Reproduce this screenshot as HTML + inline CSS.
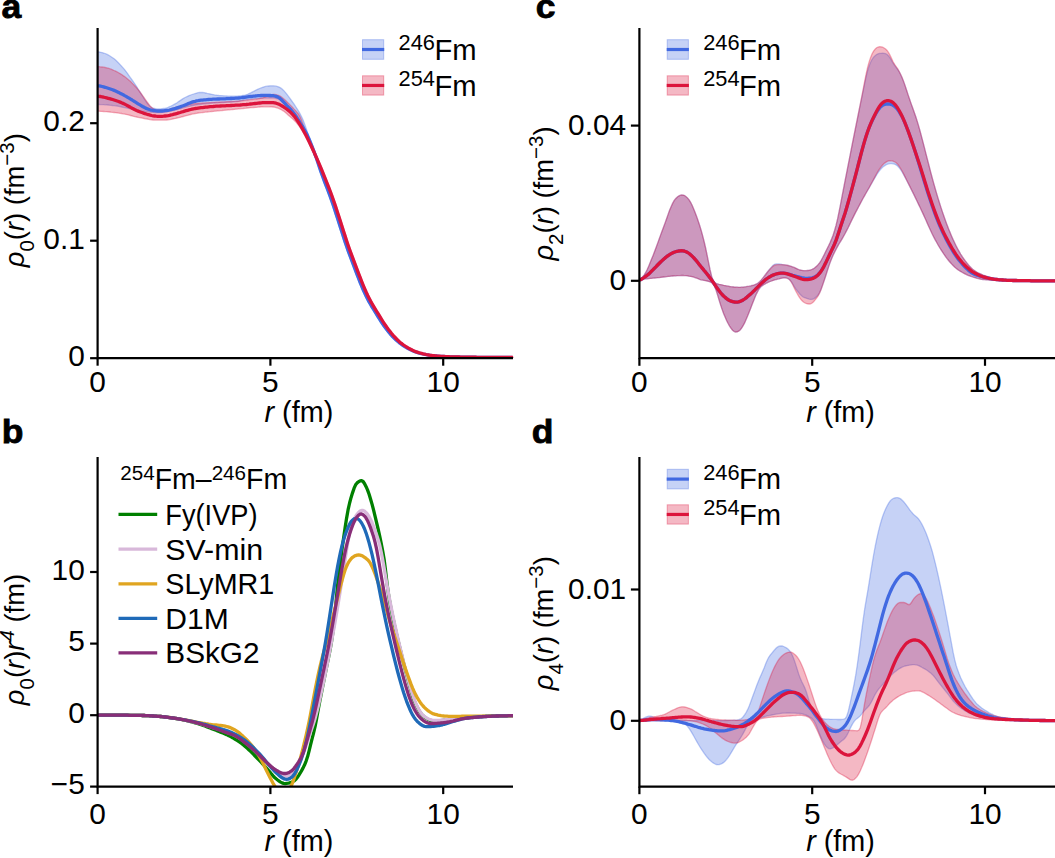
<!DOCTYPE html>
<html><head><meta charset="utf-8"><style>
html,body{margin:0;padding:0;background:#fff;}
svg{display:block;}
text{font-family:"Liberation Sans",sans-serif;fill:#000;}
</style></head><body>
<svg width="1055" height="858" viewBox="0 0 1055 858">
<rect width="1055" height="858" fill="#fff"/>
<path d="M97.6,51.7L99.1 52.0L100.6 52.3L102.1 52.6L103.6 53.0L105.1 53.5L106.6 54.2L108.1 54.9L109.6 55.8L111.1 56.7L112.6 57.7L114.1 58.8L115.6 60.1L117.1 61.5L118.6 63.0L120.1 64.6L121.6 66.2L123.1 67.9L124.6 69.6L126.1 71.6L127.6 73.6L129.1 75.8L130.6 77.9L132.1 80.0L133.6 82.1L135.1 84.3L136.6 86.6L138.1 89.0L139.6 91.4L141.1 93.8L142.6 96.2L144.1 98.6L145.6 100.9L147.1 103.0L148.6 104.9L150.1 106.4L151.6 107.5L153.1 108.2L154.6 108.5L156.1 108.8L157.6 108.9L159.1 108.9L160.6 108.9L162.1 108.7L163.6 108.5L165.1 108.3L166.6 107.9L168.1 107.4L169.6 106.7L171.1 106.0L172.6 105.2L174.1 104.4L175.6 103.6L177.1 102.7L178.6 101.6L180.1 100.6L181.6 99.6L183.1 98.6L184.6 97.7L186.1 97.0L187.6 96.3L189.1 95.6L190.6 95.0L192.1 94.5L193.6 94.0L195.1 93.5L196.6 93.1L198.1 92.7L199.6 92.5L201.1 92.4L202.6 92.5L204.1 92.7L205.6 93.0L207.1 93.4L208.6 93.7L210.1 94.0L211.6 94.3L213.1 94.6L214.6 94.9L216.1 95.1L217.6 95.3L219.1 95.5L220.6 95.6L222.1 95.7L223.6 95.8L225.1 95.9L226.6 96.0L228.1 96.1L229.6 96.1L231.1 96.1L232.6 96.2L234.1 96.2L235.6 96.2L237.1 96.1L238.6 96.0L240.1 95.9L241.6 95.7L243.1 95.5L244.6 95.3L246.1 94.8L247.6 94.3L249.1 93.6L250.6 92.9L252.1 92.1L253.6 91.4L255.1 90.6L256.6 89.8L258.1 89.1L259.6 88.5L261.1 87.9L262.6 87.3L264.1 86.8L265.6 86.4L267.1 86.2L268.6 86.0L270.1 85.8L271.6 85.8L273.1 85.8L274.6 85.9L276.1 86.2L277.6 86.6L279.1 87.1L280.6 87.9L282.1 89.0L283.6 90.4L285.1 92.1L286.6 93.9L288.1 95.9L289.6 97.9L291.1 100.0L292.6 102.1L294.1 104.2L295.6 106.5L297.1 108.8L298.6 111.2L300.1 113.8L301.6 116.7L303.1 120.0L304.6 123.9L306.1 128.3L307.6 132.8L309.1 136.9L310.6 140.6L312.1 144.3L313.6 148.1L315.1 152.0L316.6 156.2L318.1 160.5L319.6 165.0L321.1 169.5L322.6 173.9L324.1 178.0L325.6 182.0L327.1 185.9L328.6 189.7L330.1 193.7L331.6 197.7L333.1 202.0L334.6 206.5L336.1 211.1L337.6 215.7L339.1 220.4L340.6 225.1L342.1 229.8L343.6 234.5L345.1 239.2L346.6 243.8L348.1 248.1L349.6 252.3L351.1 256.3L352.6 260.3L354.1 264.3L355.6 268.3L357.1 272.3L358.6 276.2L360.1 280.0L361.6 283.8L363.1 287.5L364.6 290.9L366.1 294.2L367.6 297.3L369.1 300.2L370.6 303.0L372.1 305.6L373.6 308.1L375.1 310.5L376.6 312.9L378.1 315.4L379.6 317.8L381.1 320.2L382.6 322.6L384.1 324.8L385.6 326.9L387.1 329.0L388.6 330.9L390.1 332.8L391.6 334.5L393.1 336.1L394.6 337.7L396.1 339.2L397.6 340.6L399.1 341.9L400.6 343.1L402.1 344.2L403.6 345.2L405.1 346.2L406.6 347.1L408.1 348.0L409.6 348.9L411.1 349.6L412.6 350.4L414.1 351.0L415.6 351.6L417.1 352.1L418.6 352.6L420.1 353.0L421.6 353.4L423.1 353.8L424.6 354.1L426.1 354.5L427.6 354.8L429.1 355.0L430.6 355.3L432.1 355.5L433.6 355.6L435.1 355.8L436.6 355.9L438.1 356.1L439.6 356.2L441.1 356.3L442.6 356.4L444.1 356.5L445.6 356.6L447.1 356.6L448.6 356.7L450.1 356.8L451.6 356.8L453.1 356.9L454.6 356.9L456.1 356.9L457.6 357.0L459.1 357.0L460.6 357.1L462.1 357.1L463.6 357.1L465.1 357.1L466.6 357.2L468.1 357.2L469.6 357.2L471.1 357.2L472.6 357.2L474.1 357.2L475.6 357.2L477.1 357.3L478.6 357.3L480.1 357.3L481.6 357.3L483.1 357.3L484.6 357.3L486.1 357.3L487.6 357.3L489.1 357.3L490.6 357.3L492.1 357.3L493.6 357.4L495.1 357.4L496.6 357.4L498.1 357.4L499.6 357.4L501.1 357.4L502.6 357.4L504.1 357.4L505.6 357.4L507.1 357.4L508.6 357.4L510.1 357.4L511.6 357.4L513.1 357.4L513.2 357.4L511.4,357.4L510.1 357.4L508.6 357.4L507.1 357.4L505.6 357.4L504.1 357.4L502.6 357.4L501.1 357.4L499.6 357.4L498.1 357.4L496.6 357.4L495.1 357.4L493.6 357.4L492.1 357.4L490.6 357.3L489.1 357.3L487.6 357.3L486.1 357.3L484.6 357.3L483.1 357.3L481.6 357.3L480.1 357.3L478.6 357.3L477.1 357.3L475.6 357.3L474.1 357.2L472.6 357.2L471.1 357.2L469.6 357.2L468.1 357.2L466.6 357.2L465.1 357.2L463.6 357.1L462.1 357.1L460.6 357.1L459.1 357.1L457.6 357.0L456.1 357.0L454.6 356.9L453.1 356.9L451.6 356.9L450.1 356.8L448.6 356.8L447.1 356.7L445.6 356.7L444.1 356.6L442.6 356.5L441.1 356.4L439.6 356.3L438.1 356.2L436.6 356.1L435.1 356.0L433.6 355.8L432.1 355.7L430.6 355.5L429.1 355.3L427.6 355.1L426.1 354.8L424.6 354.5L423.1 354.2L421.6 353.9L420.1 353.5L418.6 353.1L417.1 352.7L415.6 352.2L414.1 351.7L412.6 351.2L411.1 350.5L409.6 349.8L408.1 349.0L406.6 348.2L405.1 347.3L403.6 346.4L402.1 345.4L400.6 344.4L399.1 343.3L397.6 342.1L396.1 340.8L394.6 339.5L393.1 338.0L391.6 336.5L390.1 334.8L388.6 333.1L387.1 331.3L385.6 329.4L384.1 327.3L382.6 325.2L381.1 323.0L379.6 320.7L378.1 318.3L376.6 315.9L375.1 313.4L373.6 311.0L372.1 308.6L370.6 306.1L369.1 303.5L367.6 300.8L366.1 297.9L364.6 294.9L363.1 291.6L361.6 288.2L360.1 284.5L358.6 280.8L357.1 276.9L355.6 273.1L354.1 269.1L352.6 265.1L351.1 261.1L349.6 257.1L348.1 253.1L346.6 249.0L345.1 244.7L343.6 240.2L342.1 235.5L340.6 230.7L339.1 226.0L337.6 221.3L336.1 216.7L334.6 212.0L333.1 207.4L331.6 202.9L330.1 198.6L328.6 194.5L327.1 190.5L325.6 186.7L324.1 182.8L322.6 178.8L321.1 174.7L319.6 170.4L318.1 165.9L316.6 161.4L315.1 157.0L313.6 152.9L312.1 148.9L310.6 145.0L309.1 141.3L307.6 137.7L306.1 134.3L304.6 131.2L303.1 128.1L301.6 125.2L300.1 122.2L298.6 119.4L297.1 116.9L295.6 114.9L294.1 113.2L292.6 111.6L291.1 109.9L289.6 108.1L288.1 106.3L286.6 104.7L285.1 103.2L283.6 101.9L282.1 100.8L280.6 99.9L279.1 99.3L277.6 98.8L276.1 98.5L274.6 98.2L273.1 98.1L271.6 98.0L270.1 98.0L268.6 98.0L267.1 98.1L265.6 98.1L264.1 98.1L262.6 98.2L261.1 98.2L259.6 98.3L258.1 98.4L256.6 98.6L255.1 98.7L253.6 98.9L252.1 99.0L250.6 99.2L249.1 99.4L247.6 99.6L246.1 99.9L244.6 100.1L243.1 100.4L241.6 100.7L240.1 101.0L238.6 101.3L237.1 101.5L235.6 101.7L234.1 101.8L232.6 102.0L231.1 102.1L229.6 102.2L228.1 102.2L226.6 102.3L225.1 102.4L223.6 102.5L222.1 102.5L220.6 102.6L219.1 102.7L217.6 102.8L216.1 102.9L214.6 103.0L213.1 103.1L211.6 103.2L210.1 103.3L208.6 103.5L207.1 103.6L205.6 103.8L204.1 103.9L202.6 104.1L201.1 104.3L199.6 104.5L198.1 104.7L196.6 104.9L195.1 105.1L193.6 105.4L192.1 105.7L190.6 106.0L189.1 106.3L187.6 106.7L186.1 107.1L184.6 107.5L183.1 108.0L181.6 108.4L180.1 108.8L178.6 109.2L177.1 109.5L175.6 109.9L174.1 110.2L172.6 110.5L171.1 110.8L169.6 111.1L168.1 111.4L166.6 111.7L165.1 112.0L163.6 112.2L162.1 112.4L160.6 112.5L159.1 112.6L157.6 112.6L156.1 112.5L154.6 112.5L153.1 112.4L151.6 112.3L150.1 112.1L148.6 112.0L147.1 111.8L145.6 111.7L144.1 111.5L142.6 111.3L141.1 111.0L139.6 110.7L138.1 110.4L136.6 110.1L135.1 109.8L133.6 109.5L132.1 109.2L130.6 108.9L129.1 108.6L127.6 108.2L126.1 107.9L124.6 107.6L123.1 107.3L121.6 107.0L120.1 106.6L118.6 106.3L117.1 106.0L115.6 105.8L114.1 105.6L112.6 105.5L111.1 105.3L109.6 105.2L108.1 105.0L106.6 104.9L105.1 104.8L103.6 104.7L102.1 104.6L100.6 104.6L99.1 104.5L97.6 104.5Z" fill="#4169e1" fill-opacity="0.3" stroke="none"/><path d="M97.6,51.7L99.1 52.0L100.6 52.3L102.1 52.6L103.6 53.0L105.1 53.5L106.6 54.2L108.1 54.9L109.6 55.8L111.1 56.7L112.6 57.7L114.1 58.8L115.6 60.1L117.1 61.5L118.6 63.0L120.1 64.6L121.6 66.2L123.1 67.9L124.6 69.6L126.1 71.6L127.6 73.6L129.1 75.8L130.6 77.9L132.1 80.0L133.6 82.1L135.1 84.3L136.6 86.6L138.1 89.0L139.6 91.4L141.1 93.8L142.6 96.2L144.1 98.6L145.6 100.9L147.1 103.0L148.6 104.9L150.1 106.4L151.6 107.5L153.1 108.2L154.6 108.5L156.1 108.8L157.6 108.9L159.1 108.9L160.6 108.9L162.1 108.7L163.6 108.5L165.1 108.3L166.6 107.9L168.1 107.4L169.6 106.7L171.1 106.0L172.6 105.2L174.1 104.4L175.6 103.6L177.1 102.7L178.6 101.6L180.1 100.6L181.6 99.6L183.1 98.6L184.6 97.7L186.1 97.0L187.6 96.3L189.1 95.6L190.6 95.0L192.1 94.5L193.6 94.0L195.1 93.5L196.6 93.1L198.1 92.7L199.6 92.5L201.1 92.4L202.6 92.5L204.1 92.7L205.6 93.0L207.1 93.4L208.6 93.7L210.1 94.0L211.6 94.3L213.1 94.6L214.6 94.9L216.1 95.1L217.6 95.3L219.1 95.5L220.6 95.6L222.1 95.7L223.6 95.8L225.1 95.9L226.6 96.0L228.1 96.1L229.6 96.1L231.1 96.1L232.6 96.2L234.1 96.2L235.6 96.2L237.1 96.1L238.6 96.0L240.1 95.9L241.6 95.7L243.1 95.5L244.6 95.3L246.1 94.8L247.6 94.3L249.1 93.6L250.6 92.9L252.1 92.1L253.6 91.4L255.1 90.6L256.6 89.8L258.1 89.1L259.6 88.5L261.1 87.9L262.6 87.3L264.1 86.8L265.6 86.4L267.1 86.2L268.6 86.0L270.1 85.8L271.6 85.8L273.1 85.8L274.6 85.9L276.1 86.2L277.6 86.6L279.1 87.1L280.6 87.9L282.1 89.0L283.6 90.4L285.1 92.1L286.6 93.9L288.1 95.9L289.6 97.9L291.1 100.0L292.6 102.1L294.1 104.2L295.6 106.5L297.1 108.8L298.6 111.2L300.1 113.8L301.6 116.7L303.1 120.0L304.6 123.9L306.1 128.3L307.6 132.8L309.1 136.9L310.6 140.6L312.1 144.3L313.6 148.1L315.1 152.0L316.6 156.2L318.1 160.5L319.6 165.0L321.1 169.5L322.6 173.9L324.1 178.0L325.6 182.0L327.1 185.9L328.6 189.7L330.1 193.7L331.6 197.7L333.1 202.0L334.6 206.5L336.1 211.1L337.6 215.7L339.1 220.4L340.6 225.1L342.1 229.8L343.6 234.5L345.1 239.2L346.6 243.8L348.1 248.1L349.6 252.3L351.1 256.3L352.6 260.3L354.1 264.3L355.6 268.3L357.1 272.3L358.6 276.2L360.1 280.0L361.6 283.8L363.1 287.5L364.6 290.9L366.1 294.2L367.6 297.3L369.1 300.2L370.6 303.0L372.1 305.6L373.6 308.1L375.1 310.5L376.6 312.9L378.1 315.4L379.6 317.8L381.1 320.2L382.6 322.6L384.1 324.8L385.6 326.9L387.1 329.0L388.6 330.9L390.1 332.8L391.6 334.5L393.1 336.1L394.6 337.7L396.1 339.2L397.6 340.6L399.1 341.9L400.6 343.1L402.1 344.2L403.6 345.2L405.1 346.2L406.6 347.1L408.1 348.0L409.6 348.9L411.1 349.6L412.6 350.4L414.1 351.0L415.6 351.6L417.1 352.1L418.6 352.6L420.1 353.0L421.6 353.4L423.1 353.8L424.6 354.1L426.1 354.5L427.6 354.8L429.1 355.0L430.6 355.3L432.1 355.5L433.6 355.6L435.1 355.8L436.6 355.9L438.1 356.1L439.6 356.2L441.1 356.3L442.6 356.4L444.1 356.5L445.6 356.6L447.1 356.6L448.6 356.7L450.1 356.8L451.6 356.8L453.1 356.9L454.6 356.9L456.1 356.9L457.6 357.0L459.1 357.0L460.6 357.1L462.1 357.1L463.6 357.1L465.1 357.1L466.6 357.2L468.1 357.2L469.6 357.2L471.1 357.2L472.6 357.2L474.1 357.2L475.6 357.2L477.1 357.3L478.6 357.3L480.1 357.3L481.6 357.3L483.1 357.3L484.6 357.3L486.1 357.3L487.6 357.3L489.1 357.3L490.6 357.3L492.1 357.3L493.6 357.4L495.1 357.4L496.6 357.4L498.1 357.4L499.6 357.4L501.1 357.4L502.6 357.4L504.1 357.4L505.6 357.4L507.1 357.4L508.6 357.4L510.1 357.4L511.6 357.4L513.1 357.4L513.2 357.4" fill="none" stroke="#4169e1" stroke-opacity="0.35" stroke-width="1.3"/><path d="M97.6,104.5L99.1 104.5L100.6 104.6L102.1 104.6L103.6 104.7L105.1 104.8L106.6 104.9L108.1 105.0L109.6 105.2L111.1 105.3L112.6 105.5L114.1 105.6L115.6 105.8L117.1 106.0L118.6 106.3L120.1 106.6L121.6 107.0L123.1 107.3L124.6 107.6L126.1 107.9L127.6 108.2L129.1 108.6L130.6 108.9L132.1 109.2L133.6 109.5L135.1 109.8L136.6 110.1L138.1 110.4L139.6 110.7L141.1 111.0L142.6 111.3L144.1 111.5L145.6 111.7L147.1 111.8L148.6 112.0L150.1 112.1L151.6 112.3L153.1 112.4L154.6 112.5L156.1 112.5L157.6 112.6L159.1 112.6L160.6 112.5L162.1 112.4L163.6 112.2L165.1 112.0L166.6 111.7L168.1 111.4L169.6 111.1L171.1 110.8L172.6 110.5L174.1 110.2L175.6 109.9L177.1 109.5L178.6 109.2L180.1 108.8L181.6 108.4L183.1 108.0L184.6 107.5L186.1 107.1L187.6 106.7L189.1 106.3L190.6 106.0L192.1 105.7L193.6 105.4L195.1 105.1L196.6 104.9L198.1 104.7L199.6 104.5L201.1 104.3L202.6 104.1L204.1 103.9L205.6 103.8L207.1 103.6L208.6 103.5L210.1 103.3L211.6 103.2L213.1 103.1L214.6 103.0L216.1 102.9L217.6 102.8L219.1 102.7L220.6 102.6L222.1 102.5L223.6 102.5L225.1 102.4L226.6 102.3L228.1 102.2L229.6 102.2L231.1 102.1L232.6 102.0L234.1 101.8L235.6 101.7L237.1 101.5L238.6 101.3L240.1 101.0L241.6 100.7L243.1 100.4L244.6 100.1L246.1 99.9L247.6 99.6L249.1 99.4L250.6 99.2L252.1 99.0L253.6 98.9L255.1 98.7L256.6 98.6L258.1 98.4L259.6 98.3L261.1 98.2L262.6 98.2L264.1 98.1L265.6 98.1L267.1 98.1L268.6 98.0L270.1 98.0L271.6 98.0L273.1 98.1L274.6 98.2L276.1 98.5L277.6 98.8L279.1 99.3L280.6 99.9L282.1 100.8L283.6 101.9L285.1 103.2L286.6 104.7L288.1 106.3L289.6 108.1L291.1 109.9L292.6 111.6L294.1 113.2L295.6 114.9L297.1 116.9L298.6 119.4L300.1 122.2L301.6 125.2L303.1 128.1L304.6 131.2L306.1 134.3L307.6 137.7L309.1 141.3L310.6 145.0L312.1 148.9L313.6 152.9L315.1 157.0L316.6 161.4L318.1 165.9L319.6 170.4L321.1 174.7L322.6 178.8L324.1 182.8L325.6 186.7L327.1 190.5L328.6 194.5L330.1 198.6L331.6 202.9L333.1 207.4L334.6 212.0L336.1 216.7L337.6 221.3L339.1 226.0L340.6 230.7L342.1 235.5L343.6 240.2L345.1 244.7L346.6 249.0L348.1 253.1L349.6 257.1L351.1 261.1L352.6 265.1L354.1 269.1L355.6 273.1L357.1 276.9L358.6 280.8L360.1 284.5L361.6 288.2L363.1 291.6L364.6 294.9L366.1 297.9L367.6 300.8L369.1 303.5L370.6 306.1L372.1 308.6L373.6 311.0L375.1 313.4L376.6 315.9L378.1 318.3L379.6 320.7L381.1 323.0L382.6 325.2L384.1 327.3L385.6 329.4L387.1 331.3L388.6 333.1L390.1 334.8L391.6 336.5L393.1 338.0L394.6 339.5L396.1 340.8L397.6 342.1L399.1 343.3L400.6 344.4L402.1 345.4L403.6 346.4L405.1 347.3L406.6 348.2L408.1 349.0L409.6 349.8L411.1 350.5L412.6 351.2L414.1 351.7L415.6 352.2L417.1 352.7L418.6 353.1L420.1 353.5L421.6 353.9L423.1 354.2L424.6 354.5L426.1 354.8L427.6 355.1L429.1 355.3L430.6 355.5L432.1 355.7L433.6 355.8L435.1 356.0L436.6 356.1L438.1 356.2L439.6 356.3L441.1 356.4L442.6 356.5L444.1 356.6L445.6 356.7L447.1 356.7L448.6 356.8L450.1 356.8L451.6 356.9L453.1 356.9L454.6 356.9L456.1 357.0L457.6 357.0L459.1 357.1L460.6 357.1L462.1 357.1L463.6 357.1L465.1 357.2L466.6 357.2L468.1 357.2L469.6 357.2L471.1 357.2L472.6 357.2L474.1 357.2L475.6 357.3L477.1 357.3L478.6 357.3L480.1 357.3L481.6 357.3L483.1 357.3L484.6 357.3L486.1 357.3L487.6 357.3L489.1 357.3L490.6 357.3L492.1 357.4L493.6 357.4L495.1 357.4L496.6 357.4L498.1 357.4L499.6 357.4L501.1 357.4L502.6 357.4L504.1 357.4L505.6 357.4L507.1 357.4L508.6 357.4L510.1 357.4L511.4 357.4" fill="none" stroke="#4169e1" stroke-opacity="0.35" stroke-width="1.3"/>
<path d="M97.6,66.6L99.1 66.7L100.6 66.9L102.1 67.0L103.6 67.2L105.1 67.5L106.6 67.8L108.1 68.2L109.6 68.7L111.1 69.2L112.6 69.8L114.1 70.5L115.6 71.1L117.1 71.9L118.6 72.7L120.1 73.6L121.6 74.5L123.1 75.6L124.6 76.6L126.1 77.7L127.6 79.0L129.1 80.3L130.6 81.6L132.1 83.1L133.6 84.6L135.1 86.2L136.6 87.8L138.1 89.6L139.6 91.5L141.1 93.5L142.6 95.6L144.1 97.7L145.6 99.9L147.1 102.0L148.6 104.0L150.1 105.9L151.6 107.5L153.1 108.6L154.6 109.5L156.1 110.0L157.6 110.4L159.1 110.5L160.6 110.5L162.1 110.5L163.6 110.4L165.1 110.3L166.6 110.1L168.1 109.8L169.6 109.3L171.1 108.9L172.6 108.4L174.1 107.9L175.6 107.4L177.1 107.0L178.6 106.5L180.1 106.1L181.6 105.7L183.1 105.3L184.6 105.0L186.1 104.8L187.6 104.5L189.1 104.3L190.6 104.1L192.1 103.9L193.6 103.7L195.1 103.6L196.6 103.5L198.1 103.3L199.6 103.2L201.1 103.1L202.6 103.0L204.1 102.9L205.6 102.8L207.1 102.7L208.6 102.7L210.1 102.6L211.6 102.5L213.1 102.4L214.6 102.3L216.1 102.2L217.6 102.2L219.1 102.1L220.6 102.0L222.1 101.9L223.6 101.9L225.1 101.8L226.6 101.7L228.1 101.7L229.6 101.6L231.1 101.5L232.6 101.4L234.1 101.3L235.6 101.2L237.1 101.1L238.6 101.0L240.1 100.8L241.6 100.7L243.1 100.5L244.6 100.4L246.1 100.2L247.6 100.0L249.1 99.9L250.6 99.7L252.1 99.5L253.6 99.4L255.1 99.2L256.6 99.0L258.1 98.8L259.6 98.5L261.1 98.1L262.6 97.8L264.1 97.3L265.6 96.8L267.1 96.2L268.6 95.5L270.1 94.9L271.6 94.6L273.1 94.4L274.6 94.5L276.1 94.7L277.6 95.1L279.1 95.6L280.6 96.3L282.1 97.4L283.6 98.7L285.1 100.1L286.6 101.5L288.1 102.9L289.6 104.4L291.1 105.9L292.6 107.5L294.1 109.1L295.6 110.6L297.1 112.3L298.6 114.2L300.1 116.8L301.6 120.2L303.1 124.4L304.6 128.8L306.1 132.9L307.6 136.6L309.1 139.8L310.6 142.9L312.1 146.1L313.6 149.3L315.1 152.5L316.6 155.9L318.1 159.3L319.6 162.7L321.1 166.3L322.6 169.8L324.1 173.5L325.6 177.2L327.1 181.0L328.6 184.8L330.1 188.6L331.6 192.6L333.1 196.6L334.6 200.9L336.1 205.3L337.6 209.9L339.1 214.5L340.6 219.2L342.1 223.8L343.6 228.5L345.1 233.3L346.6 238.0L348.1 242.6L349.6 247.0L351.1 251.2L352.6 255.2L354.1 259.2L355.6 263.2L357.1 267.2L358.6 271.2L360.1 275.1L361.6 279.0L363.1 282.8L364.6 286.5L366.1 290.0L367.6 293.4L369.1 296.5L370.6 299.5L372.1 302.3L373.6 304.9L375.1 307.4L376.6 309.9L378.1 312.3L379.6 314.7L381.1 317.2L382.6 319.6L384.1 321.9L385.6 324.2L387.1 326.4L388.6 328.5L390.1 330.5L391.6 332.4L393.1 334.3L394.6 336.0L396.1 337.6L397.6 339.2L399.1 340.6L400.6 341.9L402.1 343.2L403.6 344.3L405.1 345.4L406.6 346.4L408.1 347.4L409.6 348.2L411.1 349.1L412.6 349.9L414.1 350.6L415.6 351.2L417.1 351.8L418.6 352.3L420.1 352.8L421.6 353.2L423.1 353.6L424.6 353.9L426.1 354.3L427.6 354.6L429.1 354.9L430.6 355.1L432.1 355.4L433.6 355.5L435.1 355.7L436.6 355.9L438.1 356.0L439.6 356.1L441.1 356.3L442.6 356.4L444.1 356.5L445.6 356.5L447.1 356.6L448.6 356.7L450.1 356.7L451.6 356.8L453.1 356.8L454.6 356.9L456.1 356.9L457.6 357.0L459.1 357.0L460.6 357.0L462.1 357.1L463.6 357.1L465.1 357.1L466.6 357.1L468.1 357.2L469.6 357.2L471.1 357.2L472.6 357.2L474.1 357.2L475.6 357.2L477.1 357.2L478.6 357.3L480.1 357.3L481.6 357.3L483.1 357.3L484.6 357.3L486.1 357.3L487.6 357.3L489.1 357.3L490.6 357.3L492.1 357.3L493.6 357.4L495.1 357.4L496.6 357.4L498.1 357.4L499.6 357.4L501.1 357.4L502.6 357.4L504.1 357.4L505.6 357.4L507.1 357.4L508.6 357.4L510.1 357.4L511.6 357.4L513.1 357.4L513.9 357.4L512.1,357.4L511.6 357.4L510.1 357.4L508.6 357.4L507.1 357.4L505.6 357.4L504.1 357.4L502.6 357.4L501.1 357.4L499.6 357.4L498.1 357.4L496.6 357.4L495.1 357.4L493.6 357.4L492.1 357.4L490.6 357.3L489.1 357.3L487.6 357.3L486.1 357.3L484.6 357.3L483.1 357.3L481.6 357.3L480.1 357.3L478.6 357.3L477.1 357.3L475.6 357.3L474.1 357.2L472.6 357.2L471.1 357.2L469.6 357.2L468.1 357.2L466.6 357.2L465.1 357.2L463.6 357.1L462.1 357.1L460.6 357.1L459.1 357.0L457.6 357.0L456.1 357.0L454.6 356.9L453.1 356.9L451.6 356.8L450.1 356.8L448.6 356.7L447.1 356.7L445.6 356.6L444.1 356.6L442.6 356.5L441.1 356.4L439.6 356.3L438.1 356.2L436.6 356.0L435.1 355.9L433.6 355.8L432.1 355.6L430.6 355.4L429.1 355.2L427.6 354.9L426.1 354.6L424.6 354.3L423.1 354.0L421.6 353.6L420.1 353.3L418.6 352.9L417.1 352.4L415.6 351.9L414.1 351.4L412.6 350.7L411.1 350.0L409.6 349.2L408.1 348.4L406.6 347.5L405.1 346.6L403.6 345.6L402.1 344.6L400.6 343.4L399.1 342.2L397.6 340.9L396.1 339.5L394.6 337.9L393.1 336.3L391.6 334.6L390.1 332.8L388.6 330.9L387.1 328.9L385.6 326.8L384.1 324.7L382.6 322.4L381.1 320.1L379.6 317.6L378.1 315.2L376.6 312.8L375.1 310.3L373.6 307.9L372.1 305.4L370.6 302.8L369.1 300.1L367.6 297.1L366.1 294.0L364.6 290.7L363.1 287.2L361.6 283.6L360.1 279.8L358.6 275.9L357.1 272.0L355.6 268.0L354.1 264.0L352.6 260.0L351.1 256.0L349.6 252.0L348.1 247.8L346.6 243.5L345.1 238.9L343.6 234.2L342.1 229.5L340.6 224.8L339.1 220.1L337.6 215.4L336.1 210.8L334.6 206.2L333.1 201.8L331.6 197.5L330.1 193.4L328.6 189.4L327.1 185.6L325.6 181.8L324.1 178.0L322.6 174.2L321.1 170.6L319.6 167.0L318.1 163.4L316.6 160.0L315.1 156.5L313.6 153.2L312.1 149.9L310.6 146.7L309.1 143.6L307.6 140.6L306.1 137.7L304.6 134.9L303.1 132.3L301.6 129.8L300.1 127.5L298.6 125.4L297.1 123.5L295.6 121.7L294.1 120.2L292.6 118.8L291.1 117.5L289.6 116.2L288.1 114.9L286.6 113.5L285.1 112.3L283.6 111.1L282.1 110.2L280.6 109.3L279.1 108.6L277.6 108.0L276.1 107.6L274.6 107.2L273.1 107.0L271.6 106.9L270.1 106.9L268.6 106.8L267.1 106.8L265.6 106.8L264.1 106.8L262.6 106.9L261.1 106.9L259.6 107.0L258.1 107.1L256.6 107.3L255.1 107.4L253.6 107.5L252.1 107.6L250.6 107.7L249.1 107.9L247.6 108.0L246.1 108.2L244.6 108.3L243.1 108.5L241.6 108.6L240.1 108.8L238.6 108.9L237.1 109.1L235.6 109.2L234.1 109.4L232.6 109.5L231.1 109.6L229.6 109.8L228.1 109.9L226.6 110.1L225.1 110.2L223.6 110.3L222.1 110.5L220.6 110.6L219.1 110.8L217.6 110.9L216.1 111.1L214.6 111.2L213.1 111.4L211.6 111.5L210.1 111.7L208.6 111.8L207.1 112.0L205.6 112.1L204.1 112.3L202.6 112.5L201.1 112.6L199.6 112.8L198.1 113.0L196.6 113.3L195.1 113.5L193.6 113.8L192.1 114.1L190.6 114.5L189.1 114.9L187.6 115.3L186.1 115.7L184.6 116.1L183.1 116.5L181.6 116.9L180.1 117.3L178.6 117.7L177.1 118.0L175.6 118.4L174.1 118.7L172.6 119.0L171.1 119.3L169.6 119.6L168.1 119.8L166.6 120.0L165.1 120.1L163.6 120.1L162.1 120.1L160.6 120.1L159.1 120.1L157.6 120.1L156.1 120.1L154.6 120.1L153.1 120.0L151.6 119.8L150.1 119.6L148.6 119.3L147.1 119.0L145.6 118.8L144.1 118.5L142.6 118.2L141.1 117.9L139.6 117.6L138.1 117.3L136.6 117.0L135.1 116.7L133.6 116.3L132.1 115.9L130.6 115.5L129.1 115.1L127.6 114.7L126.1 114.4L124.6 114.1L123.1 113.8L121.6 113.5L120.1 113.3L118.6 113.1L117.1 112.9L115.6 112.7L114.1 112.5L112.6 112.3L111.1 112.2L109.6 112.0L108.1 111.9L106.6 111.7L105.1 111.6L103.6 111.5L102.1 111.4L100.6 111.3L99.1 111.2L97.6 111.1Z" fill="#dc143c" fill-opacity="0.3" stroke="none"/><path d="M97.6,66.6L99.1 66.7L100.6 66.9L102.1 67.0L103.6 67.2L105.1 67.5L106.6 67.8L108.1 68.2L109.6 68.7L111.1 69.2L112.6 69.8L114.1 70.5L115.6 71.1L117.1 71.9L118.6 72.7L120.1 73.6L121.6 74.5L123.1 75.6L124.6 76.6L126.1 77.7L127.6 79.0L129.1 80.3L130.6 81.6L132.1 83.1L133.6 84.6L135.1 86.2L136.6 87.8L138.1 89.6L139.6 91.5L141.1 93.5L142.6 95.6L144.1 97.7L145.6 99.9L147.1 102.0L148.6 104.0L150.1 105.9L151.6 107.5L153.1 108.6L154.6 109.5L156.1 110.0L157.6 110.4L159.1 110.5L160.6 110.5L162.1 110.5L163.6 110.4L165.1 110.3L166.6 110.1L168.1 109.8L169.6 109.3L171.1 108.9L172.6 108.4L174.1 107.9L175.6 107.4L177.1 107.0L178.6 106.5L180.1 106.1L181.6 105.7L183.1 105.3L184.6 105.0L186.1 104.8L187.6 104.5L189.1 104.3L190.6 104.1L192.1 103.9L193.6 103.7L195.1 103.6L196.6 103.5L198.1 103.3L199.6 103.2L201.1 103.1L202.6 103.0L204.1 102.9L205.6 102.8L207.1 102.7L208.6 102.7L210.1 102.6L211.6 102.5L213.1 102.4L214.6 102.3L216.1 102.2L217.6 102.2L219.1 102.1L220.6 102.0L222.1 101.9L223.6 101.9L225.1 101.8L226.6 101.7L228.1 101.7L229.6 101.6L231.1 101.5L232.6 101.4L234.1 101.3L235.6 101.2L237.1 101.1L238.6 101.0L240.1 100.8L241.6 100.7L243.1 100.5L244.6 100.4L246.1 100.2L247.6 100.0L249.1 99.9L250.6 99.7L252.1 99.5L253.6 99.4L255.1 99.2L256.6 99.0L258.1 98.8L259.6 98.5L261.1 98.1L262.6 97.8L264.1 97.3L265.6 96.8L267.1 96.2L268.6 95.5L270.1 94.9L271.6 94.6L273.1 94.4L274.6 94.5L276.1 94.7L277.6 95.1L279.1 95.6L280.6 96.3L282.1 97.4L283.6 98.7L285.1 100.1L286.6 101.5L288.1 102.9L289.6 104.4L291.1 105.9L292.6 107.5L294.1 109.1L295.6 110.6L297.1 112.3L298.6 114.2L300.1 116.8L301.6 120.2L303.1 124.4L304.6 128.8L306.1 132.9L307.6 136.6L309.1 139.8L310.6 142.9L312.1 146.1L313.6 149.3L315.1 152.5L316.6 155.9L318.1 159.3L319.6 162.7L321.1 166.3L322.6 169.8L324.1 173.5L325.6 177.2L327.1 181.0L328.6 184.8L330.1 188.6L331.6 192.6L333.1 196.6L334.6 200.9L336.1 205.3L337.6 209.9L339.1 214.5L340.6 219.2L342.1 223.8L343.6 228.5L345.1 233.3L346.6 238.0L348.1 242.6L349.6 247.0L351.1 251.2L352.6 255.2L354.1 259.2L355.6 263.2L357.1 267.2L358.6 271.2L360.1 275.1L361.6 279.0L363.1 282.8L364.6 286.5L366.1 290.0L367.6 293.4L369.1 296.5L370.6 299.5L372.1 302.3L373.6 304.9L375.1 307.4L376.6 309.9L378.1 312.3L379.6 314.7L381.1 317.2L382.6 319.6L384.1 321.9L385.6 324.2L387.1 326.4L388.6 328.5L390.1 330.5L391.6 332.4L393.1 334.3L394.6 336.0L396.1 337.6L397.6 339.2L399.1 340.6L400.6 341.9L402.1 343.2L403.6 344.3L405.1 345.4L406.6 346.4L408.1 347.4L409.6 348.2L411.1 349.1L412.6 349.9L414.1 350.6L415.6 351.2L417.1 351.8L418.6 352.3L420.1 352.8L421.6 353.2L423.1 353.6L424.6 353.9L426.1 354.3L427.6 354.6L429.1 354.9L430.6 355.1L432.1 355.4L433.6 355.5L435.1 355.7L436.6 355.9L438.1 356.0L439.6 356.1L441.1 356.3L442.6 356.4L444.1 356.5L445.6 356.5L447.1 356.6L448.6 356.7L450.1 356.7L451.6 356.8L453.1 356.8L454.6 356.9L456.1 356.9L457.6 357.0L459.1 357.0L460.6 357.0L462.1 357.1L463.6 357.1L465.1 357.1L466.6 357.1L468.1 357.2L469.6 357.2L471.1 357.2L472.6 357.2L474.1 357.2L475.6 357.2L477.1 357.2L478.6 357.3L480.1 357.3L481.6 357.3L483.1 357.3L484.6 357.3L486.1 357.3L487.6 357.3L489.1 357.3L490.6 357.3L492.1 357.3L493.6 357.4L495.1 357.4L496.6 357.4L498.1 357.4L499.6 357.4L501.1 357.4L502.6 357.4L504.1 357.4L505.6 357.4L507.1 357.4L508.6 357.4L510.1 357.4L511.6 357.4L513.1 357.4L513.9 357.4" fill="none" stroke="#dc143c" stroke-opacity="0.35" stroke-width="1.3"/><path d="M97.6,111.1L99.1 111.2L100.6 111.3L102.1 111.4L103.6 111.5L105.1 111.6L106.6 111.7L108.1 111.9L109.6 112.0L111.1 112.2L112.6 112.3L114.1 112.5L115.6 112.7L117.1 112.9L118.6 113.1L120.1 113.3L121.6 113.5L123.1 113.8L124.6 114.1L126.1 114.4L127.6 114.7L129.1 115.1L130.6 115.5L132.1 115.9L133.6 116.3L135.1 116.7L136.6 117.0L138.1 117.3L139.6 117.6L141.1 117.9L142.6 118.2L144.1 118.5L145.6 118.8L147.1 119.0L148.6 119.3L150.1 119.6L151.6 119.8L153.1 120.0L154.6 120.1L156.1 120.1L157.6 120.1L159.1 120.1L160.6 120.1L162.1 120.1L163.6 120.1L165.1 120.1L166.6 120.0L168.1 119.8L169.6 119.6L171.1 119.3L172.6 119.0L174.1 118.7L175.6 118.4L177.1 118.0L178.6 117.7L180.1 117.3L181.6 116.9L183.1 116.5L184.6 116.1L186.1 115.7L187.6 115.3L189.1 114.9L190.6 114.5L192.1 114.1L193.6 113.8L195.1 113.5L196.6 113.3L198.1 113.0L199.6 112.8L201.1 112.6L202.6 112.5L204.1 112.3L205.6 112.1L207.1 112.0L208.6 111.8L210.1 111.7L211.6 111.5L213.1 111.4L214.6 111.2L216.1 111.1L217.6 110.9L219.1 110.8L220.6 110.6L222.1 110.5L223.6 110.3L225.1 110.2L226.6 110.1L228.1 109.9L229.6 109.8L231.1 109.6L232.6 109.5L234.1 109.4L235.6 109.2L237.1 109.1L238.6 108.9L240.1 108.8L241.6 108.6L243.1 108.5L244.6 108.3L246.1 108.2L247.6 108.0L249.1 107.9L250.6 107.7L252.1 107.6L253.6 107.5L255.1 107.4L256.6 107.3L258.1 107.1L259.6 107.0L261.1 106.9L262.6 106.9L264.1 106.8L265.6 106.8L267.1 106.8L268.6 106.8L270.1 106.9L271.6 106.9L273.1 107.0L274.6 107.2L276.1 107.6L277.6 108.0L279.1 108.6L280.6 109.3L282.1 110.2L283.6 111.1L285.1 112.3L286.6 113.5L288.1 114.9L289.6 116.2L291.1 117.5L292.6 118.8L294.1 120.2L295.6 121.7L297.1 123.5L298.6 125.4L300.1 127.5L301.6 129.8L303.1 132.3L304.6 134.9L306.1 137.7L307.6 140.6L309.1 143.6L310.6 146.7L312.1 149.9L313.6 153.2L315.1 156.5L316.6 160.0L318.1 163.4L319.6 167.0L321.1 170.6L322.6 174.2L324.1 178.0L325.6 181.8L327.1 185.6L328.6 189.4L330.1 193.4L331.6 197.5L333.1 201.8L334.6 206.2L336.1 210.8L337.6 215.4L339.1 220.1L340.6 224.8L342.1 229.5L343.6 234.2L345.1 238.9L346.6 243.5L348.1 247.8L349.6 252.0L351.1 256.0L352.6 260.0L354.1 264.0L355.6 268.0L357.1 272.0L358.6 275.9L360.1 279.8L361.6 283.6L363.1 287.2L364.6 290.7L366.1 294.0L367.6 297.1L369.1 300.1L370.6 302.8L372.1 305.4L373.6 307.9L375.1 310.3L376.6 312.8L378.1 315.2L379.6 317.6L381.1 320.1L382.6 322.4L384.1 324.7L385.6 326.8L387.1 328.9L388.6 330.9L390.1 332.8L391.6 334.6L393.1 336.3L394.6 337.9L396.1 339.5L397.6 340.9L399.1 342.2L400.6 343.4L402.1 344.6L403.6 345.6L405.1 346.6L406.6 347.5L408.1 348.4L409.6 349.2L411.1 350.0L412.6 350.7L414.1 351.4L415.6 351.9L417.1 352.4L418.6 352.9L420.1 353.3L421.6 353.6L423.1 354.0L424.6 354.3L426.1 354.6L427.6 354.9L429.1 355.2L430.6 355.4L432.1 355.6L433.6 355.8L435.1 355.9L436.6 356.0L438.1 356.2L439.6 356.3L441.1 356.4L442.6 356.5L444.1 356.6L445.6 356.6L447.1 356.7L448.6 356.7L450.1 356.8L451.6 356.8L453.1 356.9L454.6 356.9L456.1 357.0L457.6 357.0L459.1 357.0L460.6 357.1L462.1 357.1L463.6 357.1L465.1 357.2L466.6 357.2L468.1 357.2L469.6 357.2L471.1 357.2L472.6 357.2L474.1 357.2L475.6 357.3L477.1 357.3L478.6 357.3L480.1 357.3L481.6 357.3L483.1 357.3L484.6 357.3L486.1 357.3L487.6 357.3L489.1 357.3L490.6 357.3L492.1 357.4L493.6 357.4L495.1 357.4L496.6 357.4L498.1 357.4L499.6 357.4L501.1 357.4L502.6 357.4L504.1 357.4L505.6 357.4L507.1 357.4L508.6 357.4L510.1 357.4L511.6 357.4L512.1 357.4" fill="none" stroke="#dc143c" stroke-opacity="0.35" stroke-width="1.3"/>
<path d="M97.6,85.8L99.1 85.9L100.6 86.2L102.1 86.5L103.6 86.9L105.1 87.3L106.6 87.8L108.1 88.3L109.6 88.8L111.1 89.3L112.6 89.8L114.1 90.4L115.6 91.0L117.1 91.7L118.6 92.4L120.1 93.2L121.6 93.9L123.1 94.7L124.6 95.6L126.1 96.4L127.6 97.3L129.1 98.2L130.6 99.1L132.1 100.0L133.6 101.0L135.1 101.9L136.6 102.8L138.1 103.8L139.6 104.7L141.1 105.6L142.6 106.5L144.1 107.3L145.6 108.1L147.1 108.7L148.6 109.3L150.1 109.8L151.6 110.2L153.1 110.5L154.6 110.7L156.1 110.9L157.6 111.0L159.1 111.0L160.6 111.0L162.1 111.0L163.6 110.9L165.1 110.7L166.6 110.5L168.1 110.3L169.6 110.0L171.1 109.6L172.6 109.2L174.1 108.8L175.6 108.4L177.1 107.9L178.6 107.4L180.1 106.9L181.6 106.3L183.1 105.8L184.6 105.2L186.1 104.6L187.6 103.9L189.1 103.3L190.6 102.7L192.1 102.1L193.6 101.6L195.1 101.3L196.6 100.9L198.1 100.7L199.6 100.4L201.1 100.2L202.6 100.1L204.1 99.9L205.6 99.8L207.1 99.6L208.6 99.5L210.1 99.4L211.6 99.3L213.1 99.2L214.6 99.1L216.1 99.1L217.6 99.0L219.1 99.0L220.6 98.9L222.1 98.9L223.6 98.8L225.1 98.8L226.6 98.7L228.1 98.7L229.6 98.6L231.1 98.5L232.6 98.4L234.1 98.3L235.6 98.2L237.1 98.1L238.6 98.0L240.1 97.8L241.6 97.7L243.1 97.5L244.6 97.3L246.1 97.1L247.6 96.9L249.1 96.7L250.6 96.5L252.1 96.3L253.6 96.1L255.1 96.0L256.6 95.8L258.1 95.7L259.6 95.6L261.1 95.5L262.6 95.4L264.1 95.3L265.6 95.3L267.1 95.4L268.6 95.4L270.1 95.5L271.6 95.6L273.1 95.7L274.6 96.0L276.1 96.4L277.6 96.9L279.1 97.8L280.6 99.0L282.1 100.5L283.6 102.1L285.1 103.7L286.6 105.3L288.1 106.8L289.6 108.4L291.1 110.0L292.6 111.8L294.1 113.7L295.6 115.8L297.1 118.0L298.6 120.4L300.1 122.9L301.6 125.2L303.1 127.5L304.6 130.0L306.1 132.7L307.6 135.8L309.1 139.2L310.6 142.8L312.1 146.6L313.6 150.5L315.1 154.6L316.6 158.8L318.1 163.2L319.6 167.7L321.1 172.1L322.6 176.3L324.1 180.4L325.6 184.3L327.1 188.2L328.6 192.1L330.1 196.2L331.6 200.4L333.1 204.8L334.6 209.3L336.1 213.9L337.6 218.5L339.1 223.2L340.6 227.9L342.1 232.6L343.6 237.3L345.1 241.9L346.6 246.3L348.1 250.6L349.6 254.7L351.1 258.7L352.6 262.7L354.1 266.7L355.6 270.7L357.1 274.6L358.6 278.5L360.1 282.3L361.6 286.0L363.1 289.5L364.6 292.9L366.1 296.0L367.6 299.0L369.1 301.9L370.6 304.5L372.1 307.1L373.6 309.5L375.1 312.0L376.6 314.4L378.1 316.8L379.6 319.2L381.1 321.6L382.6 323.9L384.1 326.1L385.6 328.1L387.1 330.1L388.6 332.0L390.1 333.8L391.6 335.5L393.1 337.1L394.6 338.6L396.1 340.0L397.6 341.3L399.1 342.6L400.6 343.7L402.1 344.8L403.6 345.8L405.1 346.8L406.6 347.7L408.1 348.5L409.6 349.3L411.1 350.1L412.6 350.8L414.1 351.4L415.6 351.9L417.1 352.4L418.6 352.9L420.1 353.3L421.6 353.6L423.1 354.0L424.6 354.3L426.1 354.6L427.6 354.9L429.1 355.2L430.6 355.4L432.1 355.6L433.6 355.7L435.1 355.9L436.6 356.0L438.1 356.1L439.6 356.3L441.1 356.4L442.6 356.5L444.1 356.5L445.6 356.6L447.1 356.7L448.6 356.7L450.1 356.8L451.6 356.8L453.1 356.9L454.6 356.9L456.1 357.0L457.6 357.0L459.1 357.0L460.6 357.1L462.1 357.1L463.6 357.1L465.1 357.1L466.6 357.2L468.1 357.2L469.6 357.2L471.1 357.2L472.6 357.2L474.1 357.2L475.6 357.2L477.1 357.3L478.6 357.3L480.1 357.3L481.6 357.3L483.1 357.3L484.6 357.3L486.1 357.3L487.6 357.3L489.1 357.3L490.6 357.3L492.1 357.4L493.6 357.4L495.1 357.4L496.6 357.4L498.1 357.4L499.6 357.4L501.1 357.4L502.6 357.4L504.1 357.4L505.6 357.4L507.1 357.4L508.6 357.4L510.1 357.4L511.6 357.4L512.3 357.4" fill="none" stroke="#4169e1" stroke-width="3.30" stroke-linejoin="round" stroke-linecap="butt"/>
<path d="M97.6,96.2L99.1 96.3L100.6 96.5L102.1 96.8L103.6 97.2L105.1 97.5L106.6 97.9L108.1 98.3L109.6 98.7L111.1 99.1L112.6 99.5L114.1 100.0L115.6 100.5L117.1 101.0L118.6 101.5L120.1 102.1L121.6 102.8L123.1 103.4L124.6 104.1L126.1 104.9L127.6 105.7L129.1 106.5L130.6 107.4L132.1 108.2L133.6 109.0L135.1 109.8L136.6 110.5L138.1 111.1L139.6 111.7L141.1 112.3L142.6 112.8L144.1 113.4L145.6 113.8L147.1 114.3L148.6 114.7L150.1 115.1L151.6 115.5L153.1 115.8L154.6 116.0L156.1 116.2L157.6 116.3L159.1 116.3L160.6 116.3L162.1 116.3L163.6 116.2L165.1 116.0L166.6 115.8L168.1 115.6L169.6 115.3L171.1 114.9L172.6 114.6L174.1 114.2L175.6 113.8L177.1 113.4L178.6 112.9L180.1 112.5L181.6 112.0L183.1 111.6L184.6 111.1L186.1 110.7L187.6 110.3L189.1 109.9L190.6 109.5L192.1 109.1L193.6 108.8L195.1 108.5L196.6 108.3L198.1 108.1L199.6 107.9L201.1 107.7L202.6 107.6L204.1 107.4L205.6 107.2L207.1 107.1L208.6 106.9L210.1 106.7L211.6 106.6L213.1 106.5L214.6 106.3L216.1 106.2L217.6 106.1L219.1 106.1L220.6 106.0L222.1 105.9L223.6 105.9L225.1 105.8L226.6 105.7L228.1 105.6L229.6 105.6L231.1 105.5L232.6 105.4L234.1 105.3L235.6 105.2L237.1 105.2L238.6 105.1L240.1 105.0L241.6 104.8L243.1 104.7L244.6 104.6L246.1 104.5L247.6 104.3L249.1 104.2L250.6 104.0L252.1 103.9L253.6 103.7L255.1 103.5L256.6 103.4L258.1 103.2L259.6 103.0L261.1 102.8L262.6 102.7L264.1 102.7L265.6 102.6L267.1 102.6L268.6 102.6L270.1 102.6L271.6 102.6L273.1 102.7L274.6 102.9L276.1 103.2L277.6 103.7L279.1 104.3L280.6 105.1L282.1 106.0L283.6 106.9L285.1 108.0L286.6 109.0L288.1 110.2L289.6 111.4L291.1 112.8L292.6 114.4L294.1 116.1L295.6 118.1L297.1 120.2L298.6 122.5L300.1 124.9L301.6 127.4L303.1 130.0L304.6 132.7L306.1 135.5L307.6 138.5L309.1 141.6L310.6 144.8L312.1 148.0L313.6 151.2L315.1 154.6L316.6 157.9L318.1 161.4L319.6 164.9L321.1 168.4L322.6 172.1L324.1 175.8L325.6 179.5L327.1 183.3L328.6 187.1L330.1 191.0L331.6 195.0L333.1 199.2L334.6 203.6L336.1 208.1L337.6 212.7L339.1 217.3L340.6 222.0L342.1 226.7L343.6 231.4L345.1 236.1L346.6 240.7L348.1 245.2L349.6 249.5L351.1 253.6L352.6 257.6L354.1 261.6L355.6 265.6L357.1 269.6L358.6 273.6L360.1 277.4L361.6 281.3L363.1 285.0L364.6 288.6L366.1 292.0L367.6 295.2L369.1 298.2L370.6 301.1L372.1 303.8L373.6 306.4L375.1 308.9L376.6 311.3L378.1 313.7L379.6 316.2L381.1 318.6L382.6 321.0L384.1 323.3L385.6 325.5L387.1 327.6L388.6 329.7L390.1 331.6L391.6 333.5L393.1 335.3L394.6 336.9L396.1 338.5L397.6 340.0L399.1 341.4L400.6 342.7L402.1 343.9L403.6 345.0L405.1 346.0L406.6 347.0L408.1 347.9L409.6 348.7L411.1 349.5L412.6 350.3L414.1 351.0L415.6 351.6L417.1 352.1L418.6 352.6L420.1 353.0L421.6 353.4L423.1 353.8L424.6 354.1L426.1 354.5L427.6 354.8L429.1 355.0L430.6 355.3L432.1 355.5L433.6 355.6L435.1 355.8L436.6 356.0L438.1 356.1L439.6 356.2L441.1 356.3L442.6 356.4L444.1 356.5L445.6 356.6L447.1 356.6L448.6 356.7L450.1 356.8L451.6 356.8L453.1 356.9L454.6 356.9L456.1 356.9L457.6 357.0L459.1 357.0L460.6 357.1L462.1 357.1L463.6 357.1L465.1 357.1L466.6 357.2L468.1 357.2L469.6 357.2L471.1 357.2L472.6 357.2L474.1 357.2L475.6 357.2L477.1 357.3L478.6 357.3L480.1 357.3L481.6 357.3L483.1 357.3L484.6 357.3L486.1 357.3L487.6 357.3L489.1 357.3L490.6 357.3L492.1 357.3L493.6 357.4L495.1 357.4L496.6 357.4L498.1 357.4L499.6 357.4L501.1 357.4L502.6 357.4L504.1 357.4L505.6 357.4L507.1 357.4L508.6 357.4L510.1 357.4L511.6 357.4L513.0 357.4" fill="none" stroke="#dc143c" stroke-width="3.30" stroke-linejoin="round" stroke-linecap="butt"/>
<path d="M639.6,280.0L641.1 278.7L642.6 277.0L644.1 275.1L645.6 272.7L647.1 269.8L648.6 266.4L650.1 262.8L651.6 259.1L653.1 255.4L654.6 251.5L656.1 247.5L657.6 243.4L659.1 239.3L660.6 235.1L662.1 231.0L663.6 227.0L665.1 222.9L666.6 218.7L668.1 214.4L669.6 210.3L671.1 206.7L672.6 203.4L674.1 200.7L675.6 198.7L677.1 197.2L678.6 196.1L680.1 195.4L681.6 195.0L683.1 195.1L684.6 195.6L686.1 196.7L687.6 198.1L689.1 199.9L690.6 202.3L692.1 205.3L693.6 208.7L695.1 212.4L696.6 216.4L698.1 220.7L699.6 225.3L701.1 230.2L702.6 235.6L704.1 241.5L705.6 248.0L707.1 255.2L708.6 262.7L710.1 270.0L711.6 276.2L713.1 280.4L714.6 282.5L716.1 283.4L717.6 283.9L719.1 284.3L720.6 284.6L722.1 284.9L723.6 285.3L725.1 285.6L726.6 285.9L728.1 286.2L729.6 286.5L731.1 286.7L732.6 286.8L734.1 287.0L735.6 287.1L737.1 287.2L738.6 287.3L740.1 287.3L741.6 287.2L743.1 287.1L744.6 286.9L746.1 286.7L747.6 286.4L749.1 286.2L750.6 285.9L752.1 285.5L753.6 285.1L755.1 284.6L756.6 283.9L758.1 283.0L759.6 281.7L761.1 280.1L762.6 278.3L764.1 276.4L765.6 274.5L767.1 272.5L768.6 270.5L770.1 268.7L771.6 266.9L773.1 265.3L774.6 264.3L776.1 263.9L777.6 263.9L779.1 264.0L780.6 264.2L782.1 264.5L783.6 264.7L785.1 264.9L786.6 265.2L788.1 265.5L789.6 265.9L791.1 266.3L792.6 266.9L794.1 267.4L795.6 268.1L797.1 268.8L798.6 269.5L800.1 270.0L801.6 270.3L803.1 270.6L804.6 270.7L806.1 270.7L807.6 270.5L809.1 270.3L810.6 269.9L812.1 269.4L813.6 268.7L815.1 267.6L816.6 266.3L818.1 264.7L819.6 262.8L821.1 260.5L822.6 257.8L824.1 254.9L825.6 251.8L827.1 248.8L828.6 245.8L830.1 242.6L831.6 239.1L833.1 235.2L834.6 230.5L836.1 225.2L837.6 218.9L839.1 211.7L840.6 204.0L842.1 196.2L843.6 188.4L845.1 180.7L846.6 173.1L848.1 165.4L849.6 157.8L851.1 150.2L852.6 142.6L854.1 135.1L855.6 127.7L857.1 120.3L858.6 113.0L860.1 105.7L861.6 98.4L863.1 91.1L864.6 83.8L866.1 76.8L867.6 70.8L869.1 66.0L870.6 62.2L872.1 59.3L873.6 57.2L875.1 55.7L876.6 54.6L878.1 53.8L879.6 53.4L881.1 53.3L882.6 53.2L884.1 53.3L885.6 53.7L887.1 54.5L888.6 55.9L890.1 58.0L891.6 60.6L893.1 63.2L894.6 65.4L896.1 67.3L897.6 69.3L899.1 71.6L900.6 74.5L902.1 77.7L903.6 81.4L905.1 85.7L906.6 90.2L908.1 94.9L909.6 99.3L911.1 103.6L912.6 107.8L914.1 112.0L915.6 116.3L917.1 120.9L918.6 125.9L920.1 131.2L921.6 136.8L923.1 142.6L924.6 148.4L926.1 154.3L927.6 160.2L929.1 166.0L930.6 171.8L932.1 177.5L933.6 182.9L935.1 188.2L936.6 193.4L938.1 198.4L939.6 203.3L941.1 207.9L942.6 212.4L944.1 216.8L945.6 221.0L947.1 225.1L948.6 228.9L950.1 232.6L951.6 236.2L953.1 239.6L954.6 242.8L956.1 245.9L957.6 248.7L959.1 251.4L960.6 254.0L962.1 256.4L963.6 258.6L965.1 260.7L966.6 262.6L968.1 264.5L969.6 266.3L971.1 267.8L972.6 269.2L974.1 270.3L975.6 271.3L977.1 272.2L978.6 273.0L980.1 273.7L981.6 274.4L983.1 275.0L984.6 275.5L986.1 276.0L987.6 276.5L989.1 277.0L990.6 277.4L992.1 277.8L993.6 278.1L995.1 278.4L996.6 278.7L998.1 278.9L999.6 279.1L1001.1 279.3L1002.6 279.4L1004.1 279.6L1005.6 279.7L1007.1 279.9L1008.6 280.0L1010.1 280.1L1011.6 280.2L1013.1 280.2L1014.6 280.3L1016.1 280.3L1017.6 280.4L1019.1 280.4L1020.6 280.4L1022.1 280.5L1023.6 280.5L1025.1 280.6L1026.6 280.6L1028.1 280.6L1029.6 280.6L1031.1 280.7L1032.6 280.7L1034.1 280.7L1035.6 280.7L1037.1 280.8L1038.6 280.8L1040.1 280.8L1041.6 280.8L1043.1 280.8L1044.6 280.9L1046.1 280.9L1047.6 280.9L1049.1 280.9L1050.6 280.9L1052.1 280.9L1053.6 280.9L1055.0 280.9L1055.0,280.9L1053.6 280.9L1052.1 280.9L1050.6 280.9L1049.1 280.9L1047.6 280.9L1046.1 280.9L1044.6 280.9L1043.1 280.9L1041.6 280.9L1040.1 280.9L1038.6 280.9L1037.1 280.9L1035.6 280.9L1034.1 280.8L1032.6 280.8L1031.1 280.8L1029.6 280.8L1028.1 280.8L1026.6 280.8L1025.1 280.8L1023.6 280.8L1022.1 280.8L1020.6 280.7L1019.1 280.7L1017.6 280.7L1016.1 280.7L1014.6 280.7L1013.1 280.7L1011.6 280.7L1010.1 280.6L1008.6 280.6L1007.1 280.6L1005.6 280.6L1004.1 280.6L1002.6 280.5L1001.1 280.5L999.6 280.5L998.1 280.5L996.6 280.4L995.1 280.4L993.6 280.3L992.1 280.2L990.6 280.1L989.1 280.0L987.6 279.9L986.1 279.8L984.6 279.7L983.1 279.5L981.6 279.3L980.1 279.0L978.6 278.6L977.1 278.3L975.6 277.9L974.1 277.5L972.6 277.0L971.1 276.5L969.6 275.9L968.1 275.3L966.6 274.6L965.1 273.9L963.6 273.1L962.1 272.3L960.6 271.4L959.1 270.5L957.6 269.4L956.1 268.2L954.6 266.9L953.1 265.5L951.6 263.9L950.1 262.2L948.6 260.5L947.1 258.6L945.6 256.6L944.1 254.5L942.6 252.2L941.1 249.9L939.6 247.5L938.1 245.0L936.6 242.3L935.1 239.6L933.6 236.7L932.1 233.7L930.6 230.5L929.1 227.2L927.6 223.9L926.1 220.5L924.6 217.2L923.1 213.9L921.6 210.7L920.1 207.5L918.6 204.4L917.1 201.2L915.6 198.2L914.1 195.1L912.6 192.1L911.1 189.1L909.6 186.1L908.1 183.2L906.6 180.3L905.1 177.4L903.6 174.6L902.1 172.0L900.6 169.6L899.1 167.7L897.6 166.1L896.1 164.9L894.6 164.2L893.1 163.8L891.6 163.6L890.1 163.6L888.6 163.8L887.1 164.3L885.6 165.1L884.1 166.1L882.6 167.3L881.1 168.8L879.6 170.6L878.1 172.6L876.6 174.9L875.1 177.4L873.6 180.0L872.1 182.6L870.6 185.2L869.1 187.9L867.6 190.5L866.1 193.0L864.6 195.6L863.1 198.3L861.6 201.1L860.1 203.9L858.6 206.7L857.1 209.6L855.6 212.4L854.1 215.4L852.6 218.4L851.1 221.5L849.6 224.6L848.1 227.7L846.6 230.6L845.1 233.5L843.6 236.2L842.1 238.8L840.6 241.3L839.1 243.8L837.6 246.4L836.1 249.2L834.6 252.1L833.1 255.2L831.6 258.7L830.1 262.6L828.6 266.9L827.1 271.5L825.6 276.2L824.1 280.8L822.6 285.1L821.1 289.2L819.6 292.6L818.1 295.0L816.6 296.6L815.1 297.9L813.6 298.8L812.1 299.3L810.6 299.4L809.1 299.2L807.6 298.7L806.1 298.2L804.6 297.7L803.1 297.0L801.6 295.8L800.1 294.3L798.6 292.5L797.1 290.7L795.6 288.7L794.1 286.4L792.6 283.8L791.1 281.4L789.6 279.7L788.1 278.6L786.6 278.1L785.1 277.9L783.6 277.9L782.1 278.1L780.6 278.4L779.1 278.8L777.6 279.1L776.1 279.5L774.6 280.0L773.1 280.4L771.6 281.0L770.1 281.5L768.6 282.1L767.1 282.8L765.6 283.6L764.1 284.5L762.6 285.4L761.1 286.6L759.6 288.2L758.1 290.6L756.6 293.6L755.1 297.0L753.6 300.7L752.1 304.6L750.6 308.5L749.1 312.3L747.6 316.1L746.1 319.6L744.6 322.9L743.1 325.7L741.6 328.2L740.1 330.0L738.6 331.2L737.1 331.9L735.6 332.0L734.1 331.5L732.6 330.2L731.1 328.4L729.6 326.1L728.1 323.5L726.6 320.5L725.1 317.1L723.6 313.5L722.1 309.4L720.6 304.9L719.1 300.1L717.6 295.0L716.1 290.2L714.6 286.4L713.1 283.9L711.6 282.6L710.1 281.9L708.6 281.4L707.1 281.0L705.6 280.7L704.1 280.4L702.6 280.1L701.1 279.8L699.6 279.3L698.1 278.7L696.6 278.1L695.1 277.6L693.6 277.1L692.1 276.7L690.6 276.4L689.1 276.2L687.6 275.9L686.1 275.7L684.6 275.6L683.1 275.5L681.6 275.5L680.1 275.6L678.6 275.6L677.1 275.7L675.6 275.8L674.1 275.9L672.6 276.0L671.1 276.1L669.6 276.3L668.1 276.4L666.6 276.6L665.1 276.8L663.6 277.0L662.1 277.2L660.6 277.4L659.1 277.6L657.6 277.7L656.1 277.8L654.6 278.0L653.1 278.1L651.6 278.3L650.1 278.4L648.6 278.6L647.1 278.8L645.6 278.9L644.1 279.1L642.6 279.4L641.1 279.8L639.6 280.3Z" fill="#4169e1" fill-opacity="0.3" stroke="none"/><path d="M639.6,280.0L641.1 278.7L642.6 277.0L644.1 275.1L645.6 272.7L647.1 269.8L648.6 266.4L650.1 262.8L651.6 259.1L653.1 255.4L654.6 251.5L656.1 247.5L657.6 243.4L659.1 239.3L660.6 235.1L662.1 231.0L663.6 227.0L665.1 222.9L666.6 218.7L668.1 214.4L669.6 210.3L671.1 206.7L672.6 203.4L674.1 200.7L675.6 198.7L677.1 197.2L678.6 196.1L680.1 195.4L681.6 195.0L683.1 195.1L684.6 195.6L686.1 196.7L687.6 198.1L689.1 199.9L690.6 202.3L692.1 205.3L693.6 208.7L695.1 212.4L696.6 216.4L698.1 220.7L699.6 225.3L701.1 230.2L702.6 235.6L704.1 241.5L705.6 248.0L707.1 255.2L708.6 262.7L710.1 270.0L711.6 276.2L713.1 280.4L714.6 282.5L716.1 283.4L717.6 283.9L719.1 284.3L720.6 284.6L722.1 284.9L723.6 285.3L725.1 285.6L726.6 285.9L728.1 286.2L729.6 286.5L731.1 286.7L732.6 286.8L734.1 287.0L735.6 287.1L737.1 287.2L738.6 287.3L740.1 287.3L741.6 287.2L743.1 287.1L744.6 286.9L746.1 286.7L747.6 286.4L749.1 286.2L750.6 285.9L752.1 285.5L753.6 285.1L755.1 284.6L756.6 283.9L758.1 283.0L759.6 281.7L761.1 280.1L762.6 278.3L764.1 276.4L765.6 274.5L767.1 272.5L768.6 270.5L770.1 268.7L771.6 266.9L773.1 265.3L774.6 264.3L776.1 263.9L777.6 263.9L779.1 264.0L780.6 264.2L782.1 264.5L783.6 264.7L785.1 264.9L786.6 265.2L788.1 265.5L789.6 265.9L791.1 266.3L792.6 266.9L794.1 267.4L795.6 268.1L797.1 268.8L798.6 269.5L800.1 270.0L801.6 270.3L803.1 270.6L804.6 270.7L806.1 270.7L807.6 270.5L809.1 270.3L810.6 269.9L812.1 269.4L813.6 268.7L815.1 267.6L816.6 266.3L818.1 264.7L819.6 262.8L821.1 260.5L822.6 257.8L824.1 254.9L825.6 251.8L827.1 248.8L828.6 245.8L830.1 242.6L831.6 239.1L833.1 235.2L834.6 230.5L836.1 225.2L837.6 218.9L839.1 211.7L840.6 204.0L842.1 196.2L843.6 188.4L845.1 180.7L846.6 173.1L848.1 165.4L849.6 157.8L851.1 150.2L852.6 142.6L854.1 135.1L855.6 127.7L857.1 120.3L858.6 113.0L860.1 105.7L861.6 98.4L863.1 91.1L864.6 83.8L866.1 76.8L867.6 70.8L869.1 66.0L870.6 62.2L872.1 59.3L873.6 57.2L875.1 55.7L876.6 54.6L878.1 53.8L879.6 53.4L881.1 53.3L882.6 53.2L884.1 53.3L885.6 53.7L887.1 54.5L888.6 55.9L890.1 58.0L891.6 60.6L893.1 63.2L894.6 65.4L896.1 67.3L897.6 69.3L899.1 71.6L900.6 74.5L902.1 77.7L903.6 81.4L905.1 85.7L906.6 90.2L908.1 94.9L909.6 99.3L911.1 103.6L912.6 107.8L914.1 112.0L915.6 116.3L917.1 120.9L918.6 125.9L920.1 131.2L921.6 136.8L923.1 142.6L924.6 148.4L926.1 154.3L927.6 160.2L929.1 166.0L930.6 171.8L932.1 177.5L933.6 182.9L935.1 188.2L936.6 193.4L938.1 198.4L939.6 203.3L941.1 207.9L942.6 212.4L944.1 216.8L945.6 221.0L947.1 225.1L948.6 228.9L950.1 232.6L951.6 236.2L953.1 239.6L954.6 242.8L956.1 245.9L957.6 248.7L959.1 251.4L960.6 254.0L962.1 256.4L963.6 258.6L965.1 260.7L966.6 262.6L968.1 264.5L969.6 266.3L971.1 267.8L972.6 269.2L974.1 270.3L975.6 271.3L977.1 272.2L978.6 273.0L980.1 273.7L981.6 274.4L983.1 275.0L984.6 275.5L986.1 276.0L987.6 276.5L989.1 277.0L990.6 277.4L992.1 277.8L993.6 278.1L995.1 278.4L996.6 278.7L998.1 278.9L999.6 279.1L1001.1 279.3L1002.6 279.4L1004.1 279.6L1005.6 279.7L1007.1 279.9L1008.6 280.0L1010.1 280.1L1011.6 280.2L1013.1 280.2L1014.6 280.3L1016.1 280.3L1017.6 280.4L1019.1 280.4L1020.6 280.4L1022.1 280.5L1023.6 280.5L1025.1 280.6L1026.6 280.6L1028.1 280.6L1029.6 280.6L1031.1 280.7L1032.6 280.7L1034.1 280.7L1035.6 280.7L1037.1 280.8L1038.6 280.8L1040.1 280.8L1041.6 280.8L1043.1 280.8L1044.6 280.9L1046.1 280.9L1047.6 280.9L1049.1 280.9L1050.6 280.9L1052.1 280.9L1053.6 280.9L1055.0 280.9" fill="none" stroke="#4169e1" stroke-opacity="0.35" stroke-width="1.3"/><path d="M639.6,280.3L641.1 279.8L642.6 279.4L644.1 279.1L645.6 278.9L647.1 278.8L648.6 278.6L650.1 278.4L651.6 278.3L653.1 278.1L654.6 278.0L656.1 277.8L657.6 277.7L659.1 277.6L660.6 277.4L662.1 277.2L663.6 277.0L665.1 276.8L666.6 276.6L668.1 276.4L669.6 276.3L671.1 276.1L672.6 276.0L674.1 275.9L675.6 275.8L677.1 275.7L678.6 275.6L680.1 275.6L681.6 275.5L683.1 275.5L684.6 275.6L686.1 275.7L687.6 275.9L689.1 276.2L690.6 276.4L692.1 276.7L693.6 277.1L695.1 277.6L696.6 278.1L698.1 278.7L699.6 279.3L701.1 279.8L702.6 280.1L704.1 280.4L705.6 280.7L707.1 281.0L708.6 281.4L710.1 281.9L711.6 282.6L713.1 283.9L714.6 286.4L716.1 290.2L717.6 295.0L719.1 300.1L720.6 304.9L722.1 309.4L723.6 313.5L725.1 317.1L726.6 320.5L728.1 323.5L729.6 326.1L731.1 328.4L732.6 330.2L734.1 331.5L735.6 332.0L737.1 331.9L738.6 331.2L740.1 330.0L741.6 328.2L743.1 325.7L744.6 322.9L746.1 319.6L747.6 316.1L749.1 312.3L750.6 308.5L752.1 304.6L753.6 300.7L755.1 297.0L756.6 293.6L758.1 290.6L759.6 288.2L761.1 286.6L762.6 285.4L764.1 284.5L765.6 283.6L767.1 282.8L768.6 282.1L770.1 281.5L771.6 281.0L773.1 280.4L774.6 280.0L776.1 279.5L777.6 279.1L779.1 278.8L780.6 278.4L782.1 278.1L783.6 277.9L785.1 277.9L786.6 278.1L788.1 278.6L789.6 279.7L791.1 281.4L792.6 283.8L794.1 286.4L795.6 288.7L797.1 290.7L798.6 292.5L800.1 294.3L801.6 295.8L803.1 297.0L804.6 297.7L806.1 298.2L807.6 298.7L809.1 299.2L810.6 299.4L812.1 299.3L813.6 298.8L815.1 297.9L816.6 296.6L818.1 295.0L819.6 292.6L821.1 289.2L822.6 285.1L824.1 280.8L825.6 276.2L827.1 271.5L828.6 266.9L830.1 262.6L831.6 258.7L833.1 255.2L834.6 252.1L836.1 249.2L837.6 246.4L839.1 243.8L840.6 241.3L842.1 238.8L843.6 236.2L845.1 233.5L846.6 230.6L848.1 227.7L849.6 224.6L851.1 221.5L852.6 218.4L854.1 215.4L855.6 212.4L857.1 209.6L858.6 206.7L860.1 203.9L861.6 201.1L863.1 198.3L864.6 195.6L866.1 193.0L867.6 190.5L869.1 187.9L870.6 185.2L872.1 182.6L873.6 180.0L875.1 177.4L876.6 174.9L878.1 172.6L879.6 170.6L881.1 168.8L882.6 167.3L884.1 166.1L885.6 165.1L887.1 164.3L888.6 163.8L890.1 163.6L891.6 163.6L893.1 163.8L894.6 164.2L896.1 164.9L897.6 166.1L899.1 167.7L900.6 169.6L902.1 172.0L903.6 174.6L905.1 177.4L906.6 180.3L908.1 183.2L909.6 186.1L911.1 189.1L912.6 192.1L914.1 195.1L915.6 198.2L917.1 201.2L918.6 204.4L920.1 207.5L921.6 210.7L923.1 213.9L924.6 217.2L926.1 220.5L927.6 223.9L929.1 227.2L930.6 230.5L932.1 233.7L933.6 236.7L935.1 239.6L936.6 242.3L938.1 245.0L939.6 247.5L941.1 249.9L942.6 252.2L944.1 254.5L945.6 256.6L947.1 258.6L948.6 260.5L950.1 262.2L951.6 263.9L953.1 265.5L954.6 266.9L956.1 268.2L957.6 269.4L959.1 270.5L960.6 271.4L962.1 272.3L963.6 273.1L965.1 273.9L966.6 274.6L968.1 275.3L969.6 275.9L971.1 276.5L972.6 277.0L974.1 277.5L975.6 277.9L977.1 278.3L978.6 278.6L980.1 279.0L981.6 279.3L983.1 279.5L984.6 279.7L986.1 279.8L987.6 279.9L989.1 280.0L990.6 280.1L992.1 280.2L993.6 280.3L995.1 280.4L996.6 280.4L998.1 280.5L999.6 280.5L1001.1 280.5L1002.6 280.5L1004.1 280.6L1005.6 280.6L1007.1 280.6L1008.6 280.6L1010.1 280.6L1011.6 280.7L1013.1 280.7L1014.6 280.7L1016.1 280.7L1017.6 280.7L1019.1 280.7L1020.6 280.7L1022.1 280.8L1023.6 280.8L1025.1 280.8L1026.6 280.8L1028.1 280.8L1029.6 280.8L1031.1 280.8L1032.6 280.8L1034.1 280.8L1035.6 280.9L1037.1 280.9L1038.6 280.9L1040.1 280.9L1041.6 280.9L1043.1 280.9L1044.6 280.9L1046.1 280.9L1047.6 280.9L1049.1 280.9L1050.6 280.9L1052.1 280.9L1053.6 280.9L1055.0 280.9" fill="none" stroke="#4169e1" stroke-opacity="0.35" stroke-width="1.3"/>
<path d="M639.6,280.0L641.1 278.7L642.6 277.0L644.1 275.1L645.6 272.7L647.1 269.8L648.6 266.4L650.1 262.8L651.6 259.1L653.1 255.4L654.6 251.5L656.1 247.5L657.6 243.4L659.1 239.3L660.6 235.1L662.1 231.0L663.6 227.0L665.1 222.9L666.6 218.7L668.1 214.4L669.6 210.3L671.1 206.7L672.6 203.4L674.1 200.7L675.6 198.7L677.1 197.2L678.6 196.1L680.1 195.4L681.6 195.0L683.1 195.1L684.6 195.6L686.1 196.7L687.6 198.1L689.1 199.9L690.6 202.3L692.1 205.3L693.6 208.7L695.1 212.4L696.6 216.4L698.1 220.7L699.6 225.3L701.1 230.2L702.6 235.6L704.1 241.5L705.6 248.0L707.1 255.2L708.6 262.7L710.1 270.0L711.6 276.2L713.1 280.4L714.6 282.5L716.1 283.4L717.6 283.9L719.1 284.3L720.6 284.6L722.1 284.9L723.6 285.3L725.1 285.6L726.6 285.9L728.1 286.2L729.6 286.5L731.1 286.7L732.6 286.8L734.1 287.0L735.6 287.1L737.1 287.2L738.6 287.3L740.1 287.3L741.6 287.2L743.1 287.1L744.6 286.9L746.1 286.7L747.6 286.4L749.1 286.2L750.6 285.9L752.1 285.5L753.6 285.1L755.1 284.6L756.6 283.9L758.1 283.0L759.6 281.7L761.1 280.1L762.6 278.3L764.1 276.4L765.6 274.5L767.1 272.5L768.6 270.7L770.1 269.0L771.6 267.4L773.1 266.1L774.6 265.2L776.1 264.8L777.6 264.7L779.1 264.7L780.6 264.7L782.1 264.7L783.6 264.8L785.1 264.9L786.6 265.1L788.1 265.5L789.6 265.9L791.1 266.3L792.6 266.9L794.1 267.4L795.6 268.1L797.1 268.8L798.6 269.5L800.1 270.0L801.6 270.3L803.1 270.6L804.6 270.7L806.1 270.7L807.6 270.5L809.1 270.3L810.6 269.9L812.1 269.4L813.6 268.7L815.1 267.6L816.6 266.3L818.1 264.7L819.6 262.8L821.1 260.5L822.6 257.8L824.1 254.9L825.6 251.8L827.1 248.8L828.6 245.8L830.1 242.6L831.6 239.1L833.1 235.2L834.6 230.5L836.1 225.2L837.6 218.9L839.1 211.7L840.6 204.0L842.1 196.2L843.6 188.4L845.1 180.7L846.6 173.1L848.1 165.4L849.6 157.8L851.1 150.1L852.6 142.5L854.1 135.0L855.6 127.5L857.1 120.0L858.6 112.5L860.1 104.9L861.6 97.3L863.1 89.6L864.6 81.7L866.1 74.1L867.6 67.4L869.1 61.9L870.6 57.4L872.1 53.8L873.6 51.1L875.1 49.1L876.6 47.8L878.1 47.0L879.6 46.7L881.1 46.8L882.6 47.2L884.1 48.0L885.6 49.0L887.1 50.5L888.6 52.7L890.1 55.4L891.6 58.6L893.1 61.7L894.6 64.3L896.1 66.5L897.6 68.7L899.1 71.3L900.6 74.2L902.1 77.6L903.6 81.4L905.1 85.6L906.6 90.2L908.1 94.9L909.6 99.3L911.1 103.6L912.6 107.8L914.1 112.0L915.6 116.3L917.1 120.9L918.6 125.9L920.1 131.2L921.6 136.8L923.1 142.6L924.6 148.4L926.1 154.3L927.6 160.2L929.1 166.0L930.6 171.8L932.1 177.5L933.6 182.9L935.1 188.2L936.6 193.4L938.1 198.4L939.6 203.3L941.1 207.9L942.6 212.4L944.1 216.8L945.6 221.0L947.1 225.1L948.6 228.9L950.1 232.6L951.6 236.2L953.1 239.6L954.6 242.8L956.1 245.9L957.6 248.7L959.1 251.4L960.6 254.0L962.1 256.4L963.6 258.6L965.1 260.7L966.6 262.6L968.1 264.5L969.6 266.3L971.1 267.8L972.6 269.2L974.1 270.3L975.6 271.3L977.1 272.2L978.6 273.0L980.1 273.7L981.6 274.4L983.1 275.0L984.6 275.5L986.1 276.0L987.6 276.5L989.1 277.0L990.6 277.4L992.1 277.8L993.6 278.1L995.1 278.4L996.6 278.7L998.1 278.9L999.6 279.1L1001.1 279.3L1002.6 279.4L1004.1 279.6L1005.6 279.7L1007.1 279.9L1008.6 280.0L1010.1 280.1L1011.6 280.2L1013.1 280.2L1014.6 280.3L1016.1 280.3L1017.6 280.4L1019.1 280.4L1020.6 280.4L1022.1 280.5L1023.6 280.5L1025.1 280.6L1026.6 280.6L1028.1 280.6L1029.6 280.6L1031.1 280.7L1032.6 280.7L1034.1 280.7L1035.6 280.7L1037.1 280.8L1038.6 280.8L1040.1 280.8L1041.6 280.8L1043.1 280.8L1044.6 280.9L1046.1 280.9L1047.6 280.9L1049.1 280.9L1050.6 280.9L1052.1 280.9L1053.6 280.9L1055.0 280.9L1055.0,280.9L1053.6 280.9L1052.1 280.9L1050.6 280.9L1049.1 280.9L1047.6 280.9L1046.1 280.9L1044.6 280.9L1043.1 280.9L1041.6 280.9L1040.1 280.9L1038.6 280.9L1037.1 280.9L1035.6 280.9L1034.1 280.8L1032.6 280.8L1031.1 280.8L1029.6 280.8L1028.1 280.8L1026.6 280.8L1025.1 280.8L1023.6 280.8L1022.1 280.8L1020.6 280.7L1019.1 280.7L1017.6 280.7L1016.1 280.7L1014.6 280.7L1013.1 280.7L1011.6 280.7L1010.1 280.6L1008.6 280.6L1007.1 280.6L1005.6 280.6L1004.1 280.6L1002.6 280.5L1001.1 280.5L999.6 280.5L998.1 280.5L996.6 280.4L995.1 280.4L993.6 280.3L992.1 280.2L990.6 280.1L989.1 280.0L987.6 279.9L986.1 279.8L984.6 279.7L983.1 279.5L981.6 279.3L980.1 279.0L978.6 278.6L977.1 278.3L975.6 277.9L974.1 277.5L972.6 277.0L971.1 276.5L969.6 275.9L968.1 275.3L966.6 274.6L965.1 273.9L963.6 273.1L962.1 272.3L960.6 271.4L959.1 270.5L957.6 269.4L956.1 268.2L954.6 266.9L953.1 265.5L951.6 263.9L950.1 262.2L948.6 260.5L947.1 258.6L945.6 256.6L944.1 254.5L942.6 252.2L941.1 249.9L939.6 247.5L938.1 245.0L936.6 242.3L935.1 239.6L933.6 236.7L932.1 233.7L930.6 230.5L929.1 227.2L927.6 223.9L926.1 220.5L924.6 217.2L923.1 213.9L921.6 210.7L920.1 207.5L918.6 204.4L917.1 201.2L915.6 198.1L914.1 195.0L912.6 192.0L911.1 189.0L909.6 185.9L908.1 183.0L906.6 180.0L905.1 176.9L903.6 173.9L902.1 171.0L900.6 168.5L899.1 166.2L897.6 164.3L896.1 162.8L894.6 161.8L893.1 161.2L891.6 160.8L890.1 160.7L888.6 160.9L887.1 161.4L885.6 162.4L884.1 163.6L882.6 165.0L881.1 166.8L879.6 168.9L878.1 171.2L876.6 173.8L875.1 176.6L873.6 179.4L872.1 182.2L870.6 184.9L869.1 187.7L867.6 190.3L866.1 193.0L864.6 195.6L863.1 198.3L861.6 201.0L860.1 203.9L858.6 206.7L857.1 209.6L855.6 212.4L854.1 215.4L852.6 218.4L851.1 221.5L849.6 224.6L848.1 227.7L846.6 230.6L845.1 233.5L843.6 236.2L842.1 238.8L840.6 241.3L839.1 243.8L837.6 246.4L836.1 249.2L834.6 252.1L833.1 255.2L831.6 258.7L830.1 262.6L828.6 266.9L827.1 271.5L825.6 276.2L824.1 280.8L822.6 285.3L821.1 289.5L819.6 293.1L818.1 295.9L816.6 298.0L815.1 299.9L813.6 301.7L812.1 303.0L810.6 303.8L809.1 304.0L807.6 303.9L806.1 303.5L804.6 302.8L803.1 301.8L801.6 300.3L800.1 298.4L798.6 296.1L797.1 293.5L795.6 290.7L794.1 287.7L792.6 284.5L791.1 281.8L789.6 279.8L788.1 278.7L786.6 278.1L785.1 277.9L783.6 277.9L782.1 278.1L780.6 278.4L779.1 278.8L777.6 279.1L776.1 279.5L774.6 280.0L773.1 280.4L771.6 281.0L770.1 281.5L768.6 282.1L767.1 282.8L765.6 283.6L764.1 284.5L762.6 285.4L761.1 286.6L759.6 288.2L758.1 290.6L756.6 293.6L755.1 297.0L753.6 300.7L752.1 304.6L750.6 308.5L749.1 312.3L747.6 316.1L746.1 319.6L744.6 322.9L743.1 325.7L741.6 328.2L740.1 330.0L738.6 331.2L737.1 331.9L735.6 332.0L734.1 331.5L732.6 330.2L731.1 328.4L729.6 326.1L728.1 323.5L726.6 320.5L725.1 317.1L723.6 313.5L722.1 309.4L720.6 304.9L719.1 300.1L717.6 295.0L716.1 290.2L714.6 286.4L713.1 283.9L711.6 282.6L710.1 281.9L708.6 281.4L707.1 281.0L705.6 280.7L704.1 280.4L702.6 280.1L701.1 279.8L699.6 279.3L698.1 278.7L696.6 278.1L695.1 277.6L693.6 277.1L692.1 276.7L690.6 276.4L689.1 276.2L687.6 275.9L686.1 275.7L684.6 275.6L683.1 275.5L681.6 275.5L680.1 275.6L678.6 275.6L677.1 275.7L675.6 275.8L674.1 275.9L672.6 276.0L671.1 276.1L669.6 276.3L668.1 276.4L666.6 276.6L665.1 276.8L663.6 277.0L662.1 277.2L660.6 277.4L659.1 277.6L657.6 277.7L656.1 277.8L654.6 278.0L653.1 278.1L651.6 278.3L650.1 278.4L648.6 278.6L647.1 278.8L645.6 278.9L644.1 279.1L642.6 279.4L641.1 279.8L639.6 280.3Z" fill="#dc143c" fill-opacity="0.3" stroke="none"/><path d="M639.6,280.0L641.1 278.7L642.6 277.0L644.1 275.1L645.6 272.7L647.1 269.8L648.6 266.4L650.1 262.8L651.6 259.1L653.1 255.4L654.6 251.5L656.1 247.5L657.6 243.4L659.1 239.3L660.6 235.1L662.1 231.0L663.6 227.0L665.1 222.9L666.6 218.7L668.1 214.4L669.6 210.3L671.1 206.7L672.6 203.4L674.1 200.7L675.6 198.7L677.1 197.2L678.6 196.1L680.1 195.4L681.6 195.0L683.1 195.1L684.6 195.6L686.1 196.7L687.6 198.1L689.1 199.9L690.6 202.3L692.1 205.3L693.6 208.7L695.1 212.4L696.6 216.4L698.1 220.7L699.6 225.3L701.1 230.2L702.6 235.6L704.1 241.5L705.6 248.0L707.1 255.2L708.6 262.7L710.1 270.0L711.6 276.2L713.1 280.4L714.6 282.5L716.1 283.4L717.6 283.9L719.1 284.3L720.6 284.6L722.1 284.9L723.6 285.3L725.1 285.6L726.6 285.9L728.1 286.2L729.6 286.5L731.1 286.7L732.6 286.8L734.1 287.0L735.6 287.1L737.1 287.2L738.6 287.3L740.1 287.3L741.6 287.2L743.1 287.1L744.6 286.9L746.1 286.7L747.6 286.4L749.1 286.2L750.6 285.9L752.1 285.5L753.6 285.1L755.1 284.6L756.6 283.9L758.1 283.0L759.6 281.7L761.1 280.1L762.6 278.3L764.1 276.4L765.6 274.5L767.1 272.5L768.6 270.7L770.1 269.0L771.6 267.4L773.1 266.1L774.6 265.2L776.1 264.8L777.6 264.7L779.1 264.7L780.6 264.7L782.1 264.7L783.6 264.8L785.1 264.9L786.6 265.1L788.1 265.5L789.6 265.9L791.1 266.3L792.6 266.9L794.1 267.4L795.6 268.1L797.1 268.8L798.6 269.5L800.1 270.0L801.6 270.3L803.1 270.6L804.6 270.7L806.1 270.7L807.6 270.5L809.1 270.3L810.6 269.9L812.1 269.4L813.6 268.7L815.1 267.6L816.6 266.3L818.1 264.7L819.6 262.8L821.1 260.5L822.6 257.8L824.1 254.9L825.6 251.8L827.1 248.8L828.6 245.8L830.1 242.6L831.6 239.1L833.1 235.2L834.6 230.5L836.1 225.2L837.6 218.9L839.1 211.7L840.6 204.0L842.1 196.2L843.6 188.4L845.1 180.7L846.6 173.1L848.1 165.4L849.6 157.8L851.1 150.1L852.6 142.5L854.1 135.0L855.6 127.5L857.1 120.0L858.6 112.5L860.1 104.9L861.6 97.3L863.1 89.6L864.6 81.7L866.1 74.1L867.6 67.4L869.1 61.9L870.6 57.4L872.1 53.8L873.6 51.1L875.1 49.1L876.6 47.8L878.1 47.0L879.6 46.7L881.1 46.8L882.6 47.2L884.1 48.0L885.6 49.0L887.1 50.5L888.6 52.7L890.1 55.4L891.6 58.6L893.1 61.7L894.6 64.3L896.1 66.5L897.6 68.7L899.1 71.3L900.6 74.2L902.1 77.6L903.6 81.4L905.1 85.6L906.6 90.2L908.1 94.9L909.6 99.3L911.1 103.6L912.6 107.8L914.1 112.0L915.6 116.3L917.1 120.9L918.6 125.9L920.1 131.2L921.6 136.8L923.1 142.6L924.6 148.4L926.1 154.3L927.6 160.2L929.1 166.0L930.6 171.8L932.1 177.5L933.6 182.9L935.1 188.2L936.6 193.4L938.1 198.4L939.6 203.3L941.1 207.9L942.6 212.4L944.1 216.8L945.6 221.0L947.1 225.1L948.6 228.9L950.1 232.6L951.6 236.2L953.1 239.6L954.6 242.8L956.1 245.9L957.6 248.7L959.1 251.4L960.6 254.0L962.1 256.4L963.6 258.6L965.1 260.7L966.6 262.6L968.1 264.5L969.6 266.3L971.1 267.8L972.6 269.2L974.1 270.3L975.6 271.3L977.1 272.2L978.6 273.0L980.1 273.7L981.6 274.4L983.1 275.0L984.6 275.5L986.1 276.0L987.6 276.5L989.1 277.0L990.6 277.4L992.1 277.8L993.6 278.1L995.1 278.4L996.6 278.7L998.1 278.9L999.6 279.1L1001.1 279.3L1002.6 279.4L1004.1 279.6L1005.6 279.7L1007.1 279.9L1008.6 280.0L1010.1 280.1L1011.6 280.2L1013.1 280.2L1014.6 280.3L1016.1 280.3L1017.6 280.4L1019.1 280.4L1020.6 280.4L1022.1 280.5L1023.6 280.5L1025.1 280.6L1026.6 280.6L1028.1 280.6L1029.6 280.6L1031.1 280.7L1032.6 280.7L1034.1 280.7L1035.6 280.7L1037.1 280.8L1038.6 280.8L1040.1 280.8L1041.6 280.8L1043.1 280.8L1044.6 280.9L1046.1 280.9L1047.6 280.9L1049.1 280.9L1050.6 280.9L1052.1 280.9L1053.6 280.9L1055.0 280.9" fill="none" stroke="#dc143c" stroke-opacity="0.35" stroke-width="1.3"/><path d="M639.6,280.3L641.1 279.8L642.6 279.4L644.1 279.1L645.6 278.9L647.1 278.8L648.6 278.6L650.1 278.4L651.6 278.3L653.1 278.1L654.6 278.0L656.1 277.8L657.6 277.7L659.1 277.6L660.6 277.4L662.1 277.2L663.6 277.0L665.1 276.8L666.6 276.6L668.1 276.4L669.6 276.3L671.1 276.1L672.6 276.0L674.1 275.9L675.6 275.8L677.1 275.7L678.6 275.6L680.1 275.6L681.6 275.5L683.1 275.5L684.6 275.6L686.1 275.7L687.6 275.9L689.1 276.2L690.6 276.4L692.1 276.7L693.6 277.1L695.1 277.6L696.6 278.1L698.1 278.7L699.6 279.3L701.1 279.8L702.6 280.1L704.1 280.4L705.6 280.7L707.1 281.0L708.6 281.4L710.1 281.9L711.6 282.6L713.1 283.9L714.6 286.4L716.1 290.2L717.6 295.0L719.1 300.1L720.6 304.9L722.1 309.4L723.6 313.5L725.1 317.1L726.6 320.5L728.1 323.5L729.6 326.1L731.1 328.4L732.6 330.2L734.1 331.5L735.6 332.0L737.1 331.9L738.6 331.2L740.1 330.0L741.6 328.2L743.1 325.7L744.6 322.9L746.1 319.6L747.6 316.1L749.1 312.3L750.6 308.5L752.1 304.6L753.6 300.7L755.1 297.0L756.6 293.6L758.1 290.6L759.6 288.2L761.1 286.6L762.6 285.4L764.1 284.5L765.6 283.6L767.1 282.8L768.6 282.1L770.1 281.5L771.6 281.0L773.1 280.4L774.6 280.0L776.1 279.5L777.6 279.1L779.1 278.8L780.6 278.4L782.1 278.1L783.6 277.9L785.1 277.9L786.6 278.1L788.1 278.7L789.6 279.8L791.1 281.8L792.6 284.5L794.1 287.7L795.6 290.7L797.1 293.5L798.6 296.1L800.1 298.4L801.6 300.3L803.1 301.8L804.6 302.8L806.1 303.5L807.6 303.9L809.1 304.0L810.6 303.8L812.1 303.0L813.6 301.7L815.1 299.9L816.6 298.0L818.1 295.9L819.6 293.1L821.1 289.5L822.6 285.3L824.1 280.8L825.6 276.2L827.1 271.5L828.6 266.9L830.1 262.6L831.6 258.7L833.1 255.2L834.6 252.1L836.1 249.2L837.6 246.4L839.1 243.8L840.6 241.3L842.1 238.8L843.6 236.2L845.1 233.5L846.6 230.6L848.1 227.7L849.6 224.6L851.1 221.5L852.6 218.4L854.1 215.4L855.6 212.4L857.1 209.6L858.6 206.7L860.1 203.9L861.6 201.0L863.1 198.3L864.6 195.6L866.1 193.0L867.6 190.3L869.1 187.7L870.6 184.9L872.1 182.2L873.6 179.4L875.1 176.6L876.6 173.8L878.1 171.2L879.6 168.9L881.1 166.8L882.6 165.0L884.1 163.6L885.6 162.4L887.1 161.4L888.6 160.9L890.1 160.7L891.6 160.8L893.1 161.2L894.6 161.8L896.1 162.8L897.6 164.3L899.1 166.2L900.6 168.5L902.1 171.0L903.6 173.9L905.1 176.9L906.6 180.0L908.1 183.0L909.6 185.9L911.1 189.0L912.6 192.0L914.1 195.0L915.6 198.1L917.1 201.2L918.6 204.4L920.1 207.5L921.6 210.7L923.1 213.9L924.6 217.2L926.1 220.5L927.6 223.9L929.1 227.2L930.6 230.5L932.1 233.7L933.6 236.7L935.1 239.6L936.6 242.3L938.1 245.0L939.6 247.5L941.1 249.9L942.6 252.2L944.1 254.5L945.6 256.6L947.1 258.6L948.6 260.5L950.1 262.2L951.6 263.9L953.1 265.5L954.6 266.9L956.1 268.2L957.6 269.4L959.1 270.5L960.6 271.4L962.1 272.3L963.6 273.1L965.1 273.9L966.6 274.6L968.1 275.3L969.6 275.9L971.1 276.5L972.6 277.0L974.1 277.5L975.6 277.9L977.1 278.3L978.6 278.6L980.1 279.0L981.6 279.3L983.1 279.5L984.6 279.7L986.1 279.8L987.6 279.9L989.1 280.0L990.6 280.1L992.1 280.2L993.6 280.3L995.1 280.4L996.6 280.4L998.1 280.5L999.6 280.5L1001.1 280.5L1002.6 280.5L1004.1 280.6L1005.6 280.6L1007.1 280.6L1008.6 280.6L1010.1 280.6L1011.6 280.7L1013.1 280.7L1014.6 280.7L1016.1 280.7L1017.6 280.7L1019.1 280.7L1020.6 280.7L1022.1 280.8L1023.6 280.8L1025.1 280.8L1026.6 280.8L1028.1 280.8L1029.6 280.8L1031.1 280.8L1032.6 280.8L1034.1 280.8L1035.6 280.9L1037.1 280.9L1038.6 280.9L1040.1 280.9L1041.6 280.9L1043.1 280.9L1044.6 280.9L1046.1 280.9L1047.6 280.9L1049.1 280.9L1050.6 280.9L1052.1 280.9L1053.6 280.9L1055.0 280.9" fill="none" stroke="#dc143c" stroke-opacity="0.35" stroke-width="1.3"/>
<path d="M639.6,280.1L641.1 279.4L642.6 278.5L644.1 277.5L645.6 276.4L647.1 275.3L648.6 274.1L650.1 272.7L651.6 271.2L653.1 269.7L654.6 268.1L656.1 266.6L657.6 265.0L659.1 263.5L660.6 262.0L662.1 260.6L663.6 259.2L665.1 257.9L666.6 256.7L668.1 255.6L669.6 254.6L671.1 253.7L672.6 252.9L674.1 252.3L675.6 251.8L677.1 251.3L678.6 251.0L680.1 250.8L681.6 250.7L683.1 250.8L684.6 251.2L686.1 251.7L687.6 252.5L689.1 253.5L690.6 254.7L692.1 256.1L693.6 257.6L695.1 259.3L696.6 261.1L698.1 263.0L699.6 264.9L701.1 266.8L702.6 268.6L704.1 270.5L705.6 272.2L707.1 274.1L708.6 275.9L710.1 277.9L711.6 280.0L713.1 282.1L714.6 284.4L716.1 286.6L717.6 288.7L719.1 290.8L720.6 292.7L722.1 294.5L723.6 296.0L725.1 297.4L726.6 298.6L728.1 299.7L729.6 300.5L731.1 301.2L732.6 301.6L734.1 302.0L735.6 302.1L737.1 302.1L738.6 301.8L740.1 301.4L741.6 300.8L743.1 300.0L744.6 299.0L746.1 297.9L747.6 296.6L749.1 295.3L750.6 294.0L752.1 292.6L753.6 291.1L755.1 289.7L756.6 288.2L758.1 286.7L759.6 285.1L761.1 283.6L762.6 282.2L764.1 280.9L765.6 279.6L767.1 278.5L768.6 277.5L770.1 276.6L771.6 275.8L773.1 275.1L774.6 274.5L776.1 274.0L777.6 273.6L779.1 273.3L780.6 273.2L782.1 273.2L783.6 273.2L785.1 273.4L786.6 273.6L788.1 274.0L789.6 274.4L791.1 274.8L792.6 275.3L794.1 275.7L795.6 276.1L797.1 276.5L798.6 276.9L800.1 277.3L801.6 277.7L803.1 278.0L804.6 278.2L806.1 278.3L807.6 278.3L809.1 278.2L810.6 278.1L812.1 277.8L813.6 277.4L815.1 276.7L816.6 275.8L818.1 274.6L819.6 273.0L821.1 271.1L822.6 268.7L824.1 266.0L825.6 263.1L827.1 259.9L828.6 256.7L830.1 253.5L831.6 250.4L833.1 247.3L834.6 243.9L836.1 240.1L837.6 235.8L839.1 231.2L840.6 226.6L842.1 221.9L843.6 217.4L845.1 212.9L846.6 208.0L848.1 202.8L849.6 197.4L851.1 191.9L852.6 186.4L854.1 180.8L855.6 175.1L857.1 169.3L858.6 163.5L860.1 157.7L861.6 151.9L863.1 146.4L864.6 141.1L866.1 136.2L867.6 131.8L869.1 127.7L870.6 124.1L872.1 120.8L873.6 117.7L875.1 114.9L876.6 112.3L878.1 109.9L879.6 107.9L881.1 106.4L882.6 105.3L884.1 104.6L885.6 104.2L887.1 104.0L888.6 104.0L890.1 104.2L891.6 104.6L893.1 105.3L894.6 106.3L896.1 107.7L897.6 109.5L899.1 111.6L900.6 114.1L902.1 116.8L903.6 119.9L905.1 123.4L906.6 127.1L908.1 131.0L909.6 135.0L911.1 139.3L912.6 143.7L914.1 148.3L915.6 152.9L917.1 157.7L918.6 162.6L920.1 167.5L921.6 172.4L923.1 177.3L924.6 182.3L926.1 187.1L927.6 191.9L929.1 196.6L930.6 201.1L932.1 205.5L933.6 209.8L935.1 213.9L936.6 217.9L938.1 221.7L939.6 225.3L941.1 228.7L942.6 232.0L944.1 235.1L945.6 238.1L947.1 240.9L948.6 243.7L950.1 246.4L951.6 249.0L953.1 251.5L954.6 253.8L956.1 256.1L957.6 258.2L959.1 260.2L960.6 262.0L962.1 263.8L963.6 265.5L965.1 267.0L966.6 268.5L968.1 269.9L969.6 271.2L971.1 272.3L972.6 273.3L974.1 274.1L975.6 274.7L977.1 275.3L978.6 275.7L980.1 276.2L981.6 276.5L983.1 276.9L984.6 277.3L986.1 277.6L987.6 277.9L989.1 278.3L990.6 278.6L992.1 278.9L993.6 279.1L995.1 279.4L996.6 279.5L998.1 279.7L999.6 279.8L1001.1 279.9L1002.6 280.0L1004.1 280.1L1005.6 280.2L1007.1 280.3L1008.6 280.3L1010.1 280.4L1011.6 280.4L1013.1 280.5L1014.6 280.5L1016.1 280.5L1017.6 280.6L1019.1 280.6L1020.6 280.6L1022.1 280.6L1023.6 280.7L1025.1 280.7L1026.6 280.7L1028.1 280.7L1029.6 280.7L1031.1 280.8L1032.6 280.8L1034.1 280.8L1035.6 280.8L1037.1 280.8L1038.6 280.8L1040.1 280.8L1041.6 280.9L1043.1 280.9L1044.6 280.9L1046.1 280.9L1047.6 280.9L1049.1 280.9L1050.6 280.9L1052.1 280.9L1053.6 280.9L1055.0 280.9" fill="none" stroke="#4169e1" stroke-width="3.30" stroke-linejoin="round" stroke-linecap="butt"/>
<path d="M639.6,280.1L641.1 279.4L642.6 278.5L644.1 277.5L645.6 276.4L647.1 275.3L648.6 274.1L650.1 272.7L651.6 271.2L653.1 269.7L654.6 268.1L656.1 266.6L657.6 265.0L659.1 263.5L660.6 262.0L662.1 260.6L663.6 259.2L665.1 257.9L666.6 256.7L668.1 255.6L669.6 254.6L671.1 253.7L672.6 252.9L674.1 252.3L675.6 251.8L677.1 251.3L678.6 251.0L680.1 250.8L681.6 250.7L683.1 250.8L684.6 251.2L686.1 251.7L687.6 252.5L689.1 253.5L690.6 254.7L692.1 256.1L693.6 257.6L695.1 259.3L696.6 261.1L698.1 263.0L699.6 264.9L701.1 266.8L702.6 268.6L704.1 270.5L705.6 272.2L707.1 274.1L708.6 275.9L710.1 277.9L711.6 280.0L713.1 282.1L714.6 284.4L716.1 286.6L717.6 288.7L719.1 290.8L720.6 292.7L722.1 294.5L723.6 296.0L725.1 297.4L726.6 298.6L728.1 299.7L729.6 300.5L731.1 301.2L732.6 301.6L734.1 302.0L735.6 302.1L737.1 302.1L738.6 301.8L740.1 301.4L741.6 300.8L743.1 300.0L744.6 299.0L746.1 297.9L747.6 296.6L749.1 295.3L750.6 294.0L752.1 292.6L753.6 291.1L755.1 289.7L756.6 288.2L758.1 286.7L759.6 285.1L761.1 283.6L762.6 282.2L764.1 280.9L765.6 279.6L767.1 278.5L768.6 277.5L770.1 276.6L771.6 275.8L773.1 275.1L774.6 274.5L776.1 274.0L777.6 273.6L779.1 273.4L780.6 273.2L782.1 273.2L783.6 273.2L785.1 273.4L786.6 273.7L788.1 274.1L789.6 274.6L791.1 275.1L792.6 275.6L794.1 276.2L795.6 276.7L797.1 277.3L798.6 277.9L800.1 278.4L801.6 279.0L803.1 279.4L804.6 279.7L806.1 279.7L807.6 279.6L809.1 279.4L810.6 279.1L812.1 278.7L813.6 278.1L815.1 277.3L816.6 276.2L818.1 274.9L819.6 273.2L821.1 271.2L822.6 268.8L824.1 266.1L825.6 263.1L827.1 259.9L828.6 256.7L830.1 253.5L831.6 250.4L833.1 247.3L834.6 243.9L836.1 240.1L837.6 235.8L839.1 231.2L840.6 226.6L842.1 221.9L843.6 217.4L845.1 212.9L846.6 208.0L848.1 202.8L849.6 197.4L851.1 191.9L852.6 186.4L854.1 180.8L855.6 175.1L857.1 169.3L858.6 163.5L860.1 157.7L861.6 151.9L863.1 146.4L864.6 141.1L866.1 136.2L867.6 131.7L869.1 127.6L870.6 123.9L872.1 120.4L873.6 117.2L875.1 114.2L876.6 111.3L878.1 108.6L879.6 106.2L881.1 104.2L882.6 102.8L884.1 101.7L885.6 101.0L887.1 100.7L888.6 100.7L890.1 101.0L891.6 101.6L893.1 102.6L894.6 104.1L896.1 105.9L897.6 108.0L899.1 110.5L900.6 113.3L902.1 116.3L903.6 119.6L905.1 123.2L906.6 127.0L908.1 130.9L909.6 135.1L911.1 139.4L912.6 143.8L914.1 148.2L915.6 152.7L917.1 157.2L918.6 161.7L920.1 166.3L921.6 171.0L923.1 175.8L924.6 180.7L926.1 185.6L927.6 190.4L929.1 195.0L930.6 199.6L932.1 204.0L933.6 208.3L935.1 212.4L936.6 216.4L938.1 220.2L939.6 223.8L941.1 227.2L942.6 230.5L944.1 233.6L945.6 236.6L947.1 239.4L948.6 242.2L950.1 244.9L951.6 247.5L953.1 250.0L954.6 252.3L956.1 254.6L957.6 256.7L959.1 258.7L960.6 260.5L962.1 262.3L963.6 264.0L965.1 265.5L966.6 267.0L968.1 268.3L969.6 269.6L971.1 270.8L972.6 271.8L974.1 272.7L975.6 273.6L977.1 274.3L978.6 275.0L980.1 275.7L981.6 276.2L983.1 276.8L984.6 277.2L986.1 277.6L987.6 278.0L989.1 278.3L990.6 278.6L992.1 278.9L993.6 279.2L995.1 279.4L996.6 279.5L998.1 279.7L999.6 279.8L1001.1 279.9L1002.6 280.0L1004.1 280.1L1005.6 280.2L1007.1 280.3L1008.6 280.3L1010.1 280.4L1011.6 280.4L1013.1 280.5L1014.6 280.5L1016.1 280.5L1017.6 280.6L1019.1 280.6L1020.6 280.6L1022.1 280.6L1023.6 280.7L1025.1 280.7L1026.6 280.7L1028.1 280.7L1029.6 280.7L1031.1 280.8L1032.6 280.8L1034.1 280.8L1035.6 280.8L1037.1 280.8L1038.6 280.8L1040.1 280.8L1041.6 280.9L1043.1 280.9L1044.6 280.9L1046.1 280.9L1047.6 280.9L1049.1 280.9L1050.6 280.9L1052.1 280.9L1053.6 280.9L1055.0 280.9" fill="none" stroke="#dc143c" stroke-width="3.30" stroke-linejoin="round" stroke-linecap="butt"/>
<clipPath id="cb"><rect x="97.6" y="440" width="420" height="346.6"/></clipPath>
<path d="M97.6,715.2L99.1 715.2L100.6 715.2L102.1 715.2L103.6 715.2L105.1 715.2L106.6 715.2L108.1 715.2L109.6 715.2L111.1 715.2L112.6 715.2L114.1 715.2L115.6 715.2L117.1 715.2L118.6 715.2L120.1 715.2L121.6 715.2L123.1 715.2L124.6 715.2L126.1 715.2L127.6 715.2L129.1 715.2L130.6 715.3L132.1 715.3L133.6 715.3L135.1 715.3L136.6 715.3L138.1 715.4L139.6 715.4L141.1 715.4L142.6 715.5L144.1 715.5L145.6 715.6L147.1 715.6L148.6 715.7L150.1 715.8L151.6 715.9L153.1 716.0L154.6 716.1L156.1 716.2L157.6 716.3L159.1 716.4L160.6 716.5L162.1 716.7L163.6 716.8L165.1 717.0L166.6 717.2L168.1 717.4L169.6 717.6L171.1 717.8L172.6 718.0L174.1 718.2L175.6 718.5L177.1 718.7L178.6 719.0L180.1 719.2L181.6 719.5L183.1 719.8L184.6 720.2L186.1 720.5L187.6 720.9L189.1 721.2L190.6 721.6L192.1 722.0L193.6 722.4L195.1 722.8L196.6 723.2L198.1 723.7L199.6 724.2L201.1 724.7L202.6 725.2L204.1 725.8L205.6 726.3L207.1 726.9L208.6 727.4L210.1 728.0L211.6 728.6L213.1 729.1L214.6 729.7L216.1 730.3L217.6 730.9L219.1 731.5L220.6 732.1L222.1 732.7L223.6 733.3L225.1 734.0L226.6 734.6L228.1 735.4L229.6 736.1L231.1 736.9L232.6 737.7L234.1 738.6L235.6 739.5L237.1 740.4L238.6 741.4L240.1 742.4L241.6 743.5L243.1 744.7L244.6 745.9L246.1 747.2L247.6 748.5L249.1 750.0L250.6 751.4L252.1 752.9L253.6 754.4L255.1 756.0L256.6 757.5L258.1 759.1L259.6 760.6L261.1 762.2L262.6 763.8L264.1 765.5L265.6 767.2L267.1 768.8L268.6 770.5L270.1 772.3L271.6 774.2L273.1 775.9L274.6 777.5L276.1 778.8L277.6 780.0L279.1 781.1L280.6 782.1L282.1 782.9L283.6 783.4L285.1 783.6L286.6 783.4L288.1 783.2L289.6 782.8L291.1 782.3L292.6 781.7L294.1 780.9L295.6 779.6L297.1 777.8L298.6 775.6L300.1 773.2L301.6 770.6L303.1 767.9L304.6 764.8L306.1 761.1L307.6 756.6L309.1 750.9L310.6 744.7L312.1 738.7L313.6 732.8L315.1 726.4L316.6 718.7L318.1 710.3L319.6 702.3L321.1 694.6L322.6 687.0L324.1 679.5L325.6 672.0L327.1 664.5L328.6 657.1L330.1 649.6L331.6 641.1L333.1 630.9L334.6 618.3L336.1 601.3L337.6 585.1L339.1 573.0L340.6 560.5L342.1 548.5L343.6 538.0L345.1 527.8L346.6 518.1L348.1 509.7L349.6 503.0L351.1 497.4L352.6 492.6L354.1 488.2L355.6 484.8L357.1 482.9L358.6 481.7L360.1 480.9L361.6 480.6L363.1 481.5L364.6 483.7L366.1 486.7L367.6 490.1L369.1 494.2L370.6 499.2L372.1 504.4L373.6 510.1L375.1 516.3L376.6 522.6L378.1 529.0L379.6 535.7L381.1 542.8L382.6 550.5L384.1 559.3L385.6 570.9L387.1 584.1L388.6 595.1L390.1 603.9L391.6 611.5L393.1 618.7L394.6 625.6L396.1 632.3L397.6 638.7L399.1 644.9L400.6 651.0L402.1 657.1L403.6 663.2L405.1 669.0L406.6 674.7L408.1 680.2L409.6 685.7L411.1 691.1L412.6 696.1L414.1 700.4L415.6 703.9L417.1 707.0L418.6 709.8L420.1 712.3L421.6 714.4L423.1 715.9L424.6 717.1L426.1 718.1L427.6 719.1L429.1 719.9L430.6 720.5L432.1 721.0L433.6 721.2L435.1 721.2L436.6 721.1L438.1 721.0L439.6 720.8L441.1 720.6L442.6 720.4L444.1 720.2L445.6 720.0L447.1 719.8L448.6 719.6L450.1 719.5L451.6 719.3L453.1 719.1L454.6 718.9L456.1 718.7L457.6 718.5L459.1 718.3L460.6 718.1L462.1 717.9L463.6 717.8L465.1 717.6L466.6 717.5L468.1 717.3L469.6 717.2L471.1 717.1L472.6 717.1L474.1 717.0L475.6 716.9L477.1 716.8L478.6 716.7L480.1 716.7L481.6 716.6L483.1 716.5L484.6 716.4L486.1 716.4L487.6 716.3L489.1 716.2L490.6 716.2L492.1 716.1L493.6 716.1L495.1 716.0L496.6 716.0L498.1 715.9L499.6 715.9L501.1 715.8L502.6 715.8L504.1 715.8L505.6 715.8L507.1 715.7L508.6 715.7L510.1 715.7L511.6 715.7L513.0 715.7" fill="none" stroke="#008000" stroke-width="3.30" stroke-linejoin="round" stroke-linecap="butt" clip-path="url(#cb)"/>
<path d="M97.6,715.2L99.1 715.2L100.6 715.2L102.1 715.2L103.6 715.2L105.1 715.2L106.6 715.2L108.1 715.2L109.6 715.2L111.1 715.2L112.6 715.2L114.1 715.2L115.6 715.2L117.1 715.2L118.6 715.2L120.1 715.2L121.6 715.2L123.1 715.2L124.6 715.2L126.1 715.2L127.6 715.2L129.1 715.3L130.6 715.3L132.1 715.3L133.6 715.3L135.1 715.3L136.6 715.3L138.1 715.4L139.6 715.4L141.1 715.4L142.6 715.5L144.1 715.5L145.6 715.6L147.1 715.6L148.6 715.7L150.1 715.8L151.6 715.9L153.1 716.0L154.6 716.1L156.1 716.2L157.6 716.3L159.1 716.4L160.6 716.5L162.1 716.7L163.6 716.8L165.1 717.0L166.6 717.2L168.1 717.4L169.6 717.6L171.1 717.8L172.6 718.0L174.1 718.2L175.6 718.4L177.1 718.7L178.6 718.9L180.1 719.2L181.6 719.4L183.1 719.7L184.6 720.0L186.1 720.3L187.6 720.6L189.1 720.9L190.6 721.3L192.1 721.6L193.6 721.9L195.1 722.3L196.6 722.7L198.1 723.1L199.6 723.5L201.1 723.9L202.6 724.4L204.1 724.8L205.6 725.3L207.1 725.7L208.6 726.2L210.1 726.7L211.6 727.1L213.1 727.6L214.6 728.1L216.1 728.5L217.6 729.0L219.1 729.5L220.6 729.9L222.1 730.4L223.6 730.9L225.1 731.5L226.6 732.0L228.1 732.6L229.6 733.2L231.1 733.8L232.6 734.4L234.1 735.1L235.6 735.9L237.1 736.6L238.6 737.5L240.1 738.3L241.6 739.2L243.1 740.2L244.6 741.3L246.1 742.5L247.6 743.7L249.1 745.0L250.6 746.3L252.1 747.7L253.6 749.2L255.1 750.6L256.6 752.1L258.1 753.5L259.6 755.0L261.1 756.6L262.6 758.1L264.1 759.7L265.6 761.3L267.1 762.9L268.6 764.4L270.1 766.0L271.6 767.6L273.1 769.0L274.6 770.4L276.1 771.6L277.6 772.8L279.1 773.8L280.6 774.8L282.1 775.5L283.6 776.1L285.1 776.4L286.6 776.4L288.1 776.2L289.6 775.7L291.1 775.0L292.6 774.0L294.1 772.4L295.6 770.3L297.1 767.6L298.6 764.5L300.1 761.2L301.6 757.7L303.1 754.0L304.6 750.1L306.1 745.8L307.6 741.2L309.1 736.6L310.6 732.0L312.1 727.7L313.6 723.2L315.1 718.4L316.6 712.9L318.1 706.9L319.6 700.4L321.1 693.5L322.6 686.5L324.1 679.3L325.6 672.0L327.1 664.6L328.6 656.9L330.1 649.1L331.6 641.1L333.1 632.9L334.6 624.6L336.1 616.0L337.6 607.2L339.1 598.1L340.6 588.7L342.1 578.9L343.6 568.9L345.1 559.0L346.6 549.4L348.1 540.7L349.6 533.3L351.1 527.4L352.6 522.8L354.1 519.3L355.6 516.5L357.1 514.2L358.6 512.4L360.1 511.1L361.6 510.4L363.1 510.4L364.6 511.2L366.1 512.6L367.6 514.4L369.1 516.7L370.6 519.5L372.1 522.8L373.6 526.6L375.1 530.6L376.6 534.9L378.1 539.5L379.6 544.9L381.1 551.5L382.6 559.3L384.1 567.9L385.6 576.8L387.1 585.5L388.6 593.8L390.1 601.7L391.6 609.3L393.1 616.6L394.6 623.6L396.1 630.4L397.6 637.0L399.1 643.4L400.6 649.7L402.1 656.0L403.6 662.1L405.1 668.0L406.6 673.8L408.1 679.4L409.6 684.8L411.1 690.0L412.6 694.8L414.1 699.1L415.6 702.9L417.1 706.2L418.6 709.1L420.1 711.7L421.6 713.8L423.1 715.4L424.6 716.7L426.1 717.7L427.6 718.5L429.1 719.2L430.6 719.7L432.1 720.1L433.6 720.3L435.1 720.4L436.6 720.4L438.1 720.3L439.6 720.3L441.1 720.1L442.6 720.0L444.1 719.9L445.6 719.7L447.1 719.6L448.6 719.4L450.1 719.3L451.6 719.1L453.1 719.0L454.6 718.8L456.1 718.6L457.6 718.4L459.1 718.3L460.6 718.1L462.1 717.9L463.6 717.8L465.1 717.6L466.6 717.5L468.1 717.3L469.6 717.2L471.1 717.1L472.6 717.1L474.1 717.0L475.6 716.9L477.1 716.8L478.6 716.7L480.1 716.7L481.6 716.6L483.1 716.5L484.6 716.4L486.1 716.4L487.6 716.3L489.1 716.3L490.6 716.2L492.1 716.1L493.6 716.1L495.1 716.0L496.6 716.0L498.1 715.9L499.6 715.9L501.1 715.9L502.6 715.8L504.1 715.8L505.6 715.8L507.1 715.7L508.6 715.7L510.1 715.7L511.6 715.7L513.0 715.7" fill="none" stroke="#d8b8da" stroke-width="3.30" stroke-linejoin="round" stroke-linecap="butt" clip-path="url(#cb)"/>
<path d="M97.6,715.2L99.1 715.2L100.6 715.2L102.1 715.2L103.6 715.2L105.1 715.2L106.6 715.2L108.1 715.2L109.6 715.2L111.1 715.2L112.6 715.2L114.1 715.2L115.6 715.2L117.1 715.2L118.6 715.2L120.1 715.2L121.6 715.2L123.1 715.2L124.6 715.2L126.1 715.2L127.6 715.2L129.1 715.3L130.6 715.3L132.1 715.3L133.6 715.3L135.1 715.3L136.6 715.3L138.1 715.4L139.6 715.4L141.1 715.4L142.6 715.5L144.1 715.5L145.6 715.6L147.1 715.6L148.6 715.7L150.1 715.8L151.6 715.9L153.1 716.0L154.6 716.1L156.1 716.2L157.6 716.3L159.1 716.4L160.6 716.5L162.1 716.7L163.6 716.8L165.1 717.0L166.6 717.2L168.1 717.3L169.6 717.5L171.1 717.7L172.6 717.9L174.1 718.1L175.6 718.3L177.1 718.6L178.6 718.8L180.1 719.0L181.6 719.3L183.1 719.6L184.6 719.8L186.1 720.1L187.6 720.4L189.1 720.7L190.6 721.0L192.1 721.2L193.6 721.5L195.1 721.8L196.6 722.1L198.1 722.4L199.6 722.6L201.1 722.9L202.6 723.2L204.1 723.4L205.6 723.7L207.1 723.9L208.6 724.2L210.1 724.4L211.6 724.6L213.1 724.8L214.6 724.9L216.1 725.0L217.6 725.1L219.1 725.3L220.6 725.4L222.1 725.6L223.6 725.8L225.1 726.1L226.6 726.5L228.1 726.9L229.6 727.4L231.1 728.0L232.6 728.7L234.1 729.4L235.6 730.3L237.1 731.3L238.6 732.4L240.1 733.6L241.6 735.0L243.1 736.3L244.6 737.8L246.1 739.2L247.6 740.7L249.1 742.3L250.6 744.0L252.1 745.8L253.6 747.7L255.1 749.8L256.6 752.0L258.1 754.3L259.6 756.9L261.1 759.6L262.6 762.6L264.1 765.6L265.6 768.7L267.1 771.7L268.6 774.7L270.1 777.7L271.6 780.6L273.1 783.4L274.6 785.9L276.1 788.1L277.6 789.9L279.1 791.2L280.6 792.0L282.1 792.5L283.6 792.5L285.1 792.2L286.6 791.4L288.1 790.2L289.6 788.5L291.1 786.0L292.6 782.6L294.1 778.4L295.6 773.8L297.1 769.2L298.6 764.4L300.1 759.4L301.6 753.8L303.1 747.9L304.6 741.6L306.1 735.3L307.6 728.6L309.1 721.5L310.6 713.8L312.1 705.8L313.6 697.7L315.1 689.9L316.6 682.4L318.1 675.2L319.6 668.4L321.1 662.1L322.6 656.2L324.1 650.7L325.6 645.4L327.1 640.0L328.6 634.3L330.1 628.4L331.6 622.2L333.1 616.0L334.6 609.8L336.1 603.6L337.6 597.6L339.1 591.6L340.6 585.7L342.1 580.0L343.6 574.7L345.1 570.0L346.6 566.2L348.1 563.1L349.6 560.7L351.1 558.7L352.6 557.3L354.1 556.3L355.6 555.6L357.1 555.1L358.6 554.9L360.1 555.1L361.6 555.6L363.1 556.3L364.6 557.3L366.1 558.4L367.6 559.7L369.1 561.4L370.6 563.7L372.1 566.7L373.6 570.1L375.1 573.9L376.6 578.1L378.1 582.4L379.6 586.9L381.1 591.6L382.6 596.4L384.1 601.5L385.6 606.8L387.1 612.1L388.6 617.3L390.1 622.3L391.6 627.1L393.1 631.8L394.6 636.3L396.1 640.7L397.6 645.2L399.1 649.7L400.6 654.2L402.1 658.8L403.6 663.3L405.1 667.8L406.6 672.1L408.1 676.3L409.6 680.4L411.1 684.4L412.6 688.1L414.1 691.5L415.6 694.6L417.1 697.4L418.6 699.9L420.1 702.2L421.6 704.2L423.1 706.0L424.6 707.6L426.1 709.0L427.6 710.3L429.1 711.4L430.6 712.4L432.1 713.2L433.6 713.9L435.1 714.3L436.6 714.7L438.1 715.1L439.6 715.3L441.1 715.6L442.6 715.8L444.1 716.0L445.6 716.1L447.1 716.2L448.6 716.3L450.1 716.3L451.6 716.3L453.1 716.3L454.6 716.3L456.1 716.3L457.6 716.3L459.1 716.3L460.6 716.3L462.1 716.2L463.6 716.2L465.1 716.2L466.6 716.2L468.1 716.2L469.6 716.2L471.1 716.2L472.6 716.2L474.1 716.2L475.6 716.2L477.1 716.2L478.6 716.1L480.1 716.1L481.6 716.1L483.1 716.1L484.6 716.1L486.1 716.1L487.6 716.1L489.1 716.1L490.6 716.0L492.1 716.0L493.6 716.0L495.1 716.0L496.6 716.0L498.1 716.0L499.6 716.0L501.1 715.9L502.6 715.9L504.1 715.9L505.6 715.9L507.1 715.9L508.6 715.9L510.1 715.8L511.6 715.8L513.0 715.8" fill="none" stroke="#e0a520" stroke-width="3.30" stroke-linejoin="round" stroke-linecap="butt" clip-path="url(#cb)"/>
<path d="M97.6,715.2L99.1 715.2L100.6 715.2L102.1 715.2L103.6 715.2L105.1 715.2L106.6 715.2L108.1 715.2L109.6 715.2L111.1 715.2L112.6 715.2L114.1 715.2L115.6 715.2L117.1 715.2L118.6 715.2L120.1 715.2L121.6 715.2L123.1 715.2L124.6 715.2L126.1 715.2L127.6 715.2L129.1 715.3L130.6 715.3L132.1 715.3L133.6 715.3L135.1 715.3L136.6 715.3L138.1 715.4L139.6 715.4L141.1 715.4L142.6 715.5L144.1 715.5L145.6 715.6L147.1 715.6L148.6 715.7L150.1 715.8L151.6 715.9L153.1 716.0L154.6 716.1L156.1 716.2L157.6 716.3L159.1 716.4L160.6 716.5L162.1 716.7L163.6 716.8L165.1 717.0L166.6 717.2L168.1 717.4L169.6 717.6L171.1 717.8L172.6 718.0L174.1 718.2L175.6 718.4L177.1 718.7L178.6 718.9L180.1 719.1L181.6 719.4L183.1 719.6L184.6 719.9L186.1 720.2L187.6 720.5L189.1 720.8L190.6 721.1L192.1 721.4L193.6 721.7L195.1 722.0L196.6 722.4L198.1 722.7L199.6 723.1L201.1 723.5L202.6 723.9L204.1 724.3L205.6 724.7L207.1 725.1L208.6 725.6L210.1 726.0L211.6 726.4L213.1 726.8L214.6 727.2L216.1 727.6L217.6 728.0L219.1 728.4L220.6 728.8L222.1 729.2L223.6 729.7L225.1 730.1L226.6 730.6L228.1 731.1L229.6 731.7L231.1 732.3L232.6 733.0L234.1 733.7L235.6 734.4L237.1 735.3L238.6 736.1L240.1 737.1L241.6 738.0L243.1 739.0L244.6 740.1L246.1 741.3L247.6 742.5L249.1 743.7L250.6 745.1L252.1 746.4L253.6 747.8L255.1 749.3L256.6 750.8L258.1 752.3L259.6 753.9L261.1 755.6L262.6 757.3L264.1 759.1L265.6 761.0L267.1 762.8L268.6 764.6L270.1 766.3L271.6 768.1L273.1 769.7L274.6 771.3L276.1 772.7L277.6 774.1L279.1 775.4L280.6 776.7L282.1 777.8L283.6 778.6L285.1 779.2L286.6 779.3L288.1 779.1L289.6 778.6L291.1 777.7L292.6 776.4L294.1 774.6L295.6 772.2L297.1 769.2L298.6 765.8L300.1 762.1L301.6 758.1L303.1 753.6L304.6 748.4L306.1 742.5L307.6 735.9L309.1 728.8L310.6 721.4L312.1 713.8L313.6 706.0L315.1 698.1L316.6 690.2L318.1 682.3L319.6 674.4L321.1 666.4L322.6 658.4L324.1 650.1L325.6 641.5L327.1 632.5L328.6 623.1L330.1 613.3L331.6 603.5L333.1 593.8L334.6 584.3L336.1 575.2L337.6 566.6L339.1 558.7L340.6 551.6L342.1 545.3L343.6 539.9L345.1 535.1L346.6 531.0L348.1 527.3L349.6 524.2L351.1 521.7L352.6 520.0L354.1 518.9L355.6 518.5L357.1 518.6L358.6 519.4L360.1 520.9L361.6 523.0L363.1 525.7L364.6 529.0L366.1 533.1L367.6 537.7L369.1 542.9L370.6 548.6L372.1 554.7L373.6 561.3L375.1 568.3L376.6 575.7L378.1 583.3L379.6 590.9L381.1 598.6L382.6 606.1L384.1 613.5L385.6 620.7L387.1 627.7L388.6 634.4L390.1 640.9L391.6 647.2L393.1 653.5L394.6 659.6L396.1 665.7L397.6 671.5L399.1 677.0L400.6 682.4L402.1 687.6L403.6 692.5L405.1 697.0L406.6 701.3L408.1 705.1L409.6 708.7L411.1 712.0L412.6 714.9L414.1 717.4L415.6 719.5L417.1 721.2L418.6 722.6L420.1 723.9L421.6 725.0L423.1 725.8L424.6 726.4L426.1 726.6L427.6 726.7L429.1 726.7L430.6 726.6L432.1 726.4L433.6 726.3L435.1 726.1L436.6 725.9L438.1 725.7L439.6 725.5L441.1 725.1L442.6 724.8L444.1 724.3L445.6 723.9L447.1 723.4L448.6 722.9L450.1 722.4L451.6 722.0L453.1 721.5L454.6 721.1L456.1 720.6L457.6 720.2L459.1 719.8L460.6 719.4L462.1 719.0L463.6 718.7L465.1 718.4L466.6 718.2L468.1 718.0L469.6 717.8L471.1 717.7L472.6 717.5L474.1 717.4L475.6 717.2L477.1 717.1L478.6 717.0L480.1 716.9L481.6 716.8L483.1 716.7L484.6 716.6L486.1 716.5L487.6 716.4L489.1 716.3L490.6 716.3L492.1 716.2L493.6 716.2L495.1 716.1L496.6 716.0L498.1 716.0L499.6 715.9L501.1 715.9L502.6 715.9L504.1 715.8L505.6 715.8L507.1 715.8L508.6 715.7L510.1 715.7L511.6 715.7L513.0 715.7" fill="none" stroke="#1f6ab8" stroke-width="3.30" stroke-linejoin="round" stroke-linecap="butt" clip-path="url(#cb)"/>
<path d="M97.6,715.2L99.1 715.2L100.6 715.2L102.1 715.2L103.6 715.2L105.1 715.2L106.6 715.2L108.1 715.2L109.6 715.2L111.1 715.2L112.6 715.2L114.1 715.2L115.6 715.2L117.1 715.2L118.6 715.2L120.1 715.2L121.6 715.2L123.1 715.2L124.6 715.2L126.1 715.2L127.6 715.2L129.1 715.3L130.6 715.3L132.1 715.3L133.6 715.3L135.1 715.3L136.6 715.3L138.1 715.4L139.6 715.4L141.1 715.4L142.6 715.5L144.1 715.5L145.6 715.6L147.1 715.6L148.6 715.7L150.1 715.8L151.6 715.9L153.1 716.0L154.6 716.1L156.1 716.2L157.6 716.3L159.1 716.4L160.6 716.5L162.1 716.7L163.6 716.8L165.1 717.0L166.6 717.2L168.1 717.4L169.6 717.6L171.1 717.8L172.6 718.0L174.1 718.2L175.6 718.4L177.1 718.7L178.6 718.9L180.1 719.2L181.6 719.5L183.1 719.7L184.6 720.0L186.1 720.3L187.6 720.7L189.1 721.0L190.6 721.3L192.1 721.7L193.6 722.0L195.1 722.4L196.6 722.8L198.1 723.2L199.6 723.6L201.1 724.0L202.6 724.5L204.1 725.0L205.6 725.4L207.1 725.9L208.6 726.4L210.1 726.9L211.6 727.4L213.1 727.9L214.6 728.4L216.1 728.9L217.6 729.4L219.1 730.0L220.6 730.5L222.1 731.0L223.6 731.6L225.1 732.1L226.6 732.6L228.1 733.1L229.6 733.6L231.1 734.1L232.6 734.7L234.1 735.3L235.6 736.1L237.1 737.0L238.6 738.0L240.1 739.0L241.6 740.1L243.1 741.3L244.6 742.4L246.1 743.6L247.6 744.8L249.1 746.1L250.6 747.3L252.1 748.6L253.6 749.9L255.1 751.3L256.6 752.7L258.1 754.1L259.6 755.5L261.1 757.0L262.6 758.5L264.1 760.0L265.6 761.5L267.1 762.9L268.6 764.3L270.1 765.6L271.6 766.9L273.1 768.1L274.6 769.2L276.1 770.2L277.6 771.0L279.1 771.9L280.6 772.6L282.1 773.1L283.6 773.5L285.1 773.5L286.6 773.3L288.1 772.9L289.6 772.2L291.1 771.2L292.6 769.9L294.1 768.3L295.6 766.3L297.1 764.1L298.6 761.9L300.1 759.4L301.6 756.5L303.1 752.9L304.6 748.4L306.1 743.4L307.6 738.2L309.1 733.0L310.6 727.8L312.1 722.5L313.6 716.7L315.1 710.4L316.6 703.6L318.1 696.6L319.6 689.4L321.1 682.3L322.6 675.2L324.1 668.1L325.6 660.9L327.1 653.6L328.6 646.1L330.1 638.2L331.6 630.0L333.1 621.4L334.6 612.5L336.1 603.5L337.6 594.5L339.1 585.4L340.6 576.4L342.1 567.7L343.6 559.5L345.1 551.9L346.6 545.2L348.1 539.3L349.6 534.1L351.1 529.5L352.6 525.4L354.1 521.9L355.6 519.0L357.1 516.8L358.6 515.1L360.1 514.2L361.6 514.0L363.1 514.7L364.6 516.1L366.1 518.1L367.6 520.8L369.1 524.1L370.6 527.9L372.1 532.2L373.6 536.8L375.1 542.4L376.6 549.1L378.1 557.2L379.6 566.0L381.1 575.0L382.6 583.8L384.1 592.2L385.6 600.2L387.1 607.8L388.6 615.2L390.1 622.2L391.6 629.1L393.1 635.7L394.6 642.1L396.1 648.5L397.6 654.7L399.1 660.9L400.6 666.8L402.1 672.6L403.6 678.2L405.1 683.6L406.6 688.7L408.1 693.6L409.6 698.0L411.1 702.0L412.6 705.5L414.1 708.7L415.6 711.5L417.1 713.9L418.6 716.0L420.1 717.7L421.6 719.1L423.1 720.3L424.6 721.4L426.1 722.3L427.6 722.9L429.1 723.3L430.6 723.5L432.1 723.5L433.6 723.5L435.1 723.4L436.6 723.3L438.1 723.2L439.6 723.1L441.1 722.9L442.6 722.8L444.1 722.6L445.6 722.5L447.1 722.2L448.6 722.0L450.1 721.7L451.6 721.3L453.1 721.0L454.6 720.6L456.1 720.2L457.6 719.9L459.1 719.5L460.6 719.2L462.1 718.9L463.6 718.6L465.1 718.4L466.6 718.2L468.1 718.0L469.6 717.9L471.1 717.7L472.6 717.6L474.1 717.4L475.6 717.3L477.1 717.1L478.6 717.0L480.1 716.9L481.6 716.8L483.1 716.7L484.6 716.6L486.1 716.5L487.6 716.4L489.1 716.3L490.6 716.3L492.1 716.2L493.6 716.2L495.1 716.1L496.6 716.0L498.1 716.0L499.6 715.9L501.1 715.9L502.6 715.9L504.1 715.8L505.6 715.8L507.1 715.8L508.6 715.7L510.1 715.7L511.6 715.7L513.0 715.7" fill="none" stroke="#882e78" stroke-width="3.30" stroke-linejoin="round" stroke-linecap="butt" clip-path="url(#cb)"/>
<path d="M639.7,720.2L641.2 719.5L642.7 718.7L644.2 717.9L645.7 717.2L647.2 716.6L648.7 716.2L650.2 716.1L651.7 716.4L653.2 717.1L654.7 717.8L656.2 718.4L657.7 718.8L659.2 719.1L660.7 719.3L662.2 719.5L663.7 719.7L665.2 719.8L666.7 719.9L668.2 720.0L669.7 720.1L671.2 720.2L672.7 720.3L674.2 720.3L675.7 720.4L677.2 720.4L678.7 720.5L680.2 720.5L681.7 720.5L683.2 720.5L684.7 720.5L686.2 720.5L687.7 720.6L689.2 720.6L690.7 720.6L692.2 720.6L693.7 720.6L695.2 720.6L696.7 720.6L698.2 720.6L699.7 720.6L701.2 720.6L702.7 720.6L704.2 720.6L705.7 720.6L707.2 720.6L708.7 720.6L710.2 720.6L711.7 720.6L713.2 720.6L714.7 720.6L716.2 720.6L717.7 720.6L719.2 720.6L720.7 720.6L722.2 720.6L723.7 720.6L725.2 720.5L726.7 720.5L728.2 720.5L729.7 720.4L731.2 720.4L732.7 720.3L734.2 720.2L735.7 720.1L737.2 720.0L738.7 719.7L740.2 719.2L741.7 718.2L743.2 716.7L744.7 714.7L746.2 712.4L747.7 709.4L749.2 705.9L750.7 701.9L752.2 697.8L753.7 693.7L755.2 689.6L756.7 685.5L758.2 681.7L759.7 678.1L761.2 674.7L762.7 671.3L764.2 667.7L765.7 663.8L767.2 660.2L768.7 657.3L770.2 655.1L771.7 653.3L773.2 651.5L774.7 649.7L776.2 648.0L777.7 646.9L779.2 646.2L780.7 645.9L782.2 646.0L783.7 646.5L785.2 647.2L786.7 648.1L788.2 649.2L789.7 650.8L791.2 653.0L792.7 656.1L794.2 660.0L795.7 664.4L797.2 669.2L798.7 674.0L800.2 678.1L801.7 681.5L803.2 684.5L804.7 687.6L806.2 691.5L807.7 696.2L809.2 701.2L810.7 706.2L812.2 710.9L813.7 714.6L815.2 716.8L816.7 717.8L818.2 718.2L819.7 718.4L821.2 718.6L822.7 718.8L824.2 718.9L825.7 719.1L827.2 719.2L828.7 719.2L830.2 719.3L831.7 719.3L833.2 719.4L834.7 719.4L836.2 719.4L837.7 719.5L839.2 719.5L840.7 719.5L842.2 719.4L843.7 719.2L845.2 718.5L846.7 716.3L848.2 711.6L849.7 705.1L851.2 698.1L852.7 691.0L854.2 683.5L855.7 675.2L857.2 665.5L858.7 654.8L860.2 643.3L861.7 631.1L863.2 619.4L864.7 608.9L866.2 599.9L867.7 591.3L869.2 582.2L870.7 572.7L872.2 563.3L873.7 554.5L875.2 546.4L876.7 539.1L878.2 532.4L879.7 526.4L881.2 521.0L882.7 516.2L884.2 512.2L885.7 508.7L887.2 505.7L888.7 503.1L890.2 500.9L891.7 499.4L893.2 498.5L894.7 498.0L896.2 497.7L897.7 497.7L899.2 498.0L900.7 498.9L902.2 500.2L903.7 501.8L905.2 503.6L906.7 505.6L908.2 507.7L909.7 509.8L911.2 511.7L912.7 513.5L914.2 514.9L915.7 516.2L917.2 517.5L918.7 519.1L920.2 521.3L921.7 523.9L923.2 526.8L924.7 530.1L926.2 533.6L927.7 537.5L929.2 541.7L930.7 546.2L932.2 551.2L933.7 556.8L935.2 562.8L936.7 569.1L938.2 575.7L939.7 582.6L941.2 589.7L942.7 597.1L944.2 604.7L945.7 612.5L947.2 620.4L948.7 628.4L950.2 636.5L951.7 644.7L953.2 652.7L954.7 659.7L956.2 665.5L957.7 670.1L959.2 674.1L960.7 677.7L962.2 680.9L963.7 683.9L965.2 686.7L966.7 689.3L968.2 691.7L969.7 694.1L971.2 696.4L972.7 698.7L974.2 700.7L975.7 702.6L977.2 704.2L978.7 705.6L980.2 706.8L981.7 708.0L983.2 709.0L984.7 710.0L986.2 710.9L987.7 711.8L989.2 712.7L990.7 713.5L992.2 714.2L993.7 715.0L995.2 715.6L996.7 716.2L998.2 716.7L999.7 717.0L1001.2 717.4L1002.7 717.7L1004.2 718.0L1005.7 718.2L1007.2 718.5L1008.7 718.7L1010.2 718.9L1011.7 719.1L1013.2 719.3L1014.7 719.4L1016.2 719.6L1017.7 719.7L1019.2 719.8L1020.7 719.8L1022.2 719.9L1023.7 719.9L1025.2 720.0L1026.7 720.0L1028.2 720.1L1029.7 720.1L1031.2 720.2L1032.7 720.2L1034.2 720.2L1035.7 720.3L1037.2 720.3L1038.7 720.3L1040.2 720.4L1041.7 720.4L1043.2 720.4L1044.7 720.4L1046.2 720.4L1047.7 720.5L1049.2 720.5L1050.7 720.5L1052.2 720.5L1053.7 720.5L1055.0 720.5L1055.0,720.5L1053.7 720.5L1052.2 720.5L1050.7 720.5L1049.2 720.5L1047.7 720.5L1046.2 720.5L1044.7 720.5L1043.2 720.5L1041.7 720.5L1040.2 720.5L1038.7 720.4L1037.2 720.4L1035.7 720.4L1034.2 720.4L1032.7 720.4L1031.2 720.4L1029.7 720.4L1028.2 720.3L1026.7 720.3L1025.2 720.3L1023.7 720.3L1022.2 720.3L1020.7 720.2L1019.2 720.2L1017.7 720.2L1016.2 720.2L1014.7 720.1L1013.2 720.1L1011.7 720.1L1010.2 720.0L1008.7 720.0L1007.2 720.0L1005.7 719.9L1004.2 719.9L1002.7 719.9L1001.2 719.8L999.7 719.8L998.2 719.7L996.7 719.6L995.2 719.5L993.7 719.3L992.2 719.1L990.7 718.9L989.2 718.7L987.7 718.5L986.2 718.2L984.7 717.9L983.2 717.6L981.7 717.3L980.2 716.9L978.7 716.5L977.2 716.1L975.7 715.6L974.2 715.1L972.7 714.5L971.2 713.9L969.7 713.3L968.2 712.6L966.7 711.8L965.2 711.0L963.7 710.0L962.2 709.0L960.7 707.9L959.2 706.7L957.7 705.4L956.2 704.1L954.7 702.6L953.2 701.0L951.7 699.1L950.2 697.1L948.7 695.1L947.2 693.2L945.7 691.3L944.2 689.4L942.7 687.6L941.2 685.7L939.7 683.8L938.2 681.9L936.7 679.9L935.2 677.9L933.7 676.0L932.2 674.4L930.7 673.1L929.2 671.9L927.7 670.8L926.2 669.8L924.7 668.9L923.2 668.1L921.7 667.3L920.2 666.4L918.7 665.7L917.2 665.1L915.7 664.8L914.2 664.7L912.7 664.7L911.2 664.9L909.7 665.1L908.2 665.4L906.7 665.7L905.2 666.0L903.7 666.5L902.2 667.1L900.7 667.9L899.2 668.8L897.7 669.8L896.2 670.9L894.7 672.1L893.2 673.3L891.7 674.7L890.2 676.2L888.7 677.9L887.2 679.5L885.7 681.2L884.2 682.8L882.7 684.5L881.2 686.1L879.7 687.8L878.2 689.7L876.7 691.8L875.2 694.3L873.7 697.3L872.2 700.4L870.7 703.2L869.2 705.5L867.7 707.2L866.2 708.8L864.7 710.4L863.2 712.2L861.7 714.1L860.2 715.9L858.7 717.3L857.2 718.4L855.7 719.6L854.2 721.3L852.7 723.6L851.2 726.4L849.7 729.5L848.2 732.7L846.7 735.6L845.2 737.8L843.7 739.4L842.2 740.6L840.7 741.8L839.2 743.0L837.7 744.2L836.2 745.4L834.7 746.7L833.2 747.7L831.7 748.5L830.2 748.9L828.7 748.6L827.2 747.5L825.7 745.9L824.2 743.8L822.7 741.1L821.2 737.9L819.7 734.3L818.2 730.5L816.7 726.6L815.2 723.1L813.7 720.5L812.2 718.8L810.7 717.6L809.2 716.7L807.7 715.9L806.2 715.2L804.7 714.6L803.2 714.1L801.7 713.7L800.2 713.5L798.7 713.3L797.2 713.3L795.7 713.2L794.2 713.1L792.7 713.1L791.2 713.1L789.7 713.0L788.2 713.0L786.7 713.0L785.2 713.1L783.7 713.1L782.2 713.2L780.7 713.4L779.2 713.6L777.7 713.8L776.2 714.1L774.7 714.4L773.2 714.7L771.7 715.0L770.2 715.3L768.7 715.6L767.2 715.9L765.7 716.3L764.2 716.7L762.7 717.2L761.2 717.7L759.7 718.2L758.2 718.7L756.7 719.2L755.2 719.7L753.7 720.3L752.2 721.0L750.7 721.9L749.2 723.2L747.7 725.1L746.2 727.7L744.7 730.6L743.2 733.4L741.7 736.0L740.2 738.4L738.7 740.7L737.2 742.9L735.7 745.2L734.2 747.6L732.7 750.2L731.2 752.7L729.7 755.1L728.2 757.3L726.7 759.3L725.2 761.1L723.7 762.4L722.2 763.4L720.7 764.1L719.2 764.5L717.7 764.7L716.2 764.5L714.7 763.8L713.2 762.9L711.7 761.8L710.2 760.5L708.7 759.0L707.2 757.3L705.7 755.4L704.2 753.3L702.7 751.1L701.2 748.9L699.7 746.5L698.2 744.0L696.7 741.4L695.2 738.7L693.7 736.0L692.2 733.4L690.7 730.9L689.2 728.6L687.7 726.5L686.2 724.7L684.7 723.2L683.2 722.2L681.7 721.6L680.2 721.4L678.7 721.2L677.2 721.1L675.7 721.1L674.2 721.0L672.7 721.0L671.2 721.0L669.7 720.9L668.2 720.9L666.7 720.9L665.2 720.9L663.7 720.8L662.2 720.8L660.7 720.8L659.2 720.8L657.7 720.8L656.2 720.8L654.7 720.7L653.2 720.7L651.7 720.7L650.2 720.7L648.7 720.7L647.2 720.7L645.7 720.6L644.2 720.6L642.7 720.6L641.2 720.6L639.7 720.6Z" fill="#4169e1" fill-opacity="0.3" stroke="none"/><path d="M639.7,720.2L641.2 719.5L642.7 718.7L644.2 717.9L645.7 717.2L647.2 716.6L648.7 716.2L650.2 716.1L651.7 716.4L653.2 717.1L654.7 717.8L656.2 718.4L657.7 718.8L659.2 719.1L660.7 719.3L662.2 719.5L663.7 719.7L665.2 719.8L666.7 719.9L668.2 720.0L669.7 720.1L671.2 720.2L672.7 720.3L674.2 720.3L675.7 720.4L677.2 720.4L678.7 720.5L680.2 720.5L681.7 720.5L683.2 720.5L684.7 720.5L686.2 720.5L687.7 720.6L689.2 720.6L690.7 720.6L692.2 720.6L693.7 720.6L695.2 720.6L696.7 720.6L698.2 720.6L699.7 720.6L701.2 720.6L702.7 720.6L704.2 720.6L705.7 720.6L707.2 720.6L708.7 720.6L710.2 720.6L711.7 720.6L713.2 720.6L714.7 720.6L716.2 720.6L717.7 720.6L719.2 720.6L720.7 720.6L722.2 720.6L723.7 720.6L725.2 720.5L726.7 720.5L728.2 720.5L729.7 720.4L731.2 720.4L732.7 720.3L734.2 720.2L735.7 720.1L737.2 720.0L738.7 719.7L740.2 719.2L741.7 718.2L743.2 716.7L744.7 714.7L746.2 712.4L747.7 709.4L749.2 705.9L750.7 701.9L752.2 697.8L753.7 693.7L755.2 689.6L756.7 685.5L758.2 681.7L759.7 678.1L761.2 674.7L762.7 671.3L764.2 667.7L765.7 663.8L767.2 660.2L768.7 657.3L770.2 655.1L771.7 653.3L773.2 651.5L774.7 649.7L776.2 648.0L777.7 646.9L779.2 646.2L780.7 645.9L782.2 646.0L783.7 646.5L785.2 647.2L786.7 648.1L788.2 649.2L789.7 650.8L791.2 653.0L792.7 656.1L794.2 660.0L795.7 664.4L797.2 669.2L798.7 674.0L800.2 678.1L801.7 681.5L803.2 684.5L804.7 687.6L806.2 691.5L807.7 696.2L809.2 701.2L810.7 706.2L812.2 710.9L813.7 714.6L815.2 716.8L816.7 717.8L818.2 718.2L819.7 718.4L821.2 718.6L822.7 718.8L824.2 718.9L825.7 719.1L827.2 719.2L828.7 719.2L830.2 719.3L831.7 719.3L833.2 719.4L834.7 719.4L836.2 719.4L837.7 719.5L839.2 719.5L840.7 719.5L842.2 719.4L843.7 719.2L845.2 718.5L846.7 716.3L848.2 711.6L849.7 705.1L851.2 698.1L852.7 691.0L854.2 683.5L855.7 675.2L857.2 665.5L858.7 654.8L860.2 643.3L861.7 631.1L863.2 619.4L864.7 608.9L866.2 599.9L867.7 591.3L869.2 582.2L870.7 572.7L872.2 563.3L873.7 554.5L875.2 546.4L876.7 539.1L878.2 532.4L879.7 526.4L881.2 521.0L882.7 516.2L884.2 512.2L885.7 508.7L887.2 505.7L888.7 503.1L890.2 500.9L891.7 499.4L893.2 498.5L894.7 498.0L896.2 497.7L897.7 497.7L899.2 498.0L900.7 498.9L902.2 500.2L903.7 501.8L905.2 503.6L906.7 505.6L908.2 507.7L909.7 509.8L911.2 511.7L912.7 513.5L914.2 514.9L915.7 516.2L917.2 517.5L918.7 519.1L920.2 521.3L921.7 523.9L923.2 526.8L924.7 530.1L926.2 533.6L927.7 537.5L929.2 541.7L930.7 546.2L932.2 551.2L933.7 556.8L935.2 562.8L936.7 569.1L938.2 575.7L939.7 582.6L941.2 589.7L942.7 597.1L944.2 604.7L945.7 612.5L947.2 620.4L948.7 628.4L950.2 636.5L951.7 644.7L953.2 652.7L954.7 659.7L956.2 665.5L957.7 670.1L959.2 674.1L960.7 677.7L962.2 680.9L963.7 683.9L965.2 686.7L966.7 689.3L968.2 691.7L969.7 694.1L971.2 696.4L972.7 698.7L974.2 700.7L975.7 702.6L977.2 704.2L978.7 705.6L980.2 706.8L981.7 708.0L983.2 709.0L984.7 710.0L986.2 710.9L987.7 711.8L989.2 712.7L990.7 713.5L992.2 714.2L993.7 715.0L995.2 715.6L996.7 716.2L998.2 716.7L999.7 717.0L1001.2 717.4L1002.7 717.7L1004.2 718.0L1005.7 718.2L1007.2 718.5L1008.7 718.7L1010.2 718.9L1011.7 719.1L1013.2 719.3L1014.7 719.4L1016.2 719.6L1017.7 719.7L1019.2 719.8L1020.7 719.8L1022.2 719.9L1023.7 719.9L1025.2 720.0L1026.7 720.0L1028.2 720.1L1029.7 720.1L1031.2 720.2L1032.7 720.2L1034.2 720.2L1035.7 720.3L1037.2 720.3L1038.7 720.3L1040.2 720.4L1041.7 720.4L1043.2 720.4L1044.7 720.4L1046.2 720.4L1047.7 720.5L1049.2 720.5L1050.7 720.5L1052.2 720.5L1053.7 720.5L1055.0 720.5" fill="none" stroke="#4169e1" stroke-opacity="0.35" stroke-width="1.3"/><path d="M639.7,720.6L641.2 720.6L642.7 720.6L644.2 720.6L645.7 720.6L647.2 720.7L648.7 720.7L650.2 720.7L651.7 720.7L653.2 720.7L654.7 720.7L656.2 720.8L657.7 720.8L659.2 720.8L660.7 720.8L662.2 720.8L663.7 720.8L665.2 720.9L666.7 720.9L668.2 720.9L669.7 720.9L671.2 721.0L672.7 721.0L674.2 721.0L675.7 721.1L677.2 721.1L678.7 721.2L680.2 721.4L681.7 721.6L683.2 722.2L684.7 723.2L686.2 724.7L687.7 726.5L689.2 728.6L690.7 730.9L692.2 733.4L693.7 736.0L695.2 738.7L696.7 741.4L698.2 744.0L699.7 746.5L701.2 748.9L702.7 751.1L704.2 753.3L705.7 755.4L707.2 757.3L708.7 759.0L710.2 760.5L711.7 761.8L713.2 762.9L714.7 763.8L716.2 764.5L717.7 764.7L719.2 764.5L720.7 764.1L722.2 763.4L723.7 762.4L725.2 761.1L726.7 759.3L728.2 757.3L729.7 755.1L731.2 752.7L732.7 750.2L734.2 747.6L735.7 745.2L737.2 742.9L738.7 740.7L740.2 738.4L741.7 736.0L743.2 733.4L744.7 730.6L746.2 727.7L747.7 725.1L749.2 723.2L750.7 721.9L752.2 721.0L753.7 720.3L755.2 719.7L756.7 719.2L758.2 718.7L759.7 718.2L761.2 717.7L762.7 717.2L764.2 716.7L765.7 716.3L767.2 715.9L768.7 715.6L770.2 715.3L771.7 715.0L773.2 714.7L774.7 714.4L776.2 714.1L777.7 713.8L779.2 713.6L780.7 713.4L782.2 713.2L783.7 713.1L785.2 713.1L786.7 713.0L788.2 713.0L789.7 713.0L791.2 713.1L792.7 713.1L794.2 713.1L795.7 713.2L797.2 713.3L798.7 713.3L800.2 713.5L801.7 713.7L803.2 714.1L804.7 714.6L806.2 715.2L807.7 715.9L809.2 716.7L810.7 717.6L812.2 718.8L813.7 720.5L815.2 723.1L816.7 726.6L818.2 730.5L819.7 734.3L821.2 737.9L822.7 741.1L824.2 743.8L825.7 745.9L827.2 747.5L828.7 748.6L830.2 748.9L831.7 748.5L833.2 747.7L834.7 746.7L836.2 745.4L837.7 744.2L839.2 743.0L840.7 741.8L842.2 740.6L843.7 739.4L845.2 737.8L846.7 735.6L848.2 732.7L849.7 729.5L851.2 726.4L852.7 723.6L854.2 721.3L855.7 719.6L857.2 718.4L858.7 717.3L860.2 715.9L861.7 714.1L863.2 712.2L864.7 710.4L866.2 708.8L867.7 707.2L869.2 705.5L870.7 703.2L872.2 700.4L873.7 697.3L875.2 694.3L876.7 691.8L878.2 689.7L879.7 687.8L881.2 686.1L882.7 684.5L884.2 682.8L885.7 681.2L887.2 679.5L888.7 677.9L890.2 676.2L891.7 674.7L893.2 673.3L894.7 672.1L896.2 670.9L897.7 669.8L899.2 668.8L900.7 667.9L902.2 667.1L903.7 666.5L905.2 666.0L906.7 665.7L908.2 665.4L909.7 665.1L911.2 664.9L912.7 664.7L914.2 664.7L915.7 664.8L917.2 665.1L918.7 665.7L920.2 666.4L921.7 667.3L923.2 668.1L924.7 668.9L926.2 669.8L927.7 670.8L929.2 671.9L930.7 673.1L932.2 674.4L933.7 676.0L935.2 677.9L936.7 679.9L938.2 681.9L939.7 683.8L941.2 685.7L942.7 687.6L944.2 689.4L945.7 691.3L947.2 693.2L948.7 695.1L950.2 697.1L951.7 699.1L953.2 701.0L954.7 702.6L956.2 704.1L957.7 705.4L959.2 706.7L960.7 707.9L962.2 709.0L963.7 710.0L965.2 711.0L966.7 711.8L968.2 712.6L969.7 713.3L971.2 713.9L972.7 714.5L974.2 715.1L975.7 715.6L977.2 716.1L978.7 716.5L980.2 716.9L981.7 717.3L983.2 717.6L984.7 717.9L986.2 718.2L987.7 718.5L989.2 718.7L990.7 718.9L992.2 719.1L993.7 719.3L995.2 719.5L996.7 719.6L998.2 719.7L999.7 719.8L1001.2 719.8L1002.7 719.9L1004.2 719.9L1005.7 719.9L1007.2 720.0L1008.7 720.0L1010.2 720.0L1011.7 720.1L1013.2 720.1L1014.7 720.1L1016.2 720.2L1017.7 720.2L1019.2 720.2L1020.7 720.2L1022.2 720.3L1023.7 720.3L1025.2 720.3L1026.7 720.3L1028.2 720.3L1029.7 720.4L1031.2 720.4L1032.7 720.4L1034.2 720.4L1035.7 720.4L1037.2 720.4L1038.7 720.4L1040.2 720.5L1041.7 720.5L1043.2 720.5L1044.7 720.5L1046.2 720.5L1047.7 720.5L1049.2 720.5L1050.7 720.5L1052.2 720.5L1053.7 720.5L1055.0 720.5" fill="none" stroke="#4169e1" stroke-opacity="0.35" stroke-width="1.3"/>
<path d="M639.7,720.4L641.2 720.1L642.7 719.6L644.2 719.1L645.7 718.7L647.2 718.2L648.7 717.8L650.2 717.5L651.7 717.2L653.2 716.9L654.7 716.6L656.2 716.4L657.7 716.1L659.2 715.8L660.7 715.5L662.2 715.2L663.7 714.7L665.2 714.1L666.7 713.4L668.2 712.5L669.7 711.7L671.2 710.9L672.7 710.2L674.2 709.5L675.7 708.8L677.2 708.1L678.7 707.5L680.2 707.1L681.7 706.8L683.2 706.8L684.7 707.0L686.2 707.3L687.7 707.8L689.2 708.3L690.7 708.9L692.2 709.6L693.7 710.5L695.2 711.5L696.7 712.4L698.2 713.3L699.7 714.2L701.2 715.1L702.7 715.9L704.2 716.5L705.7 717.2L707.2 717.7L708.7 718.2L710.2 718.5L711.7 718.8L713.2 719.0L714.7 719.2L716.2 719.4L717.7 719.5L719.2 719.7L720.7 719.8L722.2 719.9L723.7 719.9L725.2 720.0L726.7 720.1L728.2 720.1L729.7 720.1L731.2 720.2L732.7 720.2L734.2 720.2L735.7 720.3L737.2 720.3L738.7 720.3L740.2 720.3L741.7 720.2L743.2 720.1L744.7 719.9L746.2 719.7L747.7 719.5L749.2 719.1L750.7 718.5L752.2 717.9L753.7 717.2L755.2 716.3L756.7 714.5L758.2 711.5L759.7 707.3L761.2 702.6L762.7 698.1L764.2 693.6L765.7 689.3L767.2 685.0L768.7 680.9L770.2 676.9L771.7 673.2L773.2 669.7L774.7 666.6L776.2 663.7L777.7 661.2L779.2 659.0L780.7 657.2L782.2 655.7L783.7 654.5L785.2 653.5L786.7 652.8L788.2 652.3L789.7 652.1L791.2 652.2L792.7 652.9L794.2 653.9L795.7 655.3L797.2 657.0L798.7 659.2L800.2 661.8L801.7 665.0L803.2 668.6L804.7 672.5L806.2 676.6L807.7 680.9L809.2 685.3L810.7 689.9L812.2 694.5L813.7 699.1L815.2 703.6L816.7 707.7L818.2 711.4L819.7 714.6L821.2 717.3L822.7 719.6L824.2 721.6L825.7 723.3L827.2 724.8L828.7 726.0L830.2 727.0L831.7 727.9L833.2 728.6L834.7 729.0L836.2 729.3L837.7 729.5L839.2 729.7L840.7 729.8L842.2 729.9L843.7 730.0L845.2 730.1L846.7 730.2L848.2 730.3L849.7 730.4L851.2 730.5L852.7 730.5L854.2 730.6L855.7 730.7L857.2 730.8L858.7 730.3L860.2 727.8L861.7 721.2L863.2 711.9L864.7 702.8L866.2 694.7L867.7 687.1L869.2 679.9L870.7 672.9L872.2 666.2L873.7 660.1L875.2 654.9L876.7 650.6L878.2 646.8L879.7 643.1L881.2 639.1L882.7 634.8L884.2 630.4L885.7 626.2L887.2 622.1L888.7 618.4L890.2 614.9L891.7 611.9L893.2 609.2L894.7 606.9L896.2 605.0L897.7 603.5L899.2 602.7L900.7 602.5L902.2 602.4L903.7 602.5L905.2 602.8L906.7 603.6L908.2 604.5L909.7 604.5L911.2 602.8L912.7 600.3L914.2 598.2L915.7 596.6L917.2 595.3L918.7 594.3L920.2 593.7L921.7 593.7L923.2 594.5L924.7 596.2L926.2 598.5L927.7 601.5L929.2 605.0L930.7 608.6L932.2 612.4L933.7 616.3L935.2 620.5L936.7 624.9L938.2 629.4L939.7 634.0L941.2 638.7L942.7 643.5L944.2 648.5L945.7 653.5L947.2 658.5L948.7 663.0L950.2 667.1L951.7 670.8L953.2 674.2L954.7 677.2L956.2 680.0L957.7 682.6L959.2 685.0L960.7 687.4L962.2 689.6L963.7 691.8L965.2 694.0L966.7 696.0L968.2 698.0L969.7 699.9L971.2 701.7L972.7 703.5L974.2 705.1L975.7 706.6L977.2 707.8L978.7 708.8L980.2 709.8L981.7 710.6L983.2 711.4L984.7 712.1L986.2 712.8L987.7 713.4L989.2 714.0L990.7 714.5L992.2 715.0L993.7 715.5L995.2 716.0L996.7 716.4L998.2 716.7L999.7 717.0L1001.2 717.3L1002.7 717.5L1004.2 717.8L1005.7 718.0L1007.2 718.2L1008.7 718.4L1010.2 718.6L1011.7 718.8L1013.2 719.0L1014.7 719.1L1016.2 719.2L1017.7 719.4L1019.2 719.5L1020.7 719.5L1022.2 719.6L1023.7 719.7L1025.2 719.7L1026.7 719.8L1028.2 719.9L1029.7 719.9L1031.2 720.0L1032.7 720.1L1034.2 720.1L1035.7 720.2L1037.2 720.2L1038.7 720.2L1040.2 720.3L1041.7 720.3L1043.2 720.4L1044.7 720.4L1046.2 720.4L1047.7 720.4L1049.2 720.5L1050.7 720.5L1052.2 720.5L1053.7 720.5L1055.0 720.5L1055.0,720.6L1053.7 720.6L1052.2 720.6L1050.7 720.6L1049.2 720.6L1047.7 720.6L1046.2 720.6L1044.7 720.6L1043.2 720.6L1041.7 720.6L1040.2 720.6L1038.7 720.6L1037.2 720.6L1035.7 720.6L1034.2 720.5L1032.7 720.5L1031.2 720.5L1029.7 720.5L1028.2 720.5L1026.7 720.5L1025.2 720.5L1023.7 720.5L1022.2 720.5L1020.7 720.4L1019.2 720.4L1017.7 720.4L1016.2 720.4L1014.7 720.4L1013.2 720.4L1011.7 720.4L1010.2 720.3L1008.7 720.3L1007.2 720.3L1005.7 720.3L1004.2 720.3L1002.7 720.2L1001.2 720.2L999.7 720.2L998.2 720.2L996.7 720.1L995.2 720.1L993.7 720.0L992.2 719.9L990.7 719.8L989.2 719.8L987.7 719.7L986.2 719.5L984.7 719.4L983.2 719.3L981.7 719.2L980.2 719.0L978.7 718.9L977.2 718.7L975.7 718.6L974.2 718.4L972.7 718.1L971.2 717.9L969.7 717.6L968.2 717.2L966.7 716.9L965.2 716.5L963.7 716.2L962.2 715.8L960.7 715.4L959.2 714.9L957.7 714.4L956.2 713.8L954.7 713.2L953.2 712.5L951.7 711.7L950.2 710.7L948.7 709.7L947.2 708.6L945.7 707.5L944.2 706.4L942.7 705.3L941.2 704.2L939.7 703.1L938.2 702.0L936.7 700.9L935.2 699.8L933.7 698.8L932.2 697.8L930.7 696.8L929.2 695.8L927.7 694.9L926.2 694.0L924.7 693.1L923.2 692.3L921.7 691.6L920.2 691.0L918.7 690.8L917.2 690.8L915.7 690.8L914.2 691.0L912.7 691.1L911.2 691.3L909.7 691.6L908.2 692.0L906.7 692.5L905.2 693.1L903.7 693.8L902.2 694.5L900.7 695.2L899.2 696.0L897.7 696.9L896.2 697.9L894.7 699.0L893.2 700.1L891.7 701.4L890.2 702.8L888.7 704.4L887.2 706.1L885.7 707.7L884.2 709.1L882.7 710.6L881.2 712.3L879.7 715.0L878.2 719.0L876.7 723.8L875.2 728.7L873.7 733.4L872.2 738.2L870.7 742.8L869.2 747.3L867.7 751.7L866.2 755.9L864.7 760.0L863.2 763.9L861.7 767.6L860.2 771.0L858.7 773.9L857.2 776.3L855.7 778.1L854.2 779.5L852.7 780.2L851.2 780.1L849.7 779.4L848.2 778.4L846.7 777.4L845.2 776.5L843.7 775.6L842.2 774.7L840.7 774.0L839.2 773.1L837.7 772.1L836.2 770.6L834.7 768.8L833.2 766.4L831.7 763.7L830.2 760.8L828.7 757.6L827.2 754.2L825.7 750.6L824.2 747.0L822.7 743.3L821.2 739.6L819.7 736.1L818.2 732.6L816.7 729.3L815.2 726.2L813.7 723.4L812.2 721.0L810.7 719.0L809.2 717.6L807.7 716.8L806.2 716.2L804.7 715.8L803.2 715.5L801.7 715.3L800.2 715.2L798.7 715.3L797.2 715.3L795.7 715.5L794.2 715.6L792.7 715.7L791.2 715.9L789.7 716.0L788.2 716.1L786.7 716.2L785.2 716.3L783.7 716.4L782.2 716.5L780.7 716.5L779.2 716.6L777.7 716.7L776.2 716.8L774.7 716.9L773.2 717.0L771.7 717.1L770.2 717.3L768.7 717.4L767.2 717.6L765.7 717.8L764.2 718.0L762.7 718.3L761.2 718.6L759.7 719.1L758.2 719.9L756.7 721.3L755.2 723.4L753.7 725.9L752.2 728.5L750.7 731.3L749.2 733.8L747.7 735.7L746.2 737.3L744.7 738.6L743.2 739.7L741.7 740.7L740.2 741.5L738.7 742.3L737.2 742.9L735.7 743.1L734.2 743.1L732.7 742.9L731.2 742.5L729.7 742.1L728.2 741.5L726.7 740.9L725.2 740.1L723.7 739.1L722.2 738.1L720.7 737.0L719.2 735.8L717.7 734.6L716.2 733.2L714.7 731.9L713.2 730.5L711.7 729.3L710.2 728.2L708.7 727.2L707.2 726.3L705.7 725.4L704.2 724.7L702.7 724.0L701.2 723.4L699.7 722.8L698.2 722.3L696.7 721.9L695.2 721.6L693.7 721.3L692.2 721.1L690.7 720.9L689.2 720.7L687.7 720.6L686.2 720.5L684.7 720.4L683.2 720.3L681.7 720.3L680.2 720.3L678.7 720.3L677.2 720.3L675.7 720.3L674.2 720.3L672.7 720.4L671.2 720.4L669.7 720.4L668.2 720.4L666.7 720.4L665.2 720.5L663.7 720.5L662.2 720.5L660.7 720.5L659.2 720.5L657.7 720.5L656.2 720.5L654.7 720.5L653.2 720.5L651.7 720.5L650.2 720.6L648.7 720.6L647.2 720.6L645.7 720.6L644.2 720.6L642.7 720.6L641.2 720.6L639.7 720.6Z" fill="#dc143c" fill-opacity="0.3" stroke="none"/><path d="M639.7,720.4L641.2 720.1L642.7 719.6L644.2 719.1L645.7 718.7L647.2 718.2L648.7 717.8L650.2 717.5L651.7 717.2L653.2 716.9L654.7 716.6L656.2 716.4L657.7 716.1L659.2 715.8L660.7 715.5L662.2 715.2L663.7 714.7L665.2 714.1L666.7 713.4L668.2 712.5L669.7 711.7L671.2 710.9L672.7 710.2L674.2 709.5L675.7 708.8L677.2 708.1L678.7 707.5L680.2 707.1L681.7 706.8L683.2 706.8L684.7 707.0L686.2 707.3L687.7 707.8L689.2 708.3L690.7 708.9L692.2 709.6L693.7 710.5L695.2 711.5L696.7 712.4L698.2 713.3L699.7 714.2L701.2 715.1L702.7 715.9L704.2 716.5L705.7 717.2L707.2 717.7L708.7 718.2L710.2 718.5L711.7 718.8L713.2 719.0L714.7 719.2L716.2 719.4L717.7 719.5L719.2 719.7L720.7 719.8L722.2 719.9L723.7 719.9L725.2 720.0L726.7 720.1L728.2 720.1L729.7 720.1L731.2 720.2L732.7 720.2L734.2 720.2L735.7 720.3L737.2 720.3L738.7 720.3L740.2 720.3L741.7 720.2L743.2 720.1L744.7 719.9L746.2 719.7L747.7 719.5L749.2 719.1L750.7 718.5L752.2 717.9L753.7 717.2L755.2 716.3L756.7 714.5L758.2 711.5L759.7 707.3L761.2 702.6L762.7 698.1L764.2 693.6L765.7 689.3L767.2 685.0L768.7 680.9L770.2 676.9L771.7 673.2L773.2 669.7L774.7 666.6L776.2 663.7L777.7 661.2L779.2 659.0L780.7 657.2L782.2 655.7L783.7 654.5L785.2 653.5L786.7 652.8L788.2 652.3L789.7 652.1L791.2 652.2L792.7 652.9L794.2 653.9L795.7 655.3L797.2 657.0L798.7 659.2L800.2 661.8L801.7 665.0L803.2 668.6L804.7 672.5L806.2 676.6L807.7 680.9L809.2 685.3L810.7 689.9L812.2 694.5L813.7 699.1L815.2 703.6L816.7 707.7L818.2 711.4L819.7 714.6L821.2 717.3L822.7 719.6L824.2 721.6L825.7 723.3L827.2 724.8L828.7 726.0L830.2 727.0L831.7 727.9L833.2 728.6L834.7 729.0L836.2 729.3L837.7 729.5L839.2 729.7L840.7 729.8L842.2 729.9L843.7 730.0L845.2 730.1L846.7 730.2L848.2 730.3L849.7 730.4L851.2 730.5L852.7 730.5L854.2 730.6L855.7 730.7L857.2 730.8L858.7 730.3L860.2 727.8L861.7 721.2L863.2 711.9L864.7 702.8L866.2 694.7L867.7 687.1L869.2 679.9L870.7 672.9L872.2 666.2L873.7 660.1L875.2 654.9L876.7 650.6L878.2 646.8L879.7 643.1L881.2 639.1L882.7 634.8L884.2 630.4L885.7 626.2L887.2 622.1L888.7 618.4L890.2 614.9L891.7 611.9L893.2 609.2L894.7 606.9L896.2 605.0L897.7 603.5L899.2 602.7L900.7 602.5L902.2 602.4L903.7 602.5L905.2 602.8L906.7 603.6L908.2 604.5L909.7 604.5L911.2 602.8L912.7 600.3L914.2 598.2L915.7 596.6L917.2 595.3L918.7 594.3L920.2 593.7L921.7 593.7L923.2 594.5L924.7 596.2L926.2 598.5L927.7 601.5L929.2 605.0L930.7 608.6L932.2 612.4L933.7 616.3L935.2 620.5L936.7 624.9L938.2 629.4L939.7 634.0L941.2 638.7L942.7 643.5L944.2 648.5L945.7 653.5L947.2 658.5L948.7 663.0L950.2 667.1L951.7 670.8L953.2 674.2L954.7 677.2L956.2 680.0L957.7 682.6L959.2 685.0L960.7 687.4L962.2 689.6L963.7 691.8L965.2 694.0L966.7 696.0L968.2 698.0L969.7 699.9L971.2 701.7L972.7 703.5L974.2 705.1L975.7 706.6L977.2 707.8L978.7 708.8L980.2 709.8L981.7 710.6L983.2 711.4L984.7 712.1L986.2 712.8L987.7 713.4L989.2 714.0L990.7 714.5L992.2 715.0L993.7 715.5L995.2 716.0L996.7 716.4L998.2 716.7L999.7 717.0L1001.2 717.3L1002.7 717.5L1004.2 717.8L1005.7 718.0L1007.2 718.2L1008.7 718.4L1010.2 718.6L1011.7 718.8L1013.2 719.0L1014.7 719.1L1016.2 719.2L1017.7 719.4L1019.2 719.5L1020.7 719.5L1022.2 719.6L1023.7 719.7L1025.2 719.7L1026.7 719.8L1028.2 719.9L1029.7 719.9L1031.2 720.0L1032.7 720.1L1034.2 720.1L1035.7 720.2L1037.2 720.2L1038.7 720.2L1040.2 720.3L1041.7 720.3L1043.2 720.4L1044.7 720.4L1046.2 720.4L1047.7 720.4L1049.2 720.5L1050.7 720.5L1052.2 720.5L1053.7 720.5L1055.0 720.5" fill="none" stroke="#dc143c" stroke-opacity="0.35" stroke-width="1.3"/><path d="M639.7,720.6L641.2 720.6L642.7 720.6L644.2 720.6L645.7 720.6L647.2 720.6L648.7 720.6L650.2 720.6L651.7 720.5L653.2 720.5L654.7 720.5L656.2 720.5L657.7 720.5L659.2 720.5L660.7 720.5L662.2 720.5L663.7 720.5L665.2 720.5L666.7 720.4L668.2 720.4L669.7 720.4L671.2 720.4L672.7 720.4L674.2 720.3L675.7 720.3L677.2 720.3L678.7 720.3L680.2 720.3L681.7 720.3L683.2 720.3L684.7 720.4L686.2 720.5L687.7 720.6L689.2 720.7L690.7 720.9L692.2 721.1L693.7 721.3L695.2 721.6L696.7 721.9L698.2 722.3L699.7 722.8L701.2 723.4L702.7 724.0L704.2 724.7L705.7 725.4L707.2 726.3L708.7 727.2L710.2 728.2L711.7 729.3L713.2 730.5L714.7 731.9L716.2 733.2L717.7 734.6L719.2 735.8L720.7 737.0L722.2 738.1L723.7 739.1L725.2 740.1L726.7 740.9L728.2 741.5L729.7 742.1L731.2 742.5L732.7 742.9L734.2 743.1L735.7 743.1L737.2 742.9L738.7 742.3L740.2 741.5L741.7 740.7L743.2 739.7L744.7 738.6L746.2 737.3L747.7 735.7L749.2 733.8L750.7 731.3L752.2 728.5L753.7 725.9L755.2 723.4L756.7 721.3L758.2 719.9L759.7 719.1L761.2 718.6L762.7 718.3L764.2 718.0L765.7 717.8L767.2 717.6L768.7 717.4L770.2 717.3L771.7 717.1L773.2 717.0L774.7 716.9L776.2 716.8L777.7 716.7L779.2 716.6L780.7 716.5L782.2 716.5L783.7 716.4L785.2 716.3L786.7 716.2L788.2 716.1L789.7 716.0L791.2 715.9L792.7 715.7L794.2 715.6L795.7 715.5L797.2 715.3L798.7 715.3L800.2 715.2L801.7 715.3L803.2 715.5L804.7 715.8L806.2 716.2L807.7 716.8L809.2 717.6L810.7 719.0L812.2 721.0L813.7 723.4L815.2 726.2L816.7 729.3L818.2 732.6L819.7 736.1L821.2 739.6L822.7 743.3L824.2 747.0L825.7 750.6L827.2 754.2L828.7 757.6L830.2 760.8L831.7 763.7L833.2 766.4L834.7 768.8L836.2 770.6L837.7 772.1L839.2 773.1L840.7 774.0L842.2 774.7L843.7 775.6L845.2 776.5L846.7 777.4L848.2 778.4L849.7 779.4L851.2 780.1L852.7 780.2L854.2 779.5L855.7 778.1L857.2 776.3L858.7 773.9L860.2 771.0L861.7 767.6L863.2 763.9L864.7 760.0L866.2 755.9L867.7 751.7L869.2 747.3L870.7 742.8L872.2 738.2L873.7 733.4L875.2 728.7L876.7 723.8L878.2 719.0L879.7 715.0L881.2 712.3L882.7 710.6L884.2 709.1L885.7 707.7L887.2 706.1L888.7 704.4L890.2 702.8L891.7 701.4L893.2 700.1L894.7 699.0L896.2 697.9L897.7 696.9L899.2 696.0L900.7 695.2L902.2 694.5L903.7 693.8L905.2 693.1L906.7 692.5L908.2 692.0L909.7 691.6L911.2 691.3L912.7 691.1L914.2 691.0L915.7 690.8L917.2 690.8L918.7 690.8L920.2 691.0L921.7 691.6L923.2 692.3L924.7 693.1L926.2 694.0L927.7 694.9L929.2 695.8L930.7 696.8L932.2 697.8L933.7 698.8L935.2 699.8L936.7 700.9L938.2 702.0L939.7 703.1L941.2 704.2L942.7 705.3L944.2 706.4L945.7 707.5L947.2 708.6L948.7 709.7L950.2 710.7L951.7 711.7L953.2 712.5L954.7 713.2L956.2 713.8L957.7 714.4L959.2 714.9L960.7 715.4L962.2 715.8L963.7 716.2L965.2 716.5L966.7 716.9L968.2 717.2L969.7 717.6L971.2 717.9L972.7 718.1L974.2 718.4L975.7 718.6L977.2 718.7L978.7 718.9L980.2 719.0L981.7 719.2L983.2 719.3L984.7 719.4L986.2 719.5L987.7 719.7L989.2 719.8L990.7 719.8L992.2 719.9L993.7 720.0L995.2 720.1L996.7 720.1L998.2 720.2L999.7 720.2L1001.2 720.2L1002.7 720.2L1004.2 720.3L1005.7 720.3L1007.2 720.3L1008.7 720.3L1010.2 720.3L1011.7 720.4L1013.2 720.4L1014.7 720.4L1016.2 720.4L1017.7 720.4L1019.2 720.4L1020.7 720.4L1022.2 720.5L1023.7 720.5L1025.2 720.5L1026.7 720.5L1028.2 720.5L1029.7 720.5L1031.2 720.5L1032.7 720.5L1034.2 720.5L1035.7 720.6L1037.2 720.6L1038.7 720.6L1040.2 720.6L1041.7 720.6L1043.2 720.6L1044.7 720.6L1046.2 720.6L1047.7 720.6L1049.2 720.6L1050.7 720.6L1052.2 720.6L1053.7 720.6L1055.0 720.6" fill="none" stroke="#dc143c" stroke-opacity="0.35" stroke-width="1.3"/>
<path d="M639.7,720.5L641.2 720.4L642.7 720.3L644.2 720.1L645.7 720.0L647.2 719.9L648.7 719.8L650.2 719.7L651.7 719.7L653.2 719.6L654.7 719.6L656.2 719.6L657.7 719.7L659.2 719.7L660.7 719.8L662.2 719.8L663.7 719.9L665.2 720.0L666.7 720.1L668.2 720.2L669.7 720.3L671.2 720.5L672.7 720.6L674.2 720.8L675.7 721.1L677.2 721.4L678.7 721.7L680.2 722.1L681.7 722.4L683.2 722.8L684.7 723.2L686.2 723.6L687.7 724.1L689.2 724.5L690.7 724.9L692.2 725.4L693.7 725.9L695.2 726.3L696.7 726.8L698.2 727.3L699.7 727.7L701.2 728.1L702.7 728.4L704.2 728.8L705.7 729.1L707.2 729.4L708.7 729.7L710.2 729.9L711.7 730.1L713.2 730.3L714.7 730.5L716.2 730.6L717.7 730.8L719.2 730.9L720.7 730.9L722.2 730.9L723.7 730.8L725.2 730.6L726.7 730.3L728.2 729.9L729.7 729.6L731.2 729.2L732.7 728.7L734.2 728.2L735.7 727.7L737.2 727.1L738.7 726.5L740.2 725.8L741.7 725.0L743.2 724.2L744.7 723.3L746.2 722.3L747.7 721.3L749.2 720.2L750.7 719.1L752.2 717.9L753.7 716.6L755.2 715.2L756.7 713.8L758.2 712.3L759.7 710.8L761.2 709.2L762.7 707.7L764.2 706.1L765.7 704.6L767.2 703.1L768.7 701.7L770.2 700.3L771.7 699.0L773.2 697.8L774.7 696.6L776.2 695.6L777.7 694.6L779.2 693.7L780.7 692.9L782.2 692.2L783.7 691.6L785.2 691.2L786.7 691.0L788.2 691.0L789.7 691.2L791.2 691.6L792.7 692.0L794.2 692.6L795.7 693.3L797.2 694.1L798.7 695.2L800.2 696.5L801.7 698.0L803.2 699.7L804.7 701.5L806.2 703.3L807.7 705.0L809.2 706.8L810.7 708.6L812.2 710.5L813.7 712.5L815.2 714.6L816.7 716.6L818.2 718.6L819.7 720.5L821.2 722.4L822.7 724.3L824.2 725.9L825.7 727.3L827.2 728.5L828.7 729.4L830.2 730.2L831.7 730.8L833.2 731.2L834.7 731.4L836.2 731.5L837.7 731.2L839.2 730.5L840.7 729.6L842.2 728.5L843.7 727.2L845.2 725.6L846.7 723.4L848.2 720.8L849.7 717.8L851.2 714.4L852.7 710.7L854.2 706.8L855.7 702.7L857.2 698.6L858.7 694.4L860.2 690.3L861.7 686.2L863.2 682.1L864.7 678.0L866.2 673.8L867.7 669.6L869.2 665.1L870.7 660.3L872.2 655.1L873.7 649.5L875.2 643.8L876.7 638.0L878.2 632.1L879.7 626.1L881.2 620.1L882.7 614.4L884.2 609.1L885.7 604.2L887.2 599.7L888.7 595.7L890.2 592.0L891.7 588.7L893.2 585.8L894.7 583.2L896.2 580.8L897.7 578.8L899.2 576.9L900.7 575.5L902.2 574.3L903.7 573.6L905.2 573.1L906.7 573.1L908.2 573.3L909.7 573.8L911.2 574.7L912.7 575.9L914.2 577.5L915.7 579.5L917.2 581.8L918.7 584.5L920.2 587.7L921.7 591.2L923.2 594.9L924.7 598.8L926.2 602.9L927.7 607.2L929.2 611.6L930.7 616.1L932.2 620.6L933.7 625.1L935.2 629.6L936.7 634.2L938.2 638.8L939.7 643.3L941.2 647.9L942.7 652.4L944.2 656.8L945.7 661.4L947.2 666.0L948.7 670.7L950.2 675.3L951.7 679.6L953.2 683.5L954.7 687.0L956.2 690.2L957.7 693.2L959.2 695.9L960.7 698.3L962.2 700.4L963.7 702.1L965.2 703.7L966.7 705.1L968.2 706.3L969.7 707.4L971.2 708.4L972.7 709.3L974.2 710.2L975.7 711.0L977.2 711.7L978.7 712.4L980.2 713.1L981.7 713.7L983.2 714.3L984.7 714.9L986.2 715.4L987.7 715.9L989.2 716.3L990.7 716.7L992.2 717.1L993.7 717.5L995.2 717.8L996.7 718.1L998.2 718.4L999.7 718.6L1001.2 718.7L1002.7 718.9L1004.2 719.0L1005.7 719.2L1007.2 719.3L1008.7 719.4L1010.2 719.5L1011.7 719.6L1013.2 719.7L1014.7 719.8L1016.2 719.9L1017.7 719.9L1019.2 720.0L1020.7 720.0L1022.2 720.1L1023.7 720.1L1025.2 720.1L1026.7 720.2L1028.2 720.2L1029.7 720.3L1031.2 720.3L1032.7 720.3L1034.2 720.4L1035.7 720.4L1037.2 720.4L1038.7 720.4L1040.2 720.5L1041.7 720.5L1043.2 720.5L1044.7 720.5L1046.2 720.6L1047.7 720.6L1049.2 720.6L1050.7 720.6L1052.2 720.6L1053.7 720.6L1055.0 720.6" fill="none" stroke="#4169e1" stroke-width="3.30" stroke-linejoin="round" stroke-linecap="butt"/>
<path d="M639.7,720.5L641.2 720.4L642.7 720.3L644.2 720.1L645.7 720.0L647.2 719.8L648.7 719.7L650.2 719.5L651.7 719.4L653.2 719.3L654.7 719.1L656.2 719.0L657.7 718.9L659.2 718.8L660.7 718.7L662.2 718.5L663.7 718.4L665.2 718.3L666.7 718.2L668.2 718.1L669.7 718.0L671.2 717.8L672.7 717.7L674.2 717.6L675.7 717.4L677.2 717.3L678.7 717.2L680.2 717.1L681.7 717.0L683.2 716.9L684.7 716.9L686.2 716.8L687.7 716.8L689.2 716.9L690.7 717.0L692.2 717.1L693.7 717.3L695.2 717.5L696.7 717.8L698.2 718.1L699.7 718.4L701.2 718.7L702.7 719.1L704.2 719.5L705.7 720.0L707.2 720.4L708.7 720.9L710.2 721.3L711.7 721.8L713.2 722.2L714.7 722.6L716.2 723.0L717.7 723.4L719.2 723.8L720.7 724.2L722.2 724.5L723.7 724.8L725.2 725.1L726.7 725.4L728.2 725.7L729.7 725.9L731.2 726.2L732.7 726.3L734.2 726.5L735.7 726.6L737.2 726.7L738.7 726.7L740.2 726.7L741.7 726.6L743.2 726.3L744.7 725.9L746.2 725.3L747.7 724.6L749.2 723.9L750.7 723.1L752.2 722.3L753.7 721.3L755.2 720.3L756.7 719.1L758.2 717.9L759.7 716.4L761.2 714.9L762.7 713.4L764.2 711.8L765.7 710.3L767.2 708.8L768.7 707.3L770.2 705.8L771.7 704.3L773.2 702.9L774.7 701.5L776.2 700.2L777.7 698.9L779.2 697.7L780.7 696.5L782.2 695.4L783.7 694.5L785.2 693.7L786.7 693.1L788.2 692.7L789.7 692.4L791.2 692.3L792.7 692.3L794.2 692.4L795.7 692.7L797.2 693.2L798.7 693.8L800.2 694.7L801.7 695.9L803.2 697.4L804.7 699.2L806.2 701.0L807.7 702.8L809.2 704.7L810.7 706.7L812.2 708.6L813.7 710.6L815.2 712.6L816.7 714.5L818.2 716.6L819.7 718.7L821.2 721.0L822.7 723.6L824.2 726.5L825.7 729.5L827.2 732.6L828.7 735.7L830.2 738.5L831.7 741.0L833.2 743.3L834.7 745.4L836.2 747.3L837.7 749.0L839.2 750.6L840.7 751.8L842.2 752.9L843.7 753.7L845.2 754.4L846.7 754.8L848.2 755.1L849.7 755.0L851.2 754.5L852.7 753.8L854.2 752.9L855.7 751.7L857.2 750.2L858.7 748.2L860.2 745.8L861.7 742.9L863.2 739.8L864.7 736.5L866.2 733.0L867.7 729.3L869.2 725.4L870.7 721.3L872.2 717.0L873.7 712.8L875.2 708.7L876.7 704.7L878.2 700.8L879.7 697.1L881.2 693.6L882.7 690.3L884.2 687.2L885.7 684.0L887.2 680.6L888.7 677.1L890.2 673.4L891.7 669.6L893.2 665.9L894.7 662.4L896.2 659.1L897.7 656.2L899.2 653.5L900.7 651.0L902.2 648.7L903.7 646.6L905.2 644.7L906.7 643.2L908.2 642.1L909.7 641.2L911.2 640.6L912.7 640.2L914.2 640.0L915.7 640.0L917.2 640.3L918.7 640.8L920.2 641.6L921.7 642.7L923.2 644.0L924.7 645.5L926.2 647.4L927.7 649.6L929.2 652.0L930.7 654.7L932.2 657.6L933.7 660.6L935.2 663.5L936.7 666.5L938.2 669.4L939.7 672.4L941.2 675.3L942.7 678.2L944.2 681.0L945.7 683.7L947.2 686.4L948.7 689.0L950.2 691.5L951.7 693.9L953.2 696.2L954.7 698.2L956.2 700.1L957.7 701.9L959.2 703.5L960.7 705.0L962.2 706.4L963.7 707.7L965.2 708.8L966.7 709.9L968.2 710.9L969.7 711.8L971.2 712.6L972.7 713.3L974.2 714.0L975.7 714.6L977.2 715.1L978.7 715.6L980.2 716.1L981.7 716.5L983.2 716.9L984.7 717.3L986.2 717.6L987.7 717.9L989.2 718.2L990.7 718.4L992.2 718.5L993.7 718.7L995.2 718.8L996.7 718.9L998.2 719.0L999.7 719.1L1001.2 719.2L1002.7 719.3L1004.2 719.4L1005.7 719.5L1007.2 719.5L1008.7 719.6L1010.2 719.6L1011.7 719.7L1013.2 719.7L1014.7 719.8L1016.2 719.8L1017.7 719.9L1019.2 719.9L1020.7 720.0L1022.2 720.0L1023.7 720.1L1025.2 720.1L1026.7 720.2L1028.2 720.2L1029.7 720.3L1031.2 720.3L1032.7 720.3L1034.2 720.4L1035.7 720.4L1037.2 720.4L1038.7 720.4L1040.2 720.5L1041.7 720.5L1043.2 720.5L1044.7 720.5L1046.2 720.6L1047.7 720.6L1049.2 720.6L1050.7 720.6L1052.2 720.6L1053.7 720.6L1055.0 720.6" fill="none" stroke="#dc143c" stroke-width="3.30" stroke-linejoin="round" stroke-linecap="butt"/>
<g stroke="#000" stroke-width="2.2" fill="none" stroke-linecap="butt"><path d="M97.60,28.00V358.20H513.00"/><path d="M97.60,358.20v7.5"/><path d="M270.40,358.20v7.5"/><path d="M443.20,358.20v7.5"/><path d="M97.60,358.20h-7.5"/><path d="M97.60,240.70h-7.5"/><path d="M97.60,123.20h-7.5"/></g>
<g stroke="#000" stroke-width="2.2" fill="none" stroke-linecap="butt"><path d="M639.40,28.00V358.20H1055.00"/><path d="M639.40,358.20v7.6"/><path d="M812.20,358.20v7.6"/><path d="M985.00,358.20v7.6"/><path d="M639.40,280.80h-8.5"/><path d="M639.40,125.60h-8.5"/></g>
<g stroke="#000" stroke-width="2.2" fill="none" stroke-linecap="butt"><path d="M97.60,457.00V786.60H513.00"/><path d="M97.60,786.60v7.5"/><path d="M270.40,786.60v7.5"/><path d="M443.20,786.60v7.5"/><path d="M97.60,786.60h-7.5"/><path d="M97.60,715.20h-7.5"/><path d="M97.60,643.60h-7.5"/><path d="M97.60,572.00h-7.5"/></g>
<g stroke="#000" stroke-width="2.2" fill="none" stroke-linecap="butt"><path d="M639.40,457.00V786.60H1055.00"/><path d="M639.40,786.60v7.6"/><path d="M812.20,786.60v7.6"/><path d="M985.00,786.60v7.6"/><path d="M639.40,720.80h-8.5"/><path d="M639.40,589.50h-8.5"/></g>
<rect x="362.50" y="39.70" width="21.20" height="19.60" fill="#4169e1" fill-opacity="0.3" stroke="#4169e1" stroke-opacity="0.35" stroke-width="1.0"/><path d="M362.00,49.50h22.2" stroke="#4169e1" stroke-width="3.2"/>
<rect x="362.50" y="75.80" width="21.20" height="19.30" fill="#dc143c" fill-opacity="0.3" stroke="#dc143c" stroke-opacity="0.35" stroke-width="1.0"/><path d="M362.00,85.45h22.2" stroke="#dc143c" stroke-width="3.2"/>
<rect x="667.20" y="39.70" width="21.20" height="19.60" fill="#4169e1" fill-opacity="0.3" stroke="#4169e1" stroke-opacity="0.35" stroke-width="1.0"/><path d="M666.70,49.50h22.2" stroke="#4169e1" stroke-width="3.2"/>
<rect x="667.20" y="75.80" width="21.20" height="19.30" fill="#dc143c" fill-opacity="0.3" stroke="#dc143c" stroke-opacity="0.35" stroke-width="1.0"/><path d="M666.70,85.45h22.2" stroke="#dc143c" stroke-width="3.2"/>
<rect x="667.20" y="469.30" width="21.20" height="19.60" fill="#4169e1" fill-opacity="0.3" stroke="#4169e1" stroke-opacity="0.35" stroke-width="1.0"/><path d="M666.70,479.10h22.2" stroke="#4169e1" stroke-width="3.2"/>
<rect x="667.20" y="504.80" width="21.20" height="19.30" fill="#dc143c" fill-opacity="0.3" stroke="#dc143c" stroke-opacity="0.35" stroke-width="1.0"/><path d="M666.70,514.45h22.2" stroke="#dc143c" stroke-width="3.2"/>
<path d="M118.5,514.40H157.2" stroke="#008000" stroke-width="3.3"/>
<path d="M118.5,549.20H157.2" stroke="#d8b8da" stroke-width="3.3"/>
<path d="M118.5,583.80H157.2" stroke="#e0a520" stroke-width="3.3"/>
<path d="M118.5,618.40H157.2" stroke="#1f6ab8" stroke-width="3.3"/>
<path d="M118.5,652.80H157.2" stroke="#882e78" stroke-width="3.3"/>
<text transform="translate(1.60,18.40) scale(1.045,1)" font-size="34" font-weight="bold" stroke="#000" stroke-width="0.8">a</text>
<text transform="translate(535.80,18.40) scale(1.045,1)" font-size="34" font-weight="bold" stroke="#000" stroke-width="0.8">c</text>
<text transform="translate(1.70,443.20) scale(1.045,1)" font-size="34" font-weight="bold" stroke="#000" stroke-width="0.8">b</text>
<text transform="translate(531.80,443.20) scale(1.045,1)" font-size="34" font-weight="bold" stroke="#000" stroke-width="0.8">d</text>
<text transform="translate(97.60,391.80) scale(1.030,1)" text-anchor="middle" font-size="29.00">0</text>
<text transform="translate(270.40,391.80) scale(1.030,1)" text-anchor="middle" font-size="29.00">5</text>
<text transform="translate(443.20,391.80) scale(1.030,1)" text-anchor="middle" font-size="29.00">10</text>
<text transform="translate(639.40,391.80) scale(1.030,1)" text-anchor="middle" font-size="29.00">0</text>
<text transform="translate(812.20,391.80) scale(1.030,1)" text-anchor="middle" font-size="29.00">5</text>
<text transform="translate(985.10,391.80) scale(1.030,1)" text-anchor="middle" font-size="29.00">10</text>
<text transform="translate(97.60,823.80) scale(1.030,1)" text-anchor="middle" font-size="29.00">0</text>
<text transform="translate(270.40,823.80) scale(1.030,1)" text-anchor="middle" font-size="29.00">5</text>
<text transform="translate(443.20,823.80) scale(1.030,1)" text-anchor="middle" font-size="29.00">10</text>
<text transform="translate(639.40,823.80) scale(1.030,1)" text-anchor="middle" font-size="29.00">0</text>
<text transform="translate(812.20,823.80) scale(1.030,1)" text-anchor="middle" font-size="29.00">5</text>
<text transform="translate(985.10,823.80) scale(1.030,1)" text-anchor="middle" font-size="29.00">10</text>
<text transform="translate(84.80,366.00) scale(1.030,1)" text-anchor="end" font-size="29.00">0</text>
<text transform="translate(84.80,248.50) scale(1.030,1)" text-anchor="end" font-size="29.00">0.1</text>
<text transform="translate(84.80,131.00) scale(1.030,1)" text-anchor="end" font-size="29.00">0.2</text>
<text transform="translate(626.20,290.10) scale(1.030,1)" text-anchor="end" font-size="29.00">0</text>
<text transform="translate(626.20,134.90) scale(1.030,1)" text-anchor="end" font-size="29.00">0.04</text>
<text transform="translate(84.80,794.40) scale(1.030,1)" text-anchor="end" font-size="29.00">−5</text>
<text transform="translate(84.80,723.00) scale(1.030,1)" text-anchor="end" font-size="29.00">0</text>
<text transform="translate(84.80,651.40) scale(1.030,1)" text-anchor="end" font-size="29.00">5</text>
<text transform="translate(84.80,579.80) scale(1.030,1)" text-anchor="end" font-size="29.00">10</text>
<text transform="translate(626.20,730.10) scale(1.030,1)" text-anchor="end" font-size="29.00">0</text>
<text transform="translate(626.20,598.80) scale(1.030,1)" text-anchor="end" font-size="29.00">0.01</text>
<text x="264.50" y="421.70" font-size="28.80"><tspan font-style="italic">r</tspan> (fm)</text>
<text x="806.20" y="421.70" font-size="28.80"><tspan font-style="italic">r</tspan> (fm)</text>
<text x="264.50" y="851.40" font-size="28.80"><tspan font-style="italic">r</tspan> (fm)</text>
<text x="806.20" y="851.40" font-size="28.80"><tspan font-style="italic">r</tspan> (fm)</text>
<text transform="translate(24.30,267.30) rotate(-90)" font-size="27.40"><tspan font-style="italic">ρ</tspan><tspan font-size="20.50" dy="10.0">0</tspan><tspan dy="-10.0">(</tspan><tspan font-style="italic">r</tspan>) (fm<tspan font-size="20.50" dy="-10">−3</tspan><tspan dy="10">)</tspan></text>
<text transform="translate(553.30,260.60) rotate(-90)" font-size="27.40"><tspan font-style="italic">ρ</tspan><tspan font-size="20.50" dy="10.0">2</tspan><tspan dy="-10.0">(</tspan><tspan font-style="italic">r</tspan>) (fm<tspan font-size="20.50" dy="-10">−3</tspan><tspan dy="10">)</tspan></text>
<text transform="translate(553.30,690.30) rotate(-90)" font-size="27.40"><tspan font-style="italic">ρ</tspan><tspan font-size="20.50" dy="10.0">4</tspan><tspan dy="-10.0">(</tspan><tspan font-style="italic">r</tspan>) (fm<tspan font-size="20.50" dy="-10">−3</tspan><tspan dy="10">)</tspan></text>
<text transform="translate(24.30,705.20) rotate(-90)" font-size="27.40"><tspan font-style="italic">ρ</tspan><tspan font-size="20.50" dy="10.0">0</tspan><tspan dy="-10.0">(</tspan><tspan font-style="italic">r</tspan>)<tspan font-style="italic">r</tspan><tspan font-size="20.50" dy="-10" font-style="italic">4</tspan><tspan dy="10"> (fm)</tspan></text>
<text x="398.60" y="59.80" font-size="29.20"><tspan font-size="21.80" dy="-9.6">246</tspan><tspan dy="9.6" dx="-0.6">Fm</tspan></text>
<text x="398.60" y="95.60" font-size="29.20"><tspan font-size="21.80" dy="-9.6">254</tspan><tspan dy="9.6" dx="-0.6">Fm</tspan></text>
<text x="703.20" y="59.80" font-size="29.20"><tspan font-size="21.80" dy="-9.6">246</tspan><tspan dy="9.6" dx="-0.6">Fm</tspan></text>
<text x="703.20" y="95.60" font-size="29.20"><tspan font-size="21.80" dy="-9.6">254</tspan><tspan dy="9.6" dx="-0.6">Fm</tspan></text>
<text x="703.20" y="489.40" font-size="29.20"><tspan font-size="21.80" dy="-9.6">246</tspan><tspan dy="9.6" dx="-0.6">Fm</tspan></text>
<text x="703.20" y="524.60" font-size="29.20"><tspan font-size="21.80" dy="-9.6">254</tspan><tspan dy="9.6" dx="-0.6">Fm</tspan></text>
<text x="165.30" y="524.80" font-size="29" transform="matrix(0.9400,0,0,1,9.918,0)">Fy(IVP)</text>
<text x="165.30" y="559.60" font-size="29" transform="matrix(1.0470,0,0,1,-7.769,0)">SV-min</text>
<text x="165.30" y="594.20" font-size="29" transform="matrix(0.9900,0,0,1,1.653,0)">SLyMR1</text>
<text x="165.30" y="628.80" font-size="29" transform="matrix(1.0370,0,0,1,-6.116,0)">D1M</text>
<text x="165.30" y="663.20" font-size="29" transform="matrix(1.0270,0,0,1,-4.463,0)">BSkG2</text>
<text x="120.30" y="489.4" font-size="29.00" transform="matrix(0.982,0,0,1,2.165,0)"><tspan font-size="21.00" dy="-9.6">254</tspan><tspan dy="9.6">Fm–</tspan><tspan font-size="21.00" dy="-9.6">246</tspan><tspan dy="9.6">Fm</tspan></text>
</svg>
</body></html>
